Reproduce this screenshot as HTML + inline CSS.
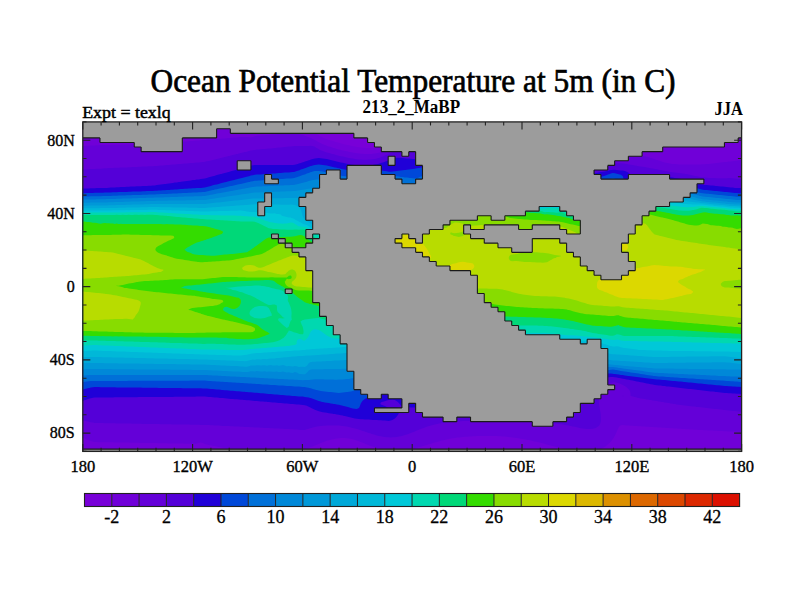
<!DOCTYPE html><html><head><meta charset="utf-8"><style>html,body{margin:0;padding:0;background:#fff;width:800px;height:600px;overflow:hidden}svg{display:block}</style></head><body><svg width="800" height="600" viewBox="0 0 800 600"><rect width="800" height="600" fill="#fff"/><defs><clipPath id="mc"><rect x="82.80" y="121.90" width="658.80" height="329.50"/></clipPath></defs><g clip-path="url(#mc)"><rect x="82.80" y="121.90" width="658.80" height="329.50" fill="#7800d8"/><path fill-rule="evenodd" fill="#7000d8" d="M282.8 123.9L284.8 123.8L286.8 123.8L288.7 123.9L288.8 123.9L290.8 124.0L292.8 124.2L294.8 124.5L296.8 124.9L298.8 125.4L300.6 125.9L300.8 126.0L302.8 126.7L304.8 127.5L305.8 127.9L306.8 128.3L308.8 129.3L309.9 129.9L310.8 130.4L312.8 131.5L313.5 131.9L314.8 132.7L316.6 133.9L316.8 134.0L318.8 135.3L319.7 135.9L320.8 136.6L322.8 137.6L323.4 137.9L324.8 138.5L326.8 139.2L328.8 139.9L328.8 139.9L330.8 140.5L332.8 141.1L334.8 141.7L335.4 141.9L336.8 142.3L338.8 142.8L340.8 143.4L342.8 143.9L342.9 143.9L344.8 144.4L346.8 144.9L348.8 145.3L350.8 145.7L351.5 145.9L352.8 146.2L354.8 146.5L356.8 146.9L358.8 147.2L360.8 147.5L362.8 147.7L364.8 147.9L364.9 147.9L366.8 148.0L368.8 148.1L370.8 148.1L372.8 148.1L374.8 147.9L374.8 147.9L376.8 147.6L378.8 147.1L380.8 146.3L381.7 145.9L382.8 145.3L384.8 144.3L385.5 143.9L386.8 143.2L388.8 142.2L389.4 141.9L390.8 141.2L392.8 140.4L394.0 139.9L394.8 139.6L396.8 138.9L398.8 138.3L400.1 137.9L400.8 137.7L402.8 137.2L404.8 136.8L406.8 136.4L408.8 136.0L409.6 135.9L410.8 135.7L412.8 135.4L414.8 135.1L416.8 134.8L418.8 134.5L420.8 134.2L422.8 134.0L423.2 133.9L424.8 133.7L426.8 133.4L428.8 133.0L430.8 132.7L432.8 132.4L434.8 132.0L435.6 131.9L436.8 131.7L438.8 131.3L440.8 131.0L442.8 130.6L444.8 130.3L446.8 129.9L446.8 129.9L448.8 129.5L450.8 129.2L452.8 128.9L454.8 128.5L456.8 128.2L458.8 127.9L458.8 127.9L460.8 127.6L462.8 127.3L464.8 127.1L466.8 126.8L468.8 126.6L470.8 126.4L472.8 126.2L474.8 126.0L475.7 125.9L476.8 125.8L478.8 125.7L480.8 125.5L482.8 125.4L484.8 125.3L486.8 125.2L488.8 125.2L490.8 125.1L492.8 125.1L494.8 125.1L496.8 125.1L498.8 125.2L500.8 125.2L502.8 125.3L504.8 125.3L506.8 125.4L508.8 125.5L510.8 125.6L512.8 125.7L514.8 125.9L515.1 125.9L516.8 126.0L518.8 126.2L520.8 126.3L522.8 126.5L524.8 126.6L526.8 126.8L528.8 127.0L530.8 127.1L532.8 127.3L534.8 127.4L536.8 127.6L538.8 127.7L540.8 127.8L542.1 127.9L542.8 127.9L544.8 128.0L546.8 128.1L548.8 128.2L550.8 128.2L552.8 128.2L554.8 128.1L556.8 128.1L558.8 128.0L560.3 127.9L560.8 127.9L562.8 127.7L564.8 127.5L566.8 127.3L568.8 127.0L570.8 126.7L572.8 126.4L574.8 126.1L575.7 125.9L576.8 125.7L578.8 125.4L580.8 125.0L582.8 124.7L584.8 124.4L586.8 124.1L588.7 123.9L588.8 123.9L590.8 123.7L592.8 123.6L594.8 123.5L596.8 123.5L598.8 123.5L600.8 123.6L602.8 123.8L603.4 123.9L604.8 124.1L606.8 124.4L608.8 124.8L610.8 125.3L612.8 125.9L612.9 125.9L614.8 126.5L616.8 127.2L618.7 127.9L618.8 128.0L620.8 128.8L622.8 129.7L623.3 129.9L624.8 130.6L626.8 131.5L627.6 131.9L628.8 132.5L630.8 133.4L631.8 133.9L632.8 134.4L634.8 135.3L636.3 135.9L636.8 136.1L638.8 136.9L640.8 137.7L641.4 137.9L642.8 138.4L644.8 139.1L646.8 139.7L647.3 139.9L648.8 140.4L650.8 141.0L652.8 141.6L653.7 141.9L654.8 142.3L656.8 142.9L658.8 143.5L660.1 143.9L660.8 144.1L662.8 144.6L664.8 145.0L666.8 145.3L668.8 145.5L670.8 145.6L672.8 145.4L674.8 145.1L676.8 144.5L678.3 143.9L678.8 143.7L680.8 142.7L682.1 141.9L682.8 141.5L684.8 140.2L685.2 139.9L686.8 138.8L688.0 137.9L688.8 137.4L690.8 136.0L691.0 135.9L692.8 134.8L694.5 133.9L694.8 133.8L696.8 132.8L698.8 132.0L699.1 131.9L700.8 131.3L702.8 130.7L704.8 130.2L706.1 129.9L706.8 129.7L708.8 129.4L710.8 129.0L712.8 128.7L714.8 128.5L716.8 128.2L718.8 127.9L719.2 127.9L720.8 127.7L722.8 127.5L724.8 127.3L726.8 127.1L728.8 126.8L730.8 126.6L732.8 126.5L734.8 126.3L736.8 126.1L738.8 126.0L740.8 125.9L741.5 125.9L742.8 125.9L744.8 125.8L744.8 125.9L744.8 127.9L744.8 129.9L744.8 131.9L744.8 133.9L744.8 135.9L744.8 137.9L744.8 139.9L744.8 141.9L744.8 143.9L744.8 145.9L744.8 147.9L744.8 149.9L744.8 151.9L744.8 153.9L744.8 155.9L744.8 157.9L744.8 159.9L744.8 161.9L744.8 163.9L744.8 165.9L744.8 167.9L744.8 169.9L744.8 171.9L744.8 173.9L744.8 175.9L744.8 177.9L744.8 179.9L744.8 181.9L744.8 183.9L744.8 185.9L744.8 187.9L744.8 189.9L744.8 191.9L744.8 193.9L744.8 195.9L744.8 197.9L744.8 199.9L744.8 201.9L744.8 203.9L744.8 205.9L744.8 207.9L744.8 209.9L744.8 211.9L744.8 213.9L744.8 215.9L744.8 217.9L744.8 219.9L744.8 221.9L744.8 223.9L744.8 225.9L744.8 227.9L744.8 229.9L744.8 231.9L744.8 233.9L744.8 235.9L744.8 237.9L744.8 239.9L744.8 241.9L744.8 243.9L744.8 245.9L744.8 247.9L744.8 249.9L744.8 251.9L744.8 253.9L744.8 255.9L744.8 257.9L744.8 259.9L744.8 261.9L744.8 263.9L744.8 265.9L744.8 267.9L744.8 269.9L744.8 271.9L744.8 273.9L744.8 275.9L744.8 277.9L744.8 279.9L744.8 281.9L744.8 283.9L744.8 285.9L744.8 287.9L744.8 289.9L744.8 291.9L744.8 293.9L744.8 295.9L744.8 297.9L744.8 299.9L744.8 301.9L744.8 303.9L744.8 305.9L744.8 307.9L744.8 309.9L744.8 311.9L744.8 313.9L744.8 315.9L744.8 317.9L744.8 319.9L744.8 321.9L744.8 323.9L744.8 325.9L744.8 327.9L744.8 329.9L744.8 331.9L744.8 333.9L744.8 335.9L744.8 337.9L744.8 339.9L744.8 341.9L744.8 343.9L744.8 345.9L744.8 347.9L744.8 349.9L744.8 351.9L744.8 353.9L744.8 355.9L744.8 357.9L744.8 359.9L744.8 361.9L744.8 363.9L744.8 365.9L744.8 367.9L744.8 369.9L744.8 371.9L744.8 373.9L744.8 375.9L744.8 377.9L744.8 379.9L744.8 381.9L744.8 383.9L744.8 385.9L744.8 387.9L744.8 389.9L744.8 391.9L744.8 393.9L744.8 395.9L744.8 397.9L744.8 399.9L744.8 401.9L744.8 403.9L744.8 405.9L744.8 407.9L744.8 409.9L744.8 411.9L744.8 413.9L744.8 415.9L744.8 417.9L744.8 419.9L744.8 421.9L744.8 423.9L744.8 425.9L744.8 427.9L744.8 429.9L744.8 431.9L744.8 433.9L744.8 435.9L744.8 437.9L744.8 439.9L744.8 441.9L744.8 443.9L744.8 445.9L744.8 447.9L744.8 449.9L744.8 451.9L744.8 453.9L742.8 453.9L740.8 453.9L738.8 453.9L736.8 453.9L734.8 453.9L732.8 453.9L730.8 453.9L728.8 453.9L726.8 453.9L724.8 453.9L722.8 453.9L720.8 453.9L718.8 453.9L716.8 453.9L714.8 453.9L712.8 453.9L710.8 453.9L708.8 453.9L706.8 453.9L704.8 453.9L702.8 453.9L700.8 453.9L698.8 453.9L696.8 453.9L694.8 453.9L692.8 453.9L690.8 453.9L688.8 453.9L686.8 453.9L684.8 453.9L682.8 453.9L680.8 453.9L678.8 453.9L676.8 453.9L674.8 453.9L672.8 453.9L670.8 453.9L668.8 453.9L666.8 453.9L664.8 453.9L662.8 453.9L660.8 453.9L658.8 453.9L656.8 453.9L654.8 453.9L652.8 453.9L650.8 453.9L648.8 453.9L646.8 453.9L644.8 453.9L642.8 453.9L640.8 453.9L638.8 453.9L636.8 453.9L634.8 453.9L632.8 453.9L630.8 453.9L628.8 453.9L626.8 453.9L624.8 453.9L622.8 453.9L620.8 453.9L618.8 453.9L616.8 453.9L614.8 453.9L612.8 453.9L610.8 453.9L608.8 453.9L606.8 453.9L604.8 453.9L602.8 453.9L600.8 453.9L598.8 453.9L596.8 453.9L594.8 453.9L592.8 453.9L590.8 453.9L588.8 453.9L586.8 453.9L584.8 453.9L582.8 453.9L580.8 453.9L578.8 453.9L576.8 453.9L574.8 453.9L572.8 453.9L570.8 453.9L568.8 453.9L566.8 453.9L564.8 453.9L562.8 453.9L560.8 453.9L558.8 453.9L556.8 453.9L554.8 453.9L552.8 453.9L550.8 453.9L548.8 453.9L546.8 453.9L544.8 453.9L542.8 453.9L540.8 453.9L538.8 453.9L536.8 453.9L534.8 453.9L532.8 453.9L530.8 453.9L528.8 453.9L526.8 453.9L524.8 453.9L522.8 453.9L520.8 453.9L518.8 453.9L516.8 453.9L514.8 453.9L512.8 453.9L510.8 453.9L508.8 453.9L506.8 453.9L504.8 453.9L502.8 453.9L500.8 453.9L498.8 453.9L496.8 453.9L494.8 453.9L492.8 453.9L490.8 453.9L488.8 453.9L486.8 453.9L484.8 453.9L482.8 453.9L480.8 453.9L478.8 453.9L476.8 453.9L474.8 453.9L472.8 453.9L470.8 453.9L468.8 453.9L466.8 453.9L464.8 453.9L462.8 453.9L460.8 453.9L458.8 453.9L456.8 453.9L454.8 453.9L452.8 453.9L450.8 453.9L448.8 453.9L446.8 453.9L444.8 453.9L442.8 453.9L440.8 453.9L438.8 453.9L436.8 453.9L434.8 453.9L432.8 453.9L430.8 453.9L428.8 453.9L426.8 453.9L424.8 453.9L422.8 453.9L420.8 453.9L418.8 453.9L416.8 453.9L414.8 453.9L412.8 453.9L410.8 453.9L408.8 453.9L406.8 453.9L404.8 453.9L402.8 453.9L400.8 453.9L398.8 453.9L396.8 453.9L394.8 453.9L392.8 453.9L390.8 453.9L388.8 453.9L386.8 453.9L384.8 453.9L382.8 453.9L380.8 453.9L378.8 453.9L376.8 453.9L374.8 453.9L372.8 453.9L370.8 453.9L368.8 453.9L366.8 453.9L364.8 453.9L362.8 453.9L360.8 453.9L358.8 453.9L356.8 453.9L354.8 453.9L353.2 453.9L352.8 453.8L350.8 453.4L348.8 453.1L346.8 453.0L344.8 453.0L342.8 453.2L340.8 453.5L338.8 453.9L338.6 453.9L336.8 453.9L334.8 453.9L332.8 453.9L330.8 453.9L328.8 453.9L326.8 453.9L324.8 453.9L322.8 453.9L320.8 453.9L318.8 453.9L316.8 453.9L314.8 453.9L312.8 453.9L310.8 453.9L308.8 453.9L306.8 453.9L304.8 453.9L302.8 453.9L300.8 453.9L298.8 453.9L296.8 453.9L294.8 453.9L292.8 453.9L290.8 453.9L288.8 453.9L286.8 453.9L284.8 453.9L282.8 453.9L280.8 453.9L278.8 453.9L276.8 453.9L274.8 453.9L272.8 453.9L270.8 453.9L268.8 453.9L266.8 453.9L264.8 453.9L262.8 453.9L260.8 453.9L258.8 453.9L256.8 453.9L254.8 453.9L252.8 453.9L250.8 453.9L248.8 453.9L246.8 453.9L244.8 453.9L242.8 453.9L240.8 453.9L238.8 453.9L236.8 453.9L234.8 453.9L232.8 453.9L230.8 453.9L228.8 453.9L226.8 453.9L224.8 453.9L222.8 453.9L220.8 453.9L218.8 453.9L216.8 453.9L214.8 453.9L212.8 453.9L210.8 453.9L208.8 453.9L206.8 453.9L204.8 453.9L203.2 453.9L202.8 453.7L200.8 453.2L198.8 453.0L196.8 453.3L194.8 453.7L193.7 453.9L192.8 453.9L190.8 453.9L188.8 453.9L186.8 453.9L184.8 453.9L182.8 453.9L180.8 453.9L178.8 453.9L176.8 453.9L174.8 453.9L172.8 453.9L170.8 453.9L168.8 453.9L166.8 453.9L164.8 453.9L162.8 453.9L160.8 453.9L158.8 453.9L156.8 453.9L154.8 453.9L152.8 453.9L150.8 453.9L148.8 453.9L146.8 453.9L144.8 453.9L142.8 453.9L140.8 453.9L138.8 453.9L136.8 453.9L134.8 453.9L132.8 453.9L130.8 453.9L128.8 453.9L126.8 453.9L124.8 453.9L122.8 453.9L120.8 453.9L118.8 453.9L116.8 453.9L114.8 453.9L112.8 453.9L110.8 453.9L108.8 453.9L106.8 453.9L104.8 453.9L102.8 453.9L100.8 453.9L98.8 453.9L96.8 453.9L94.8 453.9L92.8 453.9L90.8 453.9L88.8 453.9L86.8 453.9L84.8 453.9L84.6 453.9L82.8 453.4L80.8 452.9L80.8 451.9L80.8 449.9L80.8 447.9L80.8 445.9L80.8 443.9L80.8 441.9L80.8 439.9L80.8 437.9L80.8 435.9L80.8 433.9L80.8 431.9L80.8 429.9L80.8 427.9L80.8 425.9L80.8 423.9L80.8 421.9L80.8 419.9L80.8 417.9L80.8 415.9L80.8 413.9L80.8 411.9L80.8 409.9L80.8 407.9L80.8 405.9L80.8 403.9L80.8 401.9L80.8 399.9L80.8 397.9L80.8 395.9L80.8 393.9L80.8 391.9L80.8 389.9L80.8 387.9L80.8 385.9L80.8 383.9L80.8 381.9L80.8 379.9L80.8 377.9L80.8 375.9L80.8 373.9L80.8 371.9L80.8 369.9L80.8 367.9L80.8 365.9L80.8 363.9L80.8 361.9L80.8 359.9L80.8 357.9L80.8 355.9L80.8 353.9L80.8 351.9L80.8 349.9L80.8 347.9L80.8 345.9L80.8 343.9L80.8 341.9L80.8 339.9L80.8 337.9L80.8 335.9L80.8 333.9L80.8 331.9L80.8 329.9L80.8 327.9L80.8 325.9L80.8 323.9L80.8 321.9L80.8 319.9L80.8 317.9L80.8 315.9L80.8 313.9L80.8 311.9L80.8 309.9L80.8 307.9L80.8 305.9L80.8 303.9L80.8 301.9L80.8 299.9L80.8 297.9L80.8 295.9L80.8 293.9L80.8 291.9L80.8 289.9L80.8 287.9L80.8 285.9L80.8 283.9L80.8 281.9L80.8 279.9L80.8 277.9L80.8 275.9L80.8 273.9L80.8 271.9L80.8 269.9L80.8 267.9L80.8 265.9L80.8 263.9L80.8 261.9L80.8 259.9L80.8 257.9L80.8 255.9L80.8 253.9L80.8 251.9L80.8 249.9L80.8 247.9L80.8 245.9L80.8 243.9L80.8 241.9L80.8 239.9L80.8 237.9L80.8 235.9L80.8 233.9L80.8 231.9L80.8 229.9L80.8 227.9L80.8 225.9L80.8 223.9L80.8 221.9L80.8 219.9L80.8 217.9L80.8 215.9L80.8 213.9L80.8 211.9L80.8 209.9L80.8 207.9L80.8 205.9L80.8 203.9L80.8 201.9L80.8 199.9L80.8 197.9L80.8 195.9L80.8 193.9L80.8 191.9L80.8 189.9L80.8 187.9L80.8 185.9L80.8 183.9L80.8 181.9L80.8 179.9L80.8 177.9L80.8 175.9L80.8 173.9L80.8 171.9L80.8 169.9L80.8 167.9L80.8 165.9L80.8 163.9L80.8 161.9L80.8 159.9L80.8 157.9L80.8 155.9L80.8 153.9L80.8 151.9L80.8 149.9L80.8 147.9L80.8 145.9L80.8 143.9L80.8 141.9L80.8 139.9L80.8 137.9L80.8 135.9L80.8 133.9L80.8 131.9L80.8 129.9L80.8 127.9L80.8 125.9L82.8 126.1L84.8 126.2L86.8 126.4L88.8 126.6L90.8 126.8L92.8 127.0L94.8 127.3L96.8 127.5L98.8 127.7L100.8 127.9L100.8 127.9L102.8 128.1L104.8 128.3L106.8 128.5L108.8 128.7L110.8 128.9L112.8 129.1L114.8 129.2L116.8 129.4L118.8 129.6L120.8 129.8L121.4 129.9L122.8 130.0L124.8 130.3L126.8 130.5L128.8 130.7L130.8 131.0L132.8 131.2L134.8 131.5L136.8 131.8L137.4 131.9L138.8 132.1L140.8 132.4L142.8 132.8L144.8 133.1L146.8 133.3L148.8 133.4L150.8 133.3L152.8 133.1L154.8 132.6L156.8 132.2L157.8 131.9L158.8 131.6L160.8 131.1L162.8 130.6L164.8 130.2L166.0 129.9L166.8 129.7L168.8 129.3L170.8 128.9L172.8 128.5L174.8 128.1L176.3 127.9L176.8 127.8L178.8 127.5L180.8 127.2L182.8 126.9L184.8 126.7L186.8 126.4L188.8 126.2L190.8 126.0L192.4 125.9L192.8 125.9L194.8 125.7L196.8 125.6L198.8 125.5L200.8 125.4L202.8 125.3L204.8 125.2L206.8 125.2L208.8 125.1L210.8 125.1L212.8 125.2L214.8 125.2L216.8 125.2L218.8 125.3L220.8 125.4L222.8 125.5L224.8 125.6L226.8 125.7L228.8 125.9L228.8 125.9L230.8 126.1L232.8 126.3L234.8 126.5L236.8 126.8L238.8 127.1L240.8 127.4L242.8 127.8L243.5 127.9L244.8 128.1L246.8 128.5L248.8 128.7L250.8 128.6L252.8 128.2L253.8 127.9L254.8 127.6L256.8 127.0L258.8 126.5L260.8 126.1L262.0 125.9L262.8 125.7L264.8 125.4L266.8 125.1L268.8 124.9L270.8 124.6L272.8 124.4L274.8 124.3L276.8 124.1L278.8 124.0L280.8 123.9L281.7 123.9Z"/><path fill-rule="evenodd" fill="#6400d8" d="M282.8 133.8L284.8 133.7L286.8 133.5L288.8 133.3L290.8 133.1L292.8 133.1L294.8 133.2L296.8 133.5L298.8 133.9L298.8 133.9L300.8 134.5L302.8 135.1L304.8 135.7L305.3 135.9L306.8 136.4L308.8 137.2L310.5 137.9L310.8 138.0L312.8 138.9L314.7 139.9L314.8 139.9L316.8 141.1L318.2 141.9L318.8 142.3L320.8 143.3L322.1 143.9L322.8 144.2L324.8 145.1L326.8 145.8L327.0 145.9L328.8 146.5L330.8 147.1L332.8 147.7L333.4 147.9L334.8 148.3L336.8 148.9L338.8 149.4L340.8 149.9L340.8 149.9L342.8 150.4L344.8 150.9L346.8 151.3L348.8 151.8L349.5 151.9L350.8 152.2L352.8 152.5L354.8 152.9L356.8 153.2L358.8 153.5L360.8 153.7L362.8 153.8L363.6 153.9L364.8 154.0L366.8 154.0L368.8 154.0L370.8 154.0L371.8 153.9L372.8 153.8L374.8 153.6L376.8 153.3L378.8 152.8L380.8 152.2L381.5 151.9L382.8 151.3L384.8 150.3L385.6 149.9L386.8 149.3L388.8 148.2L389.5 147.9L390.8 147.3L392.8 146.4L394.2 145.9L394.8 145.7L396.8 145.0L398.8 144.5L400.8 144.1L401.7 143.9L402.8 143.7L404.8 143.4L406.8 143.2L408.8 143.0L410.8 142.8L412.8 142.6L414.8 142.5L416.8 142.3L418.8 142.2L420.8 142.0L421.3 141.9L422.8 141.7L424.8 141.5L426.8 141.2L428.8 140.9L430.8 140.6L432.8 140.3L434.8 139.9L435.0 139.9L436.8 139.6L438.8 139.2L440.8 138.8L442.8 138.4L444.8 138.0L445.5 137.9L446.8 137.6L448.8 137.3L450.8 136.9L452.8 136.5L454.8 136.2L456.5 135.9L456.8 135.8L458.8 135.5L460.8 135.2L462.8 134.9L464.8 134.7L466.8 134.4L468.8 134.2L470.8 134.0L471.6 133.9L472.8 133.8L474.8 133.6L476.8 133.5L478.8 133.4L480.8 133.3L482.8 133.2L484.8 133.1L486.8 133.1L488.8 133.1L490.8 133.1L492.8 133.1L494.8 133.2L496.8 133.3L498.8 133.4L500.8 133.5L502.8 133.6L504.8 133.8L506.3 133.9L506.8 133.9L508.8 134.1L510.8 134.4L512.8 134.6L514.8 134.8L516.8 135.1L518.8 135.4L520.8 135.6L522.6 135.9L522.8 135.9L524.8 136.2L526.8 136.5L528.8 136.8L530.8 137.2L532.8 137.5L534.8 137.8L535.4 137.9L536.8 138.1L538.8 138.4L540.8 138.7L542.8 139.0L544.8 139.3L546.8 139.6L548.8 139.9L548.9 139.9L550.8 140.1L552.8 140.4L554.8 140.6L556.8 140.8L558.8 140.9L560.8 141.0L562.8 141.1L564.8 141.2L566.8 141.1L568.8 141.1L570.8 140.9L572.8 140.7L574.8 140.4L576.8 140.0L577.1 139.9L578.8 139.5L580.8 139.0L582.8 138.5L584.8 137.9L585.0 137.9L586.8 137.5L588.8 137.0L590.8 136.7L592.8 136.4L594.8 136.2L596.8 136.2L598.8 136.3L600.8 136.5L602.8 136.8L604.8 137.4L606.4 137.9L606.8 138.0L608.8 138.9L610.8 139.9L610.8 139.9L612.8 141.1L614.0 141.9L614.8 142.5L616.7 143.9L616.8 144.0L618.8 145.6L619.3 145.9L620.8 147.1L621.9 147.9L622.8 148.5L624.8 149.7L625.1 149.9L626.8 150.8L628.8 151.7L629.3 151.9L630.8 152.5L632.8 153.2L634.8 153.8L635.2 153.9L636.8 154.3L638.8 154.8L640.8 155.2L642.8 155.7L643.5 155.9L644.8 156.2L646.8 156.7L648.8 157.3L650.6 157.9L650.8 158.0L652.8 158.6L654.8 159.3L656.6 159.9L656.8 160.0L658.8 160.6L660.8 161.2L662.8 161.9L662.9 161.9L664.8 162.4L666.8 162.9L668.8 163.3L670.8 163.7L672.3 163.9L672.8 164.0L674.8 164.1L676.8 164.3L678.8 164.4L680.8 164.4L682.8 164.5L684.8 164.5L686.8 164.5L688.8 164.5L690.8 164.5L692.8 164.5L694.8 164.5L696.8 164.5L698.8 164.4L700.8 164.4L702.8 164.3L704.8 164.2L706.8 164.0L708.7 163.9L708.8 163.9L710.8 163.7L712.8 163.5L714.8 163.3L716.8 163.0L718.8 162.8L720.8 162.6L722.8 162.3L724.8 162.1L726.4 161.9L726.8 161.9L728.8 161.6L730.8 161.4L732.8 161.2L734.8 161.0L736.8 160.8L738.8 160.5L740.8 160.1L741.9 159.9L742.8 159.7L744.8 159.1L744.8 159.9L744.8 161.9L744.8 163.9L744.8 165.9L744.8 167.9L744.8 169.9L744.8 171.9L744.8 173.9L744.8 175.9L744.8 177.9L744.8 179.9L744.8 181.9L744.8 183.9L744.8 185.9L744.8 187.9L744.8 189.9L744.8 191.9L744.8 193.9L744.8 195.9L744.8 197.9L744.8 199.9L744.8 201.9L744.8 203.9L744.8 205.9L744.8 207.9L744.8 209.9L744.8 211.9L744.8 213.9L744.8 215.9L744.8 217.9L744.8 219.9L744.8 221.9L744.8 223.9L744.8 225.9L744.8 227.9L744.8 229.9L744.8 231.9L744.8 233.9L744.8 235.9L744.8 237.9L744.8 239.9L744.8 241.9L744.8 243.9L744.8 245.9L744.8 247.9L744.8 249.9L744.8 251.9L744.8 253.9L744.8 255.9L744.8 257.9L744.8 259.9L744.8 261.9L744.8 263.9L744.8 265.9L744.8 267.9L744.8 269.9L744.8 271.9L744.8 273.9L744.8 275.9L744.8 277.9L744.8 279.9L744.8 281.9L744.8 283.9L744.8 285.9L744.8 287.9L744.8 289.9L744.8 291.9L744.8 293.9L744.8 295.9L744.8 297.9L744.8 299.9L744.8 301.9L744.8 303.9L744.8 305.9L744.8 307.9L744.8 309.9L744.8 311.9L744.8 313.9L744.8 315.9L744.8 317.9L744.8 319.9L744.8 321.9L744.8 323.9L744.8 325.9L744.8 327.9L744.8 329.9L744.8 331.9L744.8 333.9L744.8 335.9L744.8 337.9L744.8 339.9L744.8 341.9L744.8 343.9L744.8 345.9L744.8 347.9L744.8 349.9L744.8 351.9L744.8 353.9L744.8 355.9L744.8 357.9L744.8 359.9L744.8 361.9L744.8 363.9L744.8 365.9L744.8 367.9L744.8 369.9L744.8 371.9L744.8 373.9L744.8 375.9L744.8 377.9L744.8 379.9L744.8 381.9L744.8 383.9L744.8 385.9L744.8 387.9L744.8 389.9L744.8 391.9L744.8 393.9L744.8 395.9L744.8 397.9L744.8 399.9L744.8 401.9L744.8 403.9L744.8 405.9L744.8 407.9L744.8 409.9L744.8 411.9L744.8 413.9L744.8 415.9L744.8 417.9L744.8 419.9L744.8 421.9L744.8 423.9L744.8 425.9L744.8 427.9L744.8 429.9L744.8 431.9L744.8 432.5L742.8 432.2L740.8 431.9L740.0 431.9L738.8 431.8L736.8 431.8L734.8 431.7L732.8 431.6L730.8 431.5L728.8 431.4L726.8 431.3L724.8 431.2L722.8 431.1L720.8 431.0L718.8 430.9L716.8 430.8L714.8 430.7L712.8 430.6L710.8 430.5L708.8 430.4L706.8 430.3L704.8 430.2L702.8 430.1L700.8 430.0L698.8 429.9L698.3 429.9L696.8 429.8L694.8 429.7L692.8 429.6L690.8 429.4L688.8 429.3L686.8 429.2L684.8 429.1L682.8 428.9L680.8 428.8L678.8 428.7L676.8 428.6L674.8 428.4L672.8 428.3L670.8 428.2L668.8 428.1L666.8 427.9L666.3 427.9L664.8 427.8L662.8 427.7L660.8 427.6L658.8 427.4L656.8 427.3L654.8 427.2L652.8 427.1L650.8 426.9L648.8 426.8L646.8 426.7L644.8 426.6L642.8 426.4L640.8 426.3L638.8 426.2L636.8 426.1L634.8 425.9L634.4 425.9L632.8 425.8L630.8 425.7L628.8 425.5L626.8 425.4L624.8 425.2L622.8 425.0L620.8 425.3L619.9 425.9L618.8 427.1L618.4 427.9L617.5 429.9L616.8 431.4L616.6 431.9L615.7 433.9L614.8 435.7L614.7 435.9L613.6 437.9L612.8 439.0L612.2 439.9L610.8 441.6L610.5 441.9L608.8 443.6L608.5 443.9L606.8 445.3L606.0 445.9L604.8 446.7L602.8 447.9L602.8 447.9L600.8 448.9L598.8 449.8L598.4 449.9L596.8 450.4L594.8 451.0L592.8 451.4L590.8 451.8L589.8 451.9L588.8 452.0L586.8 452.2L584.8 452.2L582.8 452.2L580.8 452.1L578.8 452.0L578.3 451.9L576.8 451.7L574.8 451.5L572.8 451.1L570.8 450.7L568.8 450.3L567.0 449.9L566.8 449.9L564.8 449.4L562.8 448.8L560.8 448.3L559.3 447.9L558.8 447.8L556.8 447.2L554.8 446.6L552.8 446.1L552.2 445.9L550.8 445.5L548.8 444.9L546.8 444.4L545.0 443.9L544.8 443.8L542.8 443.3L540.8 442.8L538.8 442.3L537.1 441.9L536.8 441.8L534.8 441.4L532.8 440.9L530.8 440.5L528.8 440.1L527.8 439.9L526.8 439.7L524.8 439.3L522.8 439.0L520.8 438.7L518.8 438.3L516.8 438.0L515.9 437.9L514.8 437.7L512.8 437.5L510.8 437.2L508.8 437.0L506.8 436.8L504.8 436.6L502.8 436.5L500.8 436.3L498.8 436.2L496.8 436.1L494.8 436.0L492.8 436.0L490.8 436.0L488.8 435.9L486.8 435.9L484.8 436.0L482.8 436.0L480.8 436.0L478.8 436.1L476.8 436.1L474.8 436.2L472.8 436.3L470.8 436.4L468.8 436.5L466.8 436.7L464.8 436.8L462.8 437.0L460.8 437.2L458.8 437.4L456.8 437.6L455.0 437.9L454.8 437.9L452.8 438.2L450.8 438.6L448.8 439.0L446.8 439.4L444.8 439.8L444.6 439.9L442.8 440.3L440.8 440.8L438.8 441.4L437.0 441.9L436.8 442.0L434.8 442.5L432.8 443.1L430.8 443.7L430.2 443.9L428.8 444.3L426.8 444.9L424.8 445.5L423.6 445.9L422.8 446.1L420.8 446.7L418.8 447.3L416.8 447.8L416.3 447.9L414.8 448.3L412.8 448.7L410.8 449.2L408.8 449.5L406.8 449.9L406.5 449.9L404.8 450.1L402.8 450.4L400.8 450.5L398.8 450.6L396.8 450.7L394.8 450.7L392.8 450.6L390.8 450.5L388.8 450.3L386.8 450.1L385.8 449.9L384.8 449.8L382.8 449.4L380.8 448.9L378.8 448.4L376.8 447.9L376.8 447.9L374.8 447.3L372.8 446.6L370.8 445.9L370.8 445.9L368.8 445.2L366.8 444.4L365.5 443.9L364.8 443.6L362.8 442.8L360.8 442.0L360.5 441.9L358.8 441.2L356.8 440.5L355.0 439.9L354.8 439.8L352.8 439.3L350.8 438.8L348.8 438.5L346.8 438.2L344.8 438.1L342.8 438.0L340.8 438.1L338.8 438.2L336.8 438.5L334.8 438.8L332.8 439.2L330.8 439.7L329.9 439.9L328.8 440.2L326.8 440.8L324.8 441.5L323.8 441.9L322.8 442.3L320.8 443.1L318.8 443.9L318.8 443.9L316.8 444.7L314.8 445.6L313.9 445.9L312.8 446.4L310.8 447.1L308.8 447.9L308.7 447.9L306.8 448.5L304.8 449.2L302.8 449.8L302.4 449.9L300.8 450.3L298.8 450.8L296.8 451.3L294.8 451.7L293.7 451.9L292.8 452.1L290.8 452.4L288.8 452.7L286.8 453.0L284.8 453.2L282.8 453.4L280.8 453.6L278.8 453.7L276.8 453.8L274.8 453.9L273.4 453.9L272.8 453.9L270.8 453.9L268.8 453.9L268.5 453.9L266.8 453.9L264.8 453.8L262.8 453.7L260.8 453.6L258.8 453.4L256.8 453.2L254.8 453.1L252.8 452.8L250.8 452.6L248.8 452.3L246.8 452.1L245.6 451.9L244.8 451.8L242.8 451.5L240.8 451.1L238.8 450.8L236.8 450.4L234.8 450.1L233.9 449.9L232.8 449.7L230.8 449.3L228.8 448.9L226.8 448.5L224.8 448.1L223.6 447.9L222.8 447.7L220.8 447.3L218.8 446.9L216.8 446.5L214.8 446.1L213.6 445.9L212.8 445.7L210.8 445.3L208.8 444.9L206.8 444.4L204.8 443.9L204.8 443.9L202.8 443.0L200.8 442.5L198.8 442.8L196.8 443.4L194.8 443.7L192.8 443.8L190.8 443.8L188.8 443.7L186.8 443.7L184.8 443.7L182.8 443.6L180.8 443.6L178.8 443.5L176.8 443.5L174.8 443.5L172.8 443.4L170.8 443.4L168.8 443.4L166.8 443.3L164.8 443.3L162.8 443.3L160.8 443.2L158.8 443.2L156.8 443.1L154.8 443.1L152.8 443.1L150.8 443.0L148.8 443.0L146.8 443.0L144.8 442.9L142.8 442.9L140.8 442.9L138.8 442.8L136.8 442.8L134.8 442.7L132.8 442.7L130.8 442.7L128.8 442.6L126.8 442.6L124.8 442.6L122.8 442.5L120.8 442.5L118.8 442.5L116.8 442.4L114.8 442.4L112.8 442.3L110.8 442.3L108.8 442.3L106.8 442.2L104.8 442.2L102.8 442.2L100.8 442.2L98.8 442.2L96.8 442.1L94.8 442.0L94.2 441.9L92.8 441.6L90.8 440.9L88.8 440.2L88.1 439.9L86.8 439.4L84.8 438.6L82.8 438.0L82.5 437.9L80.8 437.4L80.8 435.9L80.8 433.9L80.8 431.9L80.8 429.9L80.8 427.9L80.8 425.9L80.8 423.9L80.8 421.9L80.8 419.9L80.8 417.9L80.8 415.9L80.8 413.9L80.8 411.9L80.8 409.9L80.8 407.9L80.8 405.9L80.8 403.9L80.8 401.9L80.8 399.9L80.8 397.9L80.8 395.9L80.8 393.9L80.8 391.9L80.8 389.9L80.8 387.9L80.8 385.9L80.8 383.9L80.8 381.9L80.8 379.9L80.8 377.9L80.8 375.9L80.8 373.9L80.8 371.9L80.8 369.9L80.8 367.9L80.8 365.9L80.8 363.9L80.8 361.9L80.8 359.9L80.8 357.9L80.8 355.9L80.8 353.9L80.8 351.9L80.8 349.9L80.8 347.9L80.8 345.9L80.8 343.9L80.8 341.9L80.8 339.9L80.8 337.9L80.8 335.9L80.8 333.9L80.8 331.9L80.8 329.9L80.8 327.9L80.8 325.9L80.8 323.9L80.8 321.9L80.8 319.9L80.8 317.9L80.8 315.9L80.8 313.9L80.8 311.9L80.8 309.9L80.8 307.9L80.8 305.9L80.8 303.9L80.8 301.9L80.8 299.9L80.8 297.9L80.8 295.9L80.8 293.9L80.8 291.9L80.8 289.9L80.8 287.9L80.8 285.9L80.8 283.9L80.8 281.9L80.8 279.9L80.8 277.9L80.8 275.9L80.8 273.9L80.8 271.9L80.8 269.9L80.8 267.9L80.8 265.9L80.8 263.9L80.8 261.9L80.8 259.9L80.8 257.9L80.8 255.9L80.8 253.9L80.8 251.9L80.8 249.9L80.8 247.9L80.8 245.9L80.8 243.9L80.8 241.9L80.8 239.9L80.8 237.9L80.8 235.9L80.8 233.9L80.8 231.9L80.8 229.9L80.8 227.9L80.8 225.9L80.8 223.9L80.8 221.9L80.8 219.9L80.8 217.9L80.8 215.9L80.8 213.9L80.8 211.9L80.8 209.9L80.8 207.9L80.8 205.9L80.8 203.9L80.8 201.9L80.8 199.9L80.8 197.9L80.8 195.9L80.8 193.9L80.8 191.9L80.8 189.9L80.8 187.9L80.8 185.9L80.8 183.9L80.8 181.9L80.8 179.9L80.8 177.9L80.8 175.9L80.8 173.9L80.8 171.9L80.8 169.9L80.8 167.9L80.8 165.9L80.8 163.9L80.8 161.9L80.8 159.9L80.8 157.9L80.8 155.9L80.8 153.9L80.8 151.9L80.8 149.9L80.8 147.9L80.8 145.9L82.8 145.9L83.9 145.9L84.8 145.9L86.8 145.8L88.8 145.7L90.8 145.6L92.8 145.5L94.8 145.4L96.8 145.3L98.8 145.2L100.8 145.1L102.8 145.0L104.8 145.0L106.8 144.9L108.8 144.9L110.8 144.9L112.8 144.8L114.8 144.8L116.8 144.7L118.8 144.7L120.8 144.7L122.8 144.6L124.8 144.6L126.8 144.6L128.8 144.5L130.8 144.5L132.8 144.4L134.8 144.4L136.8 144.4L138.8 144.3L140.8 144.3L142.8 144.3L144.8 144.3L146.8 144.3L148.8 144.3L150.8 144.4L152.8 144.2L154.8 144.0L156.2 143.9L156.8 143.8L158.8 143.7L160.8 143.5L162.8 143.3L164.8 143.2L166.8 143.0L168.8 142.8L170.8 142.7L172.8 142.5L174.8 142.4L176.8 142.2L178.8 142.0L180.3 141.9L180.8 141.9L182.8 141.7L184.8 141.5L186.8 141.4L188.8 141.2L190.8 141.1L192.8 140.9L194.8 140.8L196.8 140.6L198.8 140.4L200.8 140.3L202.8 140.1L204.8 139.9L205.4 139.9L206.8 139.8L208.8 139.6L210.8 139.5L212.8 139.3L214.8 139.2L216.8 139.0L218.8 138.8L220.8 138.7L222.8 138.5L224.8 138.4L226.8 138.2L228.8 138.0L230.4 137.9L230.8 137.9L232.8 137.7L234.8 137.6L236.8 137.4L238.8 137.2L240.8 137.1L242.8 137.0L244.8 136.9L246.8 137.0L248.8 137.3L250.8 137.5L252.8 136.9L254.8 136.2L256.2 135.9L256.8 135.8L258.8 135.6L260.8 135.5L262.8 135.3L264.8 135.2L266.8 135.1L268.8 134.9L270.8 134.8L272.8 134.6L274.8 134.4L276.8 134.3L278.8 134.1L280.8 134.0L281.9 133.9Z"/><path fill-rule="evenodd" fill="#5400d8" d="M464.8 141.9L466.8 141.6L468.8 141.4L470.8 141.2L472.8 141.0L474.8 140.8L476.8 140.7L478.8 140.6L480.8 140.5L482.8 140.5L484.8 140.4L486.8 140.5L488.8 140.5L490.8 140.5L492.8 140.6L494.8 140.7L496.8 140.9L498.8 141.0L500.8 141.2L502.8 141.5L504.8 141.7L506.3 141.9L506.8 142.0L508.8 142.2L510.8 142.6L512.8 142.9L514.8 143.2L516.8 143.6L518.3 143.9L518.8 144.0L520.8 144.4L522.8 144.8L524.8 145.2L526.8 145.7L527.7 145.9L528.8 146.1L530.8 146.6L532.8 147.1L534.8 147.5L536.3 147.9L536.8 148.0L538.8 148.5L540.8 149.0L542.8 149.4L544.8 149.9L544.8 149.9L546.8 150.4L548.8 150.8L550.8 151.3L552.8 151.8L553.3 151.9L554.8 152.2L556.8 152.7L558.8 153.2L560.8 153.6L561.9 153.9L562.8 154.1L564.8 154.6L566.8 155.1L568.8 155.6L570.2 155.9L570.8 156.1L572.8 156.5L574.8 157.0L576.8 157.5L578.2 157.9L578.8 158.0L580.8 158.5L582.8 158.9L584.8 159.3L586.8 159.4L588.5 157.9L588.8 157.5L589.4 155.9L590.6 153.9L590.8 153.7L592.4 151.9L592.8 151.6L594.8 150.4L596.4 149.9L596.8 149.8L598.8 149.7L600.4 149.9L600.8 150.0L602.8 150.8L604.2 151.9L604.8 152.5L605.8 153.9L606.6 155.9L606.8 157.2L606.9 157.9L606.8 158.8L606.7 159.9L606.1 161.9L605.9 163.9L606.8 164.1L608.8 164.1L610.8 164.0L611.9 163.9L612.8 163.8L614.8 163.5L616.8 163.3L618.8 163.2L620.8 163.2L622.8 163.5L624.8 163.8L625.6 163.9L626.8 164.1L628.8 164.4L630.8 164.7L632.8 165.0L634.8 165.4L636.8 165.8L637.4 165.9L638.8 166.2L640.8 166.5L642.8 166.8L644.8 167.1L646.8 167.5L648.8 167.8L649.3 167.9L650.8 168.2L652.8 168.5L654.8 168.9L656.8 169.3L658.8 169.7L659.5 169.9L660.8 170.1L662.8 170.5L664.8 170.9L666.8 171.3L668.8 171.7L669.8 171.9L670.8 172.1L672.8 172.3L674.8 172.5L676.8 172.7L678.8 172.9L680.8 173.2L682.8 173.4L684.8 173.8L685.4 173.9L686.8 174.1L688.8 174.5L690.8 174.9L692.8 175.4L694.8 175.9L695.0 175.9L696.8 176.3L698.8 176.7L700.8 177.0L702.8 177.3L704.8 177.6L706.8 177.7L708.8 177.9L709.5 177.9L710.8 178.0L712.8 178.0L714.8 178.1L716.8 178.2L718.8 178.2L720.8 178.3L722.8 178.2L724.8 178.2L726.8 178.2L728.8 178.1L730.8 178.1L732.8 178.2L734.8 178.5L736.8 178.8L738.8 179.0L740.8 179.1L742.8 178.8L744.8 178.4L744.8 179.9L744.8 181.9L744.8 183.9L744.8 185.9L744.8 187.9L744.8 189.9L744.8 191.9L744.8 193.9L744.8 195.9L744.8 197.9L744.8 199.9L744.8 201.9L744.8 203.9L744.8 205.9L744.8 207.9L744.8 209.9L744.8 211.9L744.8 213.9L744.8 215.9L744.8 217.9L744.8 219.9L744.8 221.9L744.8 223.9L744.8 225.9L744.8 227.9L744.8 229.9L744.8 231.9L744.8 233.9L744.8 235.9L744.8 237.9L744.8 239.9L744.8 241.9L744.8 243.9L744.8 245.9L744.8 247.9L744.8 249.9L744.8 251.9L744.8 253.9L744.8 255.9L744.8 257.9L744.8 259.9L744.8 261.9L744.8 263.9L744.8 265.9L744.8 267.9L744.8 269.9L744.8 271.9L744.8 273.9L744.8 275.9L744.8 277.9L744.8 279.9L744.8 281.9L744.8 283.9L744.8 285.9L744.8 287.9L744.8 289.9L744.8 291.9L744.8 293.9L744.8 295.9L744.8 297.9L744.8 299.9L744.8 301.9L744.8 303.9L744.8 305.9L744.8 307.9L744.8 309.9L744.8 311.9L744.8 313.9L744.8 315.9L744.8 317.9L744.8 319.9L744.8 321.9L744.8 323.9L744.8 325.9L744.8 327.9L744.8 329.9L744.8 331.9L744.8 333.9L744.8 335.9L744.8 337.9L744.8 339.9L744.8 341.9L744.8 343.9L744.8 345.9L744.8 347.9L744.8 349.9L744.8 351.9L744.8 353.9L744.8 355.9L744.8 357.9L744.8 359.9L744.8 361.9L744.8 363.9L744.8 365.9L744.8 367.9L744.8 369.9L744.8 371.9L744.8 373.9L744.8 375.9L744.8 377.9L744.8 379.9L744.8 381.9L744.8 383.9L744.8 385.9L744.8 387.9L744.8 389.9L744.8 391.9L744.8 393.9L744.8 395.9L744.8 397.9L744.8 399.9L744.8 401.9L744.8 403.9L744.8 405.9L744.8 407.9L744.8 409.9L744.8 411.9L744.8 412.3L742.8 412.0L741.6 411.9L740.8 411.8L738.8 411.6L736.8 411.3L734.8 411.1L732.8 410.9L730.8 410.7L728.8 410.5L726.8 410.2L724.8 410.0L723.7 409.9L722.8 409.8L720.8 409.6L718.8 409.3L716.8 409.1L714.8 408.9L712.8 408.7L710.8 408.4L708.8 408.2L706.8 408.0L705.9 407.9L704.8 407.8L702.8 407.5L700.8 407.3L698.8 407.1L696.8 406.9L694.8 406.6L692.8 406.4L690.8 406.2L688.8 406.0L688.2 405.9L686.8 405.7L684.8 405.5L682.8 405.3L680.8 405.0L678.8 404.8L676.8 404.4L674.8 404.1L673.5 403.9L672.8 403.8L670.8 403.4L668.8 403.1L666.8 402.8L664.8 402.4L662.8 402.1L661.5 401.9L660.8 401.8L658.8 401.5L656.8 401.1L654.8 400.8L652.8 400.5L650.8 400.1L649.5 399.9L648.8 399.8L646.8 399.4L644.8 399.1L642.8 398.7L640.8 398.4L638.8 398.0L638.1 397.9L636.8 397.6L634.8 397.1L632.8 396.6L630.8 396.0L630.5 395.9L630.5 393.9L630.3 391.9L629.3 389.9L628.8 389.5L627.4 387.9L626.8 387.6L624.8 386.1L624.6 385.9L622.8 385.0L620.8 383.9L620.8 383.9L618.8 383.3L616.8 382.7L614.8 382.3L612.8 382.4L610.8 383.0L608.8 383.9L608.8 383.9L606.8 385.5L606.2 385.9L604.8 387.4L604.2 387.9L602.8 389.7L602.7 389.9L601.4 391.9L600.8 393.1L600.4 393.9L599.7 395.9L599.2 397.9L598.9 399.9L598.8 401.9L599.0 403.9L599.3 405.9L599.7 407.9L600.0 409.9L600.4 411.9L600.7 413.9L600.8 415.4L600.8 415.9L600.9 417.9L600.9 419.9L600.8 420.8L600.7 421.9L600.1 423.9L598.9 425.9L598.8 426.0L596.8 427.3L595.6 427.9L594.8 428.2L592.8 428.7L590.8 429.0L588.8 429.1L586.8 429.0L584.8 428.8L582.8 428.5L580.8 428.2L579.6 427.9L578.8 427.7L576.8 427.3L574.8 426.8L572.8 426.4L570.8 426.0L570.4 425.9L568.8 425.6L566.8 425.2L564.8 424.9L562.8 424.5L560.8 424.2L558.8 424.0L558.2 423.9L556.8 423.7L554.8 423.5L552.8 423.3L550.8 423.1L548.8 422.9L546.8 422.7L544.8 422.6L542.8 422.4L540.8 422.3L538.8 422.2L536.8 422.1L534.8 421.9L534.1 421.9L532.8 421.8L530.8 421.7L528.8 421.6L526.8 421.5L524.8 421.4L522.8 421.4L520.8 421.3L518.8 421.2L516.8 421.1L514.8 421.1L512.8 421.0L510.8 420.9L508.8 420.9L506.8 420.8L504.8 420.8L502.8 420.7L500.8 420.7L498.8 420.7L496.8 420.7L494.8 420.6L492.8 420.6L490.8 420.6L488.8 420.6L486.8 420.6L484.8 420.6L482.8 420.7L480.8 420.7L478.8 420.7L476.8 420.7L474.8 420.8L472.8 420.8L470.8 420.8L468.8 420.9L466.8 421.0L464.8 421.0L462.8 421.1L460.8 421.2L458.8 421.3L456.8 421.4L454.8 421.5L452.8 421.7L450.8 421.9L450.5 421.9L448.8 422.1L446.8 422.3L444.8 422.6L442.8 422.9L440.8 423.2L438.8 423.6L437.5 423.9L436.8 424.0L434.8 424.5L432.8 425.0L430.8 425.5L429.5 425.9L428.8 426.1L426.8 426.8L424.8 427.4L423.5 427.9L422.8 428.2L420.8 428.9L418.8 429.7L418.4 429.9L416.8 430.5L414.8 431.4L413.6 431.9L412.8 432.2L410.8 433.0L408.8 433.8L408.5 433.9L406.8 434.5L404.8 435.1L402.8 435.7L402.1 435.9L400.8 436.2L398.8 436.6L396.8 437.0L394.8 437.2L392.8 437.3L390.8 437.4L388.8 437.3L386.8 437.2L384.8 437.0L382.8 436.7L380.8 436.3L378.8 435.9L378.8 435.9L376.8 435.4L374.8 434.8L372.8 434.2L371.7 433.9L370.8 433.6L368.8 432.9L366.8 432.2L365.8 431.9L364.8 431.6L362.8 430.9L360.8 430.2L359.8 429.9L358.8 429.6L356.8 429.0L354.8 428.4L352.8 427.9L352.7 427.9L350.8 427.4L348.8 427.0L346.8 426.6L344.8 426.3L342.8 426.0L341.8 425.9L340.8 425.8L338.8 425.6L336.8 425.5L334.8 425.4L332.8 425.4L330.8 425.4L328.8 425.4L326.8 425.5L324.8 425.7L322.8 425.8L322.1 425.9L320.8 426.1L318.8 426.3L316.8 426.6L314.8 427.0L312.8 427.5L311.4 427.9L310.8 428.1L308.8 428.7L306.8 429.3L304.8 429.9L304.0 429.9L302.8 430.0L301.4 429.9L300.8 429.9L298.8 429.7L296.8 429.5L294.8 429.4L292.8 429.3L290.8 429.2L288.8 429.1L286.8 429.0L284.8 428.9L282.8 428.8L280.8 428.7L278.8 428.6L276.8 428.5L274.8 428.4L272.8 428.3L270.8 428.2L268.8 428.1L266.8 428.0L264.8 427.9L264.1 427.9L262.8 427.8L260.8 427.7L258.8 427.6L256.8 427.5L254.8 427.4L252.8 427.3L250.8 427.2L248.8 427.1L246.8 427.0L244.8 426.9L242.8 426.8L240.8 426.7L238.8 426.6L236.8 426.5L234.8 426.4L232.8 426.3L230.8 426.2L228.8 426.1L226.8 426.0L224.8 426.0L223.3 425.9L222.8 425.9L220.8 425.7L218.8 425.6L216.8 425.6L214.8 425.4L212.8 425.3L210.8 425.2L208.8 425.1L206.8 425.0L204.8 425.0L202.8 424.9L200.8 424.9L198.8 424.8L196.8 424.8L194.8 424.8L192.8 424.7L190.8 424.7L188.8 424.6L186.8 424.6L184.8 424.6L182.8 424.5L180.8 424.5L178.8 424.5L176.8 424.4L174.8 424.4L172.8 424.4L170.8 424.3L168.8 424.3L166.8 424.3L164.8 424.2L162.8 424.2L160.8 424.2L158.8 424.1L156.8 424.1L154.8 424.1L152.8 424.0L150.8 424.0L148.8 424.0L146.8 423.9L145.6 423.9L144.8 423.9L142.8 423.9L140.8 423.8L138.8 423.8L136.8 423.7L134.8 423.7L132.8 423.7L130.8 423.6L128.8 423.6L126.8 423.5L124.8 423.5L122.8 423.5L120.8 423.4L118.8 423.4L116.8 423.4L114.8 423.3L112.8 423.3L110.8 423.3L108.8 423.2L106.8 423.2L104.8 423.2L102.8 423.1L100.8 423.1L98.8 423.1L96.8 423.1L94.8 423.0L92.8 422.6L90.8 422.2L89.7 421.9L88.8 421.7L86.8 421.2L84.8 420.8L82.8 420.4L80.8 420.2L80.8 419.9L80.8 417.9L80.8 415.9L80.8 413.9L80.8 411.9L80.8 409.9L80.8 407.9L80.8 405.9L80.8 403.9L80.8 401.9L80.8 399.9L80.8 397.9L80.8 395.9L80.8 393.9L80.8 391.9L80.8 389.9L80.8 387.9L80.8 385.9L80.8 383.9L80.8 381.9L80.8 379.9L80.8 377.9L80.8 375.9L80.8 373.9L80.8 371.9L80.8 369.9L80.8 367.9L80.8 365.9L80.8 363.9L80.8 361.9L80.8 359.9L80.8 357.9L80.8 355.9L80.8 353.9L80.8 351.9L80.8 349.9L80.8 347.9L80.8 345.9L80.8 343.9L80.8 341.9L80.8 339.9L80.8 337.9L80.8 335.9L80.8 333.9L80.8 331.9L80.8 329.9L80.8 327.9L80.8 325.9L80.8 323.9L80.8 321.9L80.8 319.9L80.8 317.9L80.8 315.9L80.8 313.9L80.8 311.9L80.8 309.9L80.8 307.9L80.8 305.9L80.8 303.9L80.8 301.9L80.8 299.9L80.8 297.9L80.8 295.9L80.8 293.9L80.8 291.9L80.8 289.9L80.8 287.9L80.8 285.9L80.8 283.9L80.8 281.9L80.8 279.9L80.8 277.9L80.8 275.9L80.8 273.9L80.8 271.9L80.8 269.9L80.8 267.9L80.8 265.9L80.8 263.9L80.8 261.9L80.8 259.9L80.8 257.9L80.8 255.9L80.8 253.9L80.8 251.9L80.8 249.9L80.8 247.9L80.8 245.9L80.8 243.9L80.8 241.9L80.8 239.9L80.8 237.9L80.8 235.9L80.8 233.9L80.8 231.9L80.8 229.9L80.8 227.9L80.8 225.9L80.8 223.9L80.8 221.9L80.8 219.9L80.8 217.9L80.8 215.9L80.8 213.9L80.8 211.9L80.8 209.9L80.8 207.9L80.8 205.9L80.8 203.9L80.8 201.9L80.8 199.9L80.8 197.9L80.8 195.9L80.8 193.9L80.8 191.9L80.8 189.9L80.8 187.9L80.8 185.9L80.8 183.9L80.8 181.9L80.8 179.9L80.8 177.9L80.8 175.9L80.8 173.9L80.8 171.9L80.8 169.9L80.8 169.3L82.8 169.4L84.8 169.5L86.8 169.5L88.8 169.2L90.8 169.1L92.8 169.1L94.8 169.0L96.8 168.8L98.8 168.8L100.8 168.7L102.8 168.5L104.8 168.3L106.8 168.2L108.8 168.1L110.8 167.9L112.8 167.9L113.0 167.9L114.8 167.8L116.8 167.7L118.8 167.7L120.8 167.6L122.8 167.5L124.8 167.4L126.8 167.4L128.8 167.2L130.8 167.2L132.8 167.1L134.8 167.0L136.8 166.9L138.8 166.8L140.8 166.7L142.8 166.6L144.8 166.5L146.8 166.4L148.8 166.3L150.8 166.3L152.8 166.2L154.8 166.0L156.3 165.9L156.8 165.9L158.8 165.7L160.8 165.5L162.8 165.4L164.8 165.2L166.8 165.0L168.8 164.9L170.8 164.7L172.8 164.5L174.8 164.4L176.8 164.2L178.8 164.0L180.4 163.9L180.8 163.9L182.8 163.7L184.8 163.5L186.8 163.4L188.8 163.2L190.8 163.1L192.8 162.9L194.8 162.7L196.8 162.6L198.8 162.4L200.8 162.3L202.8 162.1L204.2 161.9L204.8 161.8L206.8 161.3L208.8 160.9L210.8 160.4L212.7 159.9L212.8 159.9L214.8 159.4L216.8 158.9L218.8 158.4L220.8 158.0L221.0 157.9L222.8 157.5L224.8 157.0L226.8 156.5L228.8 156.0L229.4 155.9L230.8 155.6L232.8 155.1L234.8 154.6L236.8 154.1L237.7 153.9L238.8 153.6L240.8 153.1L242.8 152.6L244.8 152.1L245.8 151.9L246.8 151.7L248.8 151.1L250.8 150.6L252.8 150.2L254.6 149.9L254.8 149.9L256.8 149.6L258.8 149.4L260.8 149.3L262.8 149.1L264.8 148.9L266.8 148.7L268.8 148.6L270.8 148.4L272.8 148.2L274.8 148.0L275.4 147.9L276.8 147.8L278.8 147.6L280.8 147.4L282.8 147.2L284.8 147.0L286.8 146.8L288.8 146.6L290.8 146.4L292.8 146.2L294.8 146.1L296.8 146.0L298.8 146.0L300.8 146.0L302.8 146.1L304.8 146.0L306.8 146.0L308.1 145.9L308.8 145.9L310.8 145.8L311.6 145.9L312.8 146.0L314.8 146.8L316.6 147.9L316.8 148.0L318.8 149.2L320.1 149.9L320.8 150.2L322.8 151.0L324.8 151.7L325.3 151.9L326.8 152.4L328.8 153.0L330.8 153.5L332.1 153.9L332.8 154.1L334.8 154.6L336.8 155.2L338.8 155.7L339.7 155.9L340.8 156.2L342.8 156.6L344.8 157.1L346.8 157.5L348.7 157.9L348.8 157.9L350.8 158.3L352.8 158.6L354.8 158.9L356.8 159.2L358.8 159.4L360.8 159.5L362.8 159.7L364.8 159.7L366.8 159.7L368.8 159.6L370.8 159.4L372.8 159.2L374.8 158.9L376.8 158.4L378.7 157.9L378.8 157.9L380.8 157.2L382.8 156.5L384.1 155.9L384.8 155.6L386.8 154.7L388.6 153.9L388.8 153.8L390.8 152.9L392.8 152.1L393.4 151.9L394.8 151.4L396.8 150.9L398.8 150.5L400.8 150.3L402.8 150.2L404.8 150.1L406.8 150.1L408.8 150.1L410.8 150.1L412.8 150.2L414.8 150.2L416.8 150.2L418.8 150.1L420.8 150.0L421.9 149.9L422.8 149.8L424.8 149.6L426.8 149.3L428.8 149.0L430.8 148.6L432.8 148.2L434.3 147.9L434.8 147.8L436.8 147.4L438.8 146.9L440.8 146.5L442.8 146.0L443.3 145.9L444.8 145.6L446.8 145.1L448.8 144.7L450.8 144.3L452.7 143.9L452.8 143.9L454.8 143.5L456.8 143.1L458.8 142.8L460.8 142.5L462.8 142.2L464.6 141.9ZM622.8 395.8L623.8 395.9L622.8 396.3L622.4 395.9Z"/><path fill-rule="evenodd" fill="#2000d8" d="M472.8 147.8L474.8 147.6L476.8 147.5L478.8 147.4L480.8 147.4L482.8 147.3L484.8 147.4L486.8 147.4L488.8 147.5L490.8 147.6L492.8 147.7L494.8 147.9L495.1 147.9L496.8 148.1L498.8 148.3L500.8 148.5L502.8 148.8L504.8 149.1L506.8 149.5L508.8 149.9L509.0 149.9L510.8 150.3L512.8 150.7L514.8 151.1L516.8 151.6L518.0 151.9L518.8 152.1L520.8 152.6L522.8 153.1L524.8 153.7L525.6 153.9L526.8 154.2L528.8 154.8L530.8 155.4L532.6 155.9L532.8 156.0L534.8 156.5L536.8 157.1L538.8 157.7L539.6 157.9L540.8 158.2L542.8 158.8L544.8 159.4L546.6 159.9L546.8 159.9L548.8 160.5L550.8 161.1L552.8 161.6L553.7 161.9L554.8 162.2L556.8 162.8L558.8 163.4L560.4 163.9L560.8 164.0L562.8 164.6L564.8 165.3L566.5 165.9L566.8 166.0L568.8 166.7L570.8 167.4L572.1 167.9L572.8 168.2L574.8 168.9L576.8 169.7L577.4 169.9L578.8 170.4L580.8 171.1L582.8 171.8L583.3 171.9L584.8 172.3L586.8 172.8L588.8 173.1L590.8 173.3L592.8 173.3L594.8 173.2L596.8 172.9L598.8 172.5L600.8 172.0L601.7 171.9L602.8 171.7L604.8 171.4L606.8 171.0L608.8 170.6L610.8 170.1L612.1 169.9L612.8 169.7L614.8 169.8L616.1 169.9L616.8 169.9L618.8 170.2L620.8 170.4L622.8 170.6L624.8 171.1L626.8 171.7L627.4 171.9L628.8 173.0L629.6 173.9L629.4 175.9L630.8 177.3L632.8 176.7L634.8 176.3L636.8 176.0L637.5 175.9L638.8 175.7L640.8 175.4L642.8 175.2L644.8 175.1L646.8 175.0L648.8 174.9L650.8 175.0L652.8 175.1L654.8 175.2L656.8 175.4L658.8 175.6L660.8 175.9L660.8 175.9L662.8 176.2L664.8 176.4L666.8 176.7L668.8 177.0L670.8 177.3L672.8 177.6L674.7 177.9L674.8 177.9L676.8 178.2L678.8 178.5L680.8 178.9L682.8 179.3L684.8 179.7L685.4 179.9L686.8 180.2L688.8 180.7L690.8 181.3L692.7 181.9L692.8 181.9L694.8 182.5L696.8 183.2L698.8 183.8L699.4 183.9L700.8 184.3L702.8 184.6L704.8 184.9L706.8 185.1L708.8 185.2L710.8 185.4L712.8 185.6L714.8 185.8L715.5 185.9L716.8 186.0L718.8 186.2L720.8 186.4L722.8 186.6L724.8 186.8L726.8 187.0L728.8 187.2L730.8 187.4L732.8 187.6L734.8 187.9L735.2 187.9L736.8 188.0L738.8 188.1L740.8 188.1L742.5 187.9L742.8 187.9L744.8 187.4L744.8 187.9L744.8 189.9L744.8 191.9L744.8 193.9L744.8 195.9L744.8 197.9L744.8 199.9L744.8 201.9L744.8 203.9L744.8 205.9L744.8 207.9L744.8 209.9L744.8 211.9L744.8 213.9L744.8 215.9L744.8 217.9L744.8 219.9L744.8 221.9L744.8 223.9L744.8 225.9L744.8 227.9L744.8 229.9L744.8 231.9L744.8 233.9L744.8 235.9L744.8 237.9L744.8 239.9L744.8 241.9L744.8 243.9L744.8 245.9L744.8 247.9L744.8 249.9L744.8 251.9L744.8 253.9L744.8 255.9L744.8 257.9L744.8 259.9L744.8 261.9L744.8 263.9L744.8 265.9L744.8 267.9L744.8 269.9L744.8 271.9L744.8 273.9L744.8 275.9L744.8 277.9L744.8 279.9L744.8 281.9L744.8 283.9L744.8 285.9L744.8 287.9L744.8 289.9L744.8 291.9L744.8 293.9L744.8 295.9L744.8 297.9L744.8 299.9L744.8 301.9L744.8 303.9L744.8 305.9L744.8 307.9L744.8 309.9L744.8 311.9L744.8 313.9L744.8 315.9L744.8 317.9L744.8 319.9L744.8 321.9L744.8 323.9L744.8 325.9L744.8 327.9L744.8 329.9L744.8 331.9L744.8 333.9L744.8 335.9L744.8 337.9L744.8 339.9L744.8 341.9L744.8 343.9L744.8 345.9L744.8 347.9L744.8 349.9L744.8 351.9L744.8 353.9L744.8 355.9L744.8 357.9L744.8 359.9L744.8 361.9L744.8 363.9L744.8 365.9L744.8 367.9L744.8 369.9L744.8 371.9L744.8 373.9L744.8 375.9L744.8 377.9L744.8 379.9L744.8 381.9L744.8 383.9L744.8 385.9L744.8 387.9L744.8 389.9L744.8 391.9L744.8 393.9L744.8 395.0L742.8 394.3L740.8 393.9L740.6 393.9L738.8 393.8L736.8 393.7L734.8 393.6L732.8 393.5L730.8 393.3L728.8 393.2L726.8 393.1L724.8 393.0L722.8 392.8L720.8 392.5L718.8 392.3L716.8 392.1L715.5 391.9L714.8 391.8L712.8 391.6L710.8 391.4L708.8 391.2L706.8 390.9L704.8 390.7L702.8 390.5L700.8 390.2L698.8 390.0L698.0 389.9L696.8 389.8L694.8 389.6L692.8 389.3L690.8 389.1L688.8 388.9L686.8 388.7L684.8 388.4L682.8 388.2L680.8 387.9L680.5 387.9L678.8 387.7L676.8 387.5L674.8 387.3L672.8 387.1L670.8 386.8L668.8 386.6L666.8 386.4L664.8 386.1L663.1 385.9L662.8 385.9L660.8 385.6L658.8 385.4L656.8 385.2L654.8 385.0L652.8 384.6L650.8 384.2L649.5 383.9L648.8 383.8L646.8 383.4L644.8 383.0L642.8 382.6L640.8 382.2L639.5 381.9L638.8 381.8L636.8 381.4L634.8 381.0L632.8 380.6L630.8 380.2L629.5 379.9L628.8 379.8L626.8 379.4L624.8 379.1L622.8 378.7L620.8 378.2L619.1 377.9L618.8 377.9L616.8 377.5L614.8 377.2L612.8 376.9L610.8 377.0L608.8 377.3L606.8 377.8L606.4 377.9L604.8 378.4L602.8 379.2L600.8 379.9L600.8 379.9L598.8 380.8L596.8 381.7L596.2 381.9L594.8 382.6L592.8 383.6L592.2 383.9L590.8 384.7L588.8 385.8L588.5 385.9L586.8 386.9L585.1 387.9L584.8 388.1L582.8 389.3L581.7 389.9L580.8 390.5L578.8 391.7L578.4 391.9L576.8 392.9L575.0 393.9L574.8 394.0L572.8 395.1L571.2 395.9L570.8 396.1L568.8 397.1L567.0 397.9L566.8 398.0L564.8 398.8L562.8 399.6L561.8 399.9L560.8 400.2L558.8 400.9L556.8 401.4L555.0 401.9L554.8 401.9L552.8 402.4L550.8 402.9L548.8 403.3L546.8 403.6L545.0 403.9L544.8 403.9L542.8 404.3L540.8 404.5L538.8 404.8L536.8 405.0L534.8 405.3L532.8 405.5L530.8 405.6L528.8 405.8L527.6 405.9L526.8 406.0L524.8 406.1L522.8 406.2L520.8 406.4L518.8 406.5L516.8 406.6L514.8 406.7L512.8 406.7L510.8 406.8L508.8 406.9L506.8 406.9L504.8 407.0L502.8 407.1L500.8 407.1L498.8 407.1L496.8 407.2L494.8 407.2L492.8 407.2L490.8 407.3L488.8 407.3L486.8 407.3L484.8 407.3L482.8 407.3L480.8 407.3L478.8 407.4L476.8 407.4L474.8 407.4L472.8 407.4L470.8 407.4L468.8 407.4L466.8 407.4L464.8 407.4L462.8 407.4L460.8 407.4L458.8 407.4L456.8 407.4L454.8 407.4L452.8 407.4L450.8 407.4L448.8 407.4L446.8 407.4L444.8 407.4L442.8 407.4L440.8 407.4L438.8 407.4L436.8 407.5L434.8 407.5L432.8 407.5L430.8 407.5L428.8 407.5L426.8 407.5L424.8 407.5L422.8 407.5L420.8 407.5L418.8 407.5L416.8 407.5L414.8 407.5L412.8 407.4L410.8 407.4L408.8 407.3L406.8 407.2L404.8 407.0L402.8 406.6L401.4 405.9L400.8 405.5L399.7 403.9L398.8 403.1L397.9 401.9L396.8 401.2L394.8 400.1L394.0 399.9L392.8 399.7L390.8 399.9L390.6 399.9L388.8 400.0L386.8 400.5L384.8 401.3L382.8 401.8L381.8 401.9L380.8 402.6L380.3 403.9L380.8 404.6L382.8 405.2L384.8 405.9L384.8 405.9L386.8 407.0L388.8 407.7L390.8 407.6L392.8 407.6L394.8 407.5L396.8 407.4L398.4 407.9L398.8 408.3L399.5 409.9L399.2 411.9L398.8 412.9L398.5 413.9L397.2 415.9L396.8 416.4L395.4 417.9L394.8 418.4L392.8 419.8L392.5 419.9L390.8 420.6L388.8 420.9L386.8 420.8L384.8 420.6L382.8 420.5L380.8 420.3L378.8 420.2L376.8 420.1L374.8 420.0L373.2 419.9L372.8 419.9L370.8 419.8L368.8 419.6L366.8 419.5L364.8 419.4L362.8 419.3L360.8 419.3L358.8 419.1L356.8 418.8L354.8 418.4L352.8 417.9L352.8 417.9L350.8 417.5L348.8 417.0L346.8 416.5L344.8 416.1L344.0 415.9L342.8 415.6L340.8 415.2L338.8 414.8L336.8 414.5L334.8 414.1L333.4 413.9L332.8 413.8L330.8 413.5L328.8 413.2L326.8 412.8L324.8 412.5L322.8 412.2L321.6 411.9L320.8 411.7L318.8 411.2L316.8 410.5L315.4 409.9L314.8 409.7L312.8 408.7L311.2 407.9L310.8 407.7L308.8 406.7L307.1 405.9L306.8 405.8L304.8 405.2L302.8 404.9L300.8 404.7L298.8 404.5L296.8 404.4L294.8 404.2L292.8 404.0L291.2 403.9L290.8 403.9L288.8 403.7L286.8 403.5L284.8 403.4L282.8 403.2L280.8 403.1L278.8 402.9L276.8 402.7L274.8 402.6L272.8 402.4L270.8 402.2L268.8 402.0L267.5 401.9L266.8 401.8L264.8 401.7L262.8 401.5L260.8 401.4L258.8 401.2L256.8 401.0L254.8 400.9L252.8 400.7L250.8 400.5L248.8 400.3L246.8 400.2L244.8 400.0L243.7 399.9L242.8 399.8L240.8 399.7L238.8 399.5L236.8 399.3L234.8 399.2L232.8 399.0L230.8 398.9L228.8 398.7L226.8 398.5L224.8 398.3L222.8 398.1L220.8 398.0L219.9 397.9L218.8 397.8L216.8 397.6L214.8 397.5L212.8 397.3L210.8 397.1L208.8 397.0L206.8 396.8L204.8 396.6L202.8 396.6L200.8 396.6L198.8 396.6L196.8 396.6L194.8 396.7L192.8 396.7L190.8 396.7L188.8 396.7L186.8 396.7L184.8 396.7L182.8 396.8L180.8 396.8L178.8 396.8L176.8 396.8L174.8 396.8L172.8 396.9L170.8 396.9L168.8 396.9L166.8 396.9L164.8 396.9L162.8 396.9L160.8 397.0L158.8 397.0L156.8 397.0L154.8 397.0L152.8 397.0L150.8 397.0L148.8 397.1L146.8 397.1L144.8 397.1L142.8 397.1L140.8 397.1L138.8 397.1L136.8 397.2L134.8 397.2L132.8 397.2L130.8 397.2L128.8 397.2L126.8 397.2L124.8 397.3L122.8 397.3L120.8 397.3L118.8 397.3L116.8 397.3L114.8 397.3L112.8 397.4L110.8 397.4L108.8 397.4L106.8 397.4L104.8 397.4L102.8 397.4L100.8 397.4L98.8 397.4L96.8 397.4L94.8 397.5L92.8 397.7L92.1 397.9L90.8 398.2L88.8 398.8L86.8 399.4L85.4 399.9L84.8 400.1L82.8 400.9L80.8 401.6L80.8 399.9L80.8 397.9L80.8 395.9L80.8 393.9L80.8 391.9L80.8 389.9L80.8 387.9L80.8 385.9L80.8 383.9L80.8 381.9L80.8 379.9L80.8 377.9L80.8 375.9L80.8 373.9L80.8 371.9L80.8 369.9L80.8 367.9L80.8 365.9L80.8 363.9L80.8 361.9L80.8 359.9L80.8 357.9L80.8 355.9L80.8 353.9L80.8 351.9L80.8 349.9L80.8 347.9L80.8 345.9L80.8 343.9L80.8 341.9L80.8 339.9L80.8 337.9L80.8 335.9L80.8 333.9L80.8 331.9L80.8 329.9L80.8 327.9L80.8 325.9L80.8 323.9L80.8 321.9L80.8 319.9L80.8 317.9L80.8 315.9L80.8 313.9L80.8 311.9L80.8 309.9L80.8 307.9L80.8 305.9L80.8 303.9L80.8 301.9L80.8 299.9L80.8 297.9L80.8 295.9L80.8 293.9L80.8 291.9L80.8 289.9L80.8 287.9L80.8 285.9L80.8 283.9L80.8 281.9L80.8 279.9L80.8 277.9L80.8 275.9L80.8 273.9L80.8 271.9L80.8 269.9L80.8 267.9L80.8 265.9L80.8 263.9L80.8 261.9L80.8 259.9L80.8 257.9L80.8 255.9L80.8 253.9L80.8 251.9L80.8 249.9L80.8 247.9L80.8 245.9L80.8 243.9L80.8 241.9L80.8 239.9L80.8 237.9L80.8 235.9L80.8 233.9L80.8 231.9L80.8 229.9L80.8 227.9L80.8 225.9L80.8 223.9L80.8 221.9L80.8 219.9L80.8 217.9L80.8 215.9L80.8 213.9L80.8 211.9L80.8 209.9L80.8 207.9L80.8 205.9L80.8 203.9L80.8 201.9L80.8 199.9L80.8 197.9L80.8 195.9L80.8 193.9L80.8 191.9L80.8 189.9L80.8 188.1L82.8 188.5L84.8 188.5L86.8 188.5L88.8 188.4L90.8 188.3L92.8 188.2L94.8 188.2L96.8 188.1L98.8 188.1L100.8 188.1L102.8 188.0L104.8 188.0L106.0 187.9L106.8 187.9L108.8 187.7L110.8 187.6L112.8 187.5L114.8 187.4L116.8 187.3L118.8 187.2L120.8 187.1L122.8 187.0L124.8 186.9L126.8 186.8L128.8 186.7L130.8 186.6L132.8 186.5L134.8 186.4L136.8 186.3L138.8 186.2L140.8 186.2L142.8 186.1L144.8 186.0L146.5 185.9L146.8 185.9L148.8 185.8L150.8 185.7L152.8 185.6L154.8 185.4L156.8 185.1L158.8 184.8L160.8 184.5L162.8 184.3L164.8 184.0L165.8 183.9L166.8 183.7L168.8 183.5L170.8 183.2L172.8 182.9L174.8 182.6L176.8 182.4L178.8 182.1L180.2 181.9L180.8 181.8L182.8 181.5L184.8 181.2L186.8 181.0L188.8 180.7L190.8 180.4L192.8 180.1L194.8 179.9L194.8 179.9L196.8 179.6L198.8 179.4L200.8 179.1L202.8 178.8L204.8 178.4L206.8 177.9L206.9 177.9L208.8 177.3L210.8 176.7L212.8 176.2L214.0 175.9L214.8 175.7L216.8 175.1L218.8 174.6L220.8 174.0L221.3 173.9L222.8 173.5L224.8 172.9L226.8 172.4L228.6 171.9L228.8 171.9L230.8 171.3L232.8 170.8L234.8 170.2L236.0 169.9L236.8 169.7L238.8 169.2L240.8 168.6L242.8 168.1L243.4 167.9L244.8 167.5L246.8 166.9L248.8 166.4L250.5 165.9L250.8 165.8L252.8 165.3L254.8 165.0L256.8 164.9L258.8 164.9L260.8 165.0L262.8 165.0L264.8 165.0L266.8 165.0L268.8 165.0L270.8 165.0L272.8 165.0L274.8 165.0L276.8 164.9L278.8 164.9L280.8 164.9L282.8 164.9L284.8 164.9L286.8 165.0L288.8 165.0L290.8 165.1L292.8 165.0L294.8 164.7L296.8 164.2L297.7 163.9L298.8 163.5L300.8 162.9L302.8 162.2L304.0 161.9L304.8 161.6L306.8 161.0L308.8 160.3L310.0 159.9L310.8 159.6L312.8 159.0L314.8 158.6L316.8 158.3L318.8 158.1L320.8 158.2L322.8 158.4L324.8 158.7L326.8 159.1L328.8 159.5L330.6 159.9L330.8 159.9L332.8 160.4L334.8 160.9L336.8 161.4L338.8 161.9L338.8 161.9L340.8 162.4L342.8 162.8L344.8 163.3L346.8 163.7L348.1 163.9L348.8 164.0L350.8 164.4L352.8 164.7L354.8 164.9L356.8 165.1L358.8 165.3L360.8 165.4L362.8 165.4L364.8 165.5L366.8 165.4L368.8 165.3L370.8 165.1L372.8 164.9L374.8 164.6L376.8 164.2L378.0 163.9L378.8 163.7L380.8 163.1L382.8 162.5L384.4 161.9L384.8 161.8L386.8 161.1L388.8 160.4L390.0 159.9L390.8 159.6L392.8 158.9L394.8 158.2L395.8 157.9L396.8 157.7L398.8 157.7L400.8 157.8L401.6 157.9L402.8 158.0L404.8 158.2L406.8 158.4L408.8 158.6L410.8 158.7L412.8 158.9L414.8 159.0L416.8 159.0L418.8 158.9L420.8 158.7L422.8 158.4L424.8 158.0L425.4 157.9L426.8 157.6L428.8 157.2L430.8 156.7L432.8 156.1L433.7 155.9L434.8 155.6L436.8 155.0L438.8 154.5L440.8 153.9L440.9 153.9L442.8 153.4L444.8 152.9L446.8 152.3L448.6 151.9L448.8 151.8L450.8 151.4L452.8 150.9L454.8 150.5L456.8 150.1L457.7 149.9L458.8 149.7L460.8 149.3L462.8 149.0L464.8 148.7L466.8 148.4L468.8 148.2L470.8 148.0L471.6 147.9Z"/><path fill-rule="evenodd" fill="#0048d8" d="M478.8 153.9L480.8 153.8L482.8 153.8L484.8 153.9L485.4 153.9L486.8 153.9L488.8 154.1L490.8 154.2L492.8 154.4L494.8 154.6L496.8 154.8L498.8 155.1L500.8 155.4L502.8 155.8L503.4 155.9L504.8 156.2L506.8 156.6L508.8 157.0L510.8 157.5L512.3 157.9L512.8 158.0L514.8 158.6L516.8 159.1L518.8 159.7L519.4 159.9L520.8 160.3L522.8 160.9L524.8 161.6L525.8 161.9L526.8 162.2L528.8 162.9L530.8 163.5L532.0 163.9L532.8 164.1L534.8 164.8L536.8 165.4L538.4 165.9L538.8 166.0L540.8 166.6L542.8 167.2L544.8 167.7L545.4 167.9L546.8 168.3L548.8 168.8L550.8 169.3L552.8 169.9L552.9 169.9L554.8 170.4L556.8 170.9L558.8 171.5L560.1 171.9L560.8 172.1L562.8 172.7L564.8 173.3L566.8 173.9L566.8 173.9L568.8 174.5L570.8 175.1L572.8 175.8L573.3 175.9L574.8 176.3L576.8 176.9L578.8 177.4L580.8 177.8L581.3 177.9L582.8 178.2L584.8 178.4L586.8 178.6L588.8 178.7L590.8 178.6L592.8 178.5L594.8 178.2L596.5 177.9L596.8 177.8L598.8 177.4L600.8 176.9L602.8 176.3L604.1 175.9L604.8 175.7L606.8 175.1L608.8 174.3L609.8 173.9L610.8 173.5L612.8 173.1L614.8 173.3L616.8 173.7L617.8 173.9L618.8 174.2L620.8 174.8L622.6 175.9L622.8 176.2L623.3 177.9L624.1 179.9L624.8 180.9L625.8 181.9L626.8 182.5L628.8 183.2L630.8 183.4L632.8 183.3L634.8 182.9L636.8 182.5L638.8 182.0L639.1 181.9L640.8 181.5L642.8 181.0L644.8 180.7L646.8 180.4L648.8 180.2L650.8 180.1L652.8 180.0L654.8 180.0L656.8 180.1L658.8 180.2L660.8 180.4L662.8 180.6L664.8 180.8L666.8 181.1L668.8 181.4L670.8 181.7L672.4 181.9L672.8 182.0L674.8 182.3L676.8 182.6L678.8 183.0L680.8 183.4L682.8 183.9L682.8 183.9L684.8 184.4L686.8 184.9L688.8 185.5L690.0 185.9L690.8 186.1L692.8 186.8L694.8 187.4L696.1 187.9L696.8 188.1L698.8 188.7L700.8 189.3L702.8 189.7L704.3 189.9L704.8 190.0L706.8 190.1L708.8 190.3L710.8 190.4L712.8 190.7L714.8 190.9L716.8 191.1L718.8 191.3L720.8 191.5L722.8 191.7L724.6 191.9L724.8 191.9L726.8 192.1L728.8 192.3L730.8 192.5L732.8 192.7L734.8 192.9L736.8 193.1L738.8 193.2L740.8 193.2L742.8 193.0L744.8 192.6L744.8 193.9L744.8 195.9L744.8 197.9L744.8 199.9L744.8 201.9L744.8 203.9L744.8 205.9L744.8 207.9L744.8 209.9L744.8 211.9L744.8 213.9L744.8 215.9L744.8 217.9L744.8 219.9L744.8 221.9L744.8 223.9L744.8 225.9L744.8 227.9L744.8 229.9L744.8 231.9L744.8 233.9L744.8 235.9L744.8 237.9L744.8 239.9L744.8 241.9L744.8 243.9L744.8 245.9L744.8 247.9L744.8 249.9L744.8 251.9L744.8 253.9L744.8 255.9L744.8 257.9L744.8 259.9L744.8 261.9L744.8 263.9L744.8 265.9L744.8 267.9L744.8 269.9L744.8 271.9L744.8 273.9L744.8 275.9L744.8 277.9L744.8 279.9L744.8 281.9L744.8 283.9L744.8 285.9L744.8 287.9L744.8 289.9L744.8 291.9L744.8 293.9L744.8 295.9L744.8 297.9L744.8 299.9L744.8 301.9L744.8 303.9L744.8 305.9L744.8 307.9L744.8 309.9L744.8 311.9L744.8 313.9L744.8 315.9L744.8 317.9L744.8 319.9L744.8 321.9L744.8 323.9L744.8 325.9L744.8 327.9L744.8 329.9L744.8 331.9L744.8 333.9L744.8 335.9L744.8 337.9L744.8 339.9L744.8 341.9L744.8 343.9L744.8 345.9L744.8 347.9L744.8 349.9L744.8 351.9L744.8 353.9L744.8 355.9L744.8 357.9L744.8 359.9L744.8 361.9L744.8 363.9L744.8 365.9L744.8 367.9L744.8 369.9L744.8 371.9L744.8 373.9L744.8 375.9L744.8 377.9L744.8 379.9L744.8 381.9L744.8 383.9L744.8 385.9L744.8 387.5L742.8 387.2L740.8 387.0L738.8 386.8L736.8 386.7L734.8 386.6L732.8 386.4L730.8 386.3L728.8 386.2L726.8 386.0L724.8 385.9L724.8 385.9L722.8 385.7L720.8 385.5L718.8 385.3L716.8 385.2L714.8 385.0L712.8 384.8L710.8 384.6L708.8 384.4L706.8 384.2L704.8 384.0L704.3 383.9L702.8 383.8L700.8 383.6L698.8 383.4L696.8 383.2L694.8 383.0L692.8 382.8L690.8 382.6L688.8 382.4L686.8 382.2L684.8 382.0L683.8 381.9L682.8 381.8L680.8 381.6L678.8 381.5L676.8 381.3L674.8 381.1L672.8 380.9L670.8 380.7L668.8 380.5L666.8 380.3L664.8 380.1L663.1 379.9L662.8 379.9L660.8 379.7L658.8 379.5L656.8 379.4L654.8 379.2L652.8 379.0L650.8 378.7L648.8 378.5L646.8 378.2L644.8 377.9L644.4 377.9L642.8 377.7L640.8 377.5L638.8 377.2L636.8 377.0L634.8 376.7L632.8 376.5L630.8 376.2L628.8 376.0L628.1 375.9L626.8 375.7L624.8 375.5L622.8 375.1L620.8 374.9L618.8 374.6L616.8 374.3L614.8 374.0L613.6 373.9L612.8 373.8L610.8 373.6L608.8 373.5L606.8 373.7L605.1 373.9L604.8 373.9L602.8 374.3L600.8 374.6L598.8 375.0L596.8 375.3L594.8 375.7L593.8 375.9L592.8 376.1L590.8 376.6L588.8 377.0L586.8 377.5L585.1 377.9L584.8 378.0L582.8 378.5L580.8 379.0L578.8 379.6L577.7 379.9L576.8 380.2L574.8 380.8L572.8 381.4L571.1 381.9L570.8 382.0L568.8 382.6L566.8 383.3L564.8 383.9L564.8 383.9L562.8 384.5L560.8 385.2L558.8 385.8L558.4 385.9L556.8 386.4L554.8 387.0L552.8 387.5L551.4 387.9L550.8 388.1L548.8 388.6L546.8 389.1L544.8 389.6L543.4 389.9L542.8 390.0L540.8 390.5L538.8 390.9L536.8 391.3L534.8 391.6L533.3 391.9L532.8 392.0L530.8 392.3L528.8 392.6L526.8 392.9L524.8 393.2L522.8 393.4L520.8 393.6L518.8 393.8L518.2 393.9L516.8 394.0L514.8 394.2L512.8 394.4L510.8 394.5L508.8 394.7L506.8 394.8L504.8 394.9L502.8 395.0L500.8 395.1L498.8 395.2L496.8 395.3L494.8 395.3L492.8 395.4L490.8 395.4L488.8 395.5L486.8 395.5L484.8 395.5L482.8 395.5L480.8 395.5L478.8 395.5L476.8 395.5L474.8 395.5L472.8 395.5L470.8 395.5L468.8 395.4L466.8 395.4L464.8 395.4L462.8 395.3L460.8 395.2L458.8 395.2L456.8 395.1L454.8 395.0L452.8 394.9L450.8 394.8L448.8 394.7L446.8 394.6L444.8 394.4L442.8 394.3L440.8 394.1L438.8 393.9L438.4 393.9L436.8 393.7L434.8 393.5L432.8 393.3L430.8 393.1L428.8 392.8L426.8 392.5L424.8 392.2L423.2 391.9L422.8 391.8L420.8 391.5L418.8 391.1L416.8 390.7L414.8 390.3L413.0 389.9L412.8 389.9L410.8 389.5L408.8 389.1L406.8 388.7L404.8 388.3L402.8 388.0L402.0 387.9L400.8 387.8L398.8 387.6L396.8 387.4L394.8 387.4L392.8 387.4L390.8 387.5L388.8 387.7L386.8 387.9L386.7 387.9L384.8 388.2L382.8 388.6L380.8 389.1L378.8 389.8L378.5 389.9L376.8 390.6L374.8 391.6L374.4 391.9L372.8 392.9L371.4 393.9L370.8 394.4L369.0 395.9L368.8 396.1L366.8 397.7L366.5 397.9L364.8 399.1L363.6 399.9L362.8 400.6L361.7 401.9L360.8 403.6L360.6 403.9L359.9 405.9L359.0 407.9L358.8 408.1L356.8 409.0L354.8 408.8L352.8 408.4L350.9 407.9L350.8 407.9L348.8 407.3L346.8 406.7L344.8 406.2L343.5 405.9L342.8 405.7L340.8 405.2L338.8 404.8L336.8 404.4L334.8 404.1L333.5 403.9L332.8 403.8L330.8 403.5L328.8 403.1L326.8 402.8L324.8 402.5L322.8 402.1L322.0 401.9L320.8 401.6L318.8 400.9L316.8 400.2L316.1 399.9L314.8 399.4L312.8 398.7L310.8 398.1L310.1 397.9L308.8 397.6L306.8 397.2L304.8 396.9L302.8 396.6L300.8 396.5L298.8 396.4L296.8 396.2L294.8 396.0L292.8 395.9L292.7 395.9L290.8 395.7L288.8 395.5L286.8 395.4L284.8 395.2L282.8 395.0L280.8 394.9L278.8 394.7L276.8 394.5L274.8 394.4L272.8 394.2L270.8 394.0L269.3 393.9L268.8 393.9L266.8 393.7L264.8 393.5L262.8 393.3L260.8 393.2L258.8 393.0L256.8 392.8L254.8 392.7L252.8 392.5L250.8 392.3L248.8 392.2L246.8 392.0L245.5 391.9L244.8 391.8L242.8 391.7L240.8 391.5L238.8 391.3L236.8 391.2L234.8 391.0L232.8 390.8L230.8 390.7L228.8 390.5L226.8 390.3L224.8 390.2L222.8 390.0L221.6 389.9L220.8 389.8L218.8 389.6L216.8 389.5L214.8 389.3L212.8 389.1L210.8 389.0L208.8 388.8L206.8 388.6L204.8 388.5L202.8 388.4L200.8 388.3L198.8 388.3L196.8 388.3L194.8 388.3L192.8 388.3L190.8 388.3L188.8 388.2L186.8 388.2L184.8 388.2L182.8 388.2L180.8 388.1L178.8 388.1L176.8 388.1L174.8 388.1L172.8 388.0L170.8 388.0L168.8 388.0L166.8 388.0L164.8 387.9L162.8 387.9L161.9 387.9L160.8 387.9L158.8 387.9L156.8 387.8L154.8 387.8L152.8 387.8L150.8 387.8L148.8 387.7L146.8 387.7L144.8 387.7L142.8 387.7L140.8 387.6L138.8 387.6L136.8 387.6L134.8 387.6L132.8 387.5L130.8 387.5L128.8 387.5L126.8 387.5L124.8 387.5L122.8 387.4L120.8 387.4L118.8 387.4L116.8 387.4L114.8 387.3L112.8 387.3L110.8 387.3L108.8 387.3L106.8 387.2L104.8 387.2L102.8 387.2L100.8 387.2L98.8 387.1L96.8 387.1L94.8 387.1L92.8 387.3L90.8 387.6L89.3 387.9L88.8 388.0L86.8 388.5L84.8 389.1L82.8 389.6L81.9 389.9L80.8 390.3L80.8 389.9L80.8 387.9L80.8 385.9L80.8 383.9L80.8 381.9L80.8 379.9L80.8 377.9L80.8 375.9L80.8 373.9L80.8 371.9L80.8 369.9L80.8 367.9L80.8 365.9L80.8 363.9L80.8 361.9L80.8 359.9L80.8 357.9L80.8 355.9L80.8 353.9L80.8 351.9L80.8 349.9L80.8 347.9L80.8 345.9L80.8 343.9L80.8 341.9L80.8 339.9L80.8 337.9L80.8 335.9L80.8 333.9L80.8 331.9L80.8 329.9L80.8 327.9L80.8 325.9L80.8 323.9L80.8 321.9L80.8 319.9L80.8 317.9L80.8 315.9L80.8 313.9L80.8 311.9L80.8 309.9L80.8 307.9L80.8 305.9L80.8 303.9L80.8 301.9L80.8 299.9L80.8 297.9L80.8 295.9L80.8 293.9L80.8 291.9L80.8 289.9L80.8 287.9L80.8 285.9L80.8 283.9L80.8 281.9L80.8 279.9L80.8 277.9L80.8 275.9L80.8 273.9L80.8 271.9L80.8 269.9L80.8 267.9L80.8 265.9L80.8 263.9L80.8 261.9L80.8 259.9L80.8 257.9L80.8 255.9L80.8 253.9L80.8 251.9L80.8 249.9L80.8 247.9L80.8 245.9L80.8 243.9L80.8 241.9L80.8 239.9L80.8 237.9L80.8 235.9L80.8 233.9L80.8 231.9L80.8 229.9L80.8 227.9L80.8 225.9L80.8 223.9L80.8 221.9L80.8 219.9L80.8 217.9L80.8 215.9L80.8 213.9L80.8 211.9L80.8 209.9L80.8 207.9L80.8 205.9L80.8 203.9L80.8 201.9L80.8 199.9L80.8 197.9L80.8 195.9L80.8 193.9L80.8 193.0L82.8 193.2L84.8 193.2L86.8 193.1L88.8 193.0L90.8 192.9L92.8 192.9L94.8 192.8L96.8 192.8L98.8 192.8L100.8 192.7L102.8 192.7L104.8 192.6L106.8 192.6L108.8 192.5L110.8 192.4L112.8 192.3L114.8 192.3L116.8 192.2L118.8 192.1L120.8 192.1L122.8 192.0L124.8 192.0L126.4 191.9L126.8 191.9L128.8 191.8L130.8 191.7L132.8 191.6L134.8 191.6L136.8 191.5L138.8 191.4L140.8 191.4L142.8 191.3L144.8 191.2L146.8 191.1L148.8 191.1L150.8 191.0L152.8 190.9L154.8 190.8L156.8 190.7L158.8 190.6L160.8 190.4L162.8 190.3L164.8 190.2L166.8 190.1L168.8 189.9L169.4 189.9L170.8 189.8L172.8 189.7L174.8 189.5L176.8 189.4L178.8 189.3L180.8 189.1L182.8 189.0L184.8 188.8L186.8 188.7L188.8 188.6L190.8 188.5L192.8 188.3L194.8 188.2L196.8 188.1L198.8 188.0L200.8 187.9L201.0 187.9L202.8 187.8L204.8 187.4L206.8 186.9L208.8 186.4L210.8 185.9L210.9 185.9L212.8 185.3L214.8 184.8L216.8 184.4L218.6 183.9L218.8 183.9L220.8 183.3L222.8 182.8L224.8 182.3L226.5 181.9L226.8 181.8L228.8 181.3L230.8 180.8L232.8 180.3L234.5 179.9L234.8 179.8L236.8 179.3L238.8 178.7L240.8 178.3L242.3 177.9L242.8 177.8L244.8 177.2L246.8 176.7L248.8 176.2L249.9 175.9L250.8 175.6L252.8 175.2L254.8 174.8L256.8 174.6L258.8 174.5L260.8 174.4L262.8 174.3L264.8 174.1L266.8 174.0L268.0 173.9L268.8 173.8L270.8 173.7L272.8 173.5L274.8 173.4L276.8 173.2L278.8 173.1L280.8 172.9L282.8 172.8L284.8 172.6L286.8 172.5L288.8 172.4L290.8 172.3L292.8 172.1L294.0 171.9L294.8 171.7L296.8 171.1L298.8 170.4L300.1 169.9L300.8 169.6L302.8 168.9L304.8 168.2L305.7 167.9L306.8 167.5L308.8 166.8L310.8 166.0L311.2 165.9L312.8 165.4L314.8 164.9L316.8 164.7L318.8 164.6L320.8 164.7L322.8 164.9L324.8 165.2L326.8 165.5L328.6 165.9L328.8 165.9L330.8 166.4L332.8 166.9L334.8 167.4L336.8 167.8L337.0 167.9L338.8 168.3L340.8 168.8L342.8 169.2L344.8 169.6L346.5 169.9L346.8 170.0L348.8 170.3L350.8 170.6L352.8 170.8L354.8 171.0L356.8 171.2L358.8 171.3L360.8 171.3L362.8 171.4L364.8 171.4L366.8 171.3L368.8 171.3L370.8 171.2L372.8 171.1L374.8 170.9L376.8 170.8L378.8 170.7L380.8 170.7L382.8 170.8L384.8 171.0L386.8 171.3L388.8 171.7L390.8 171.8L392.8 171.5L394.8 171.2L396.8 170.9L398.8 170.7L400.8 170.5L402.8 170.2L404.8 170.0L405.6 169.9L406.8 169.7L408.8 169.5L410.8 169.2L412.8 169.0L414.8 168.7L416.8 168.3L418.8 168.0L419.2 167.9L420.8 167.6L422.8 167.2L424.8 166.6L426.8 166.0L427.0 165.9L428.8 165.3L430.8 164.6L432.8 163.9L432.8 163.9L434.8 163.2L436.8 162.5L438.5 161.9L438.8 161.8L440.8 161.1L442.8 160.5L444.6 159.9L444.8 159.8L446.8 159.2L448.8 158.6L450.8 158.1L451.6 157.9L452.8 157.6L454.8 157.1L456.8 156.6L458.8 156.2L460.5 155.9L460.8 155.8L462.8 155.5L464.8 155.2L466.8 154.9L468.8 154.6L470.8 154.4L472.8 154.2L474.8 154.1L476.8 154.0L478.5 153.9Z"/><path fill-rule="evenodd" fill="#0070d8" d="M462.8 161.6L464.8 161.3L466.8 161.0L468.8 160.7L470.8 160.5L472.8 160.3L474.8 160.2L476.8 160.1L478.8 160.0L480.8 160.0L482.8 160.0L484.8 160.1L486.8 160.2L488.8 160.3L490.8 160.5L492.8 160.7L494.8 160.9L496.8 161.2L498.8 161.6L500.6 161.9L500.8 161.9L502.8 162.3L504.8 162.8L506.8 163.3L508.8 163.8L509.1 163.9L510.8 164.4L512.8 164.9L514.8 165.6L515.9 165.9L516.8 166.2L518.8 166.9L520.8 167.6L521.8 167.9L522.8 168.3L524.8 169.0L526.8 169.7L527.4 169.9L528.8 170.4L530.8 171.1L532.8 171.8L533.2 171.9L534.8 172.4L536.8 173.0L538.8 173.6L539.9 173.9L540.8 174.1L542.8 174.6L544.8 175.1L546.8 175.6L548.4 175.9L548.8 176.0L550.8 176.4L552.8 176.8L554.8 177.3L556.8 177.7L557.5 177.9L558.8 178.2L560.8 178.7L562.8 179.2L564.8 179.7L565.4 179.9L566.8 180.3L568.8 180.8L570.8 181.3L572.8 181.8L573.1 181.9L574.8 182.3L576.8 182.7L578.8 183.1L580.8 183.3L582.8 183.6L584.8 183.7L586.8 183.7L588.8 183.7L590.8 183.5L592.8 183.3L594.8 183.0L596.8 182.6L598.8 182.2L599.9 181.9L600.8 181.7L602.8 181.1L604.8 180.5L606.6 179.9L606.8 179.8L608.8 179.2L610.8 178.7L612.8 178.4L614.8 178.7L616.8 179.5L617.4 179.9L618.8 181.0L619.6 181.9L620.8 182.9L621.8 183.9L622.8 184.6L624.8 185.7L625.3 185.9L626.8 186.4L628.8 186.8L630.8 187.0L632.8 186.9L634.8 186.7L636.8 186.4L638.8 186.0L639.5 185.9L640.8 185.6L642.8 185.2L644.8 184.9L646.8 184.6L648.8 184.4L650.8 184.2L652.8 184.1L654.8 184.1L656.8 184.1L658.8 184.2L660.8 184.3L662.8 184.5L664.8 184.7L666.8 184.9L668.8 185.2L670.8 185.5L672.8 185.8L673.5 185.9L674.8 186.1L676.8 186.5L678.8 186.9L680.8 187.3L682.8 187.8L683.2 187.9L684.8 188.3L686.8 188.8L688.8 189.4L690.3 189.9L690.8 190.0L692.8 190.6L694.8 191.3L696.8 191.9L696.8 191.9L698.8 192.5L700.8 192.9L702.8 193.3L704.8 193.5L706.8 193.7L708.8 193.8L709.3 193.9L710.8 194.1L712.8 194.2L714.8 194.5L716.8 194.7L718.8 194.9L720.8 195.1L722.8 195.3L724.8 195.5L726.8 195.7L728.7 195.9L728.8 195.9L730.8 196.1L732.8 196.3L734.8 196.6L736.8 196.8L738.8 196.8L740.8 196.8L742.8 196.6L744.8 196.4L744.8 197.9L744.8 199.9L744.8 201.9L744.8 203.9L744.8 205.9L744.8 207.9L744.8 209.9L744.8 211.9L744.8 213.9L744.8 215.9L744.8 217.9L744.8 219.9L744.8 221.9L744.8 223.9L744.8 225.9L744.8 227.9L744.8 229.9L744.8 231.9L744.8 233.9L744.8 235.9L744.8 237.9L744.8 239.9L744.8 241.9L744.8 243.9L744.8 245.9L744.8 247.9L744.8 249.9L744.8 251.9L744.8 253.9L744.8 255.9L744.8 257.9L744.8 259.9L744.8 261.9L744.8 263.9L744.8 265.9L744.8 267.9L744.8 269.9L744.8 271.9L744.8 273.9L744.8 275.9L744.8 277.9L744.8 279.9L744.8 281.9L744.8 283.9L744.8 285.9L744.8 287.9L744.8 289.9L744.8 291.9L744.8 293.9L744.8 295.9L744.8 297.9L744.8 299.9L744.8 301.9L744.8 303.9L744.8 305.9L744.8 307.9L744.8 309.9L744.8 311.9L744.8 313.9L744.8 315.9L744.8 317.9L744.8 319.9L744.8 321.9L744.8 323.9L744.8 325.9L744.8 327.9L744.8 329.9L744.8 331.9L744.8 333.9L744.8 335.9L744.8 337.9L744.8 339.9L744.8 341.9L744.8 343.9L744.8 345.9L744.8 347.9L744.8 349.9L744.8 351.9L744.8 353.9L744.8 355.9L744.8 357.9L744.8 359.9L744.8 361.9L744.8 363.9L744.8 365.9L744.8 367.9L744.8 369.9L744.8 371.9L744.8 373.9L744.8 375.9L744.8 377.9L744.8 379.9L744.8 381.9L744.8 382.2L742.8 382.0L740.8 381.9L740.6 381.9L738.8 381.8L736.8 381.6L734.8 381.5L732.8 381.3L730.8 381.2L728.8 381.0L726.8 380.9L724.8 380.7L722.8 380.6L720.8 380.4L718.8 380.3L716.8 380.2L714.8 380.1L712.8 379.9L712.5 379.9L710.8 379.8L708.8 379.7L706.8 379.5L704.8 379.4L702.8 379.3L700.8 379.2L698.8 379.0L696.8 378.9L694.8 378.8L692.8 378.6L690.8 378.5L688.8 378.4L686.8 378.3L684.8 378.1L682.8 378.0L681.5 377.9L680.8 377.9L678.8 377.7L676.8 377.6L674.8 377.5L672.8 377.3L670.8 377.2L668.8 377.0L666.8 376.9L664.8 376.8L662.8 376.6L660.8 376.5L658.8 376.4L656.8 376.3L654.8 376.1L653.2 375.9L652.8 375.8L650.8 375.5L648.8 375.2L646.8 374.9L644.8 374.6L642.8 374.3L640.8 373.9L640.5 373.9L638.8 373.6L636.8 373.3L634.8 373.0L632.8 372.7L630.8 372.4L628.8 372.0L627.9 371.9L626.8 371.8L624.8 371.4L622.8 371.2L620.8 370.9L618.8 370.6L616.8 370.1L615.7 369.9L614.8 369.8L612.8 369.6L610.8 369.7L609.3 369.9L608.8 370.0L606.8 370.2L604.8 370.3L602.8 370.3L600.8 370.3L598.8 370.4L596.8 370.4L594.8 370.4L592.8 370.5L590.8 370.5L588.8 370.6L586.8 370.7L584.8 370.8L582.8 371.0L580.8 371.2L578.8 371.4L576.8 371.6L574.8 371.9L574.6 371.9L572.8 372.2L570.8 372.5L568.8 372.9L566.8 373.2L564.8 373.6L563.6 373.9L562.8 374.1L560.8 374.5L558.8 375.0L556.8 375.5L554.9 375.9L554.8 375.9L552.8 376.4L550.8 376.9L548.8 377.4L546.8 377.8L546.6 377.9L544.8 378.3L542.8 378.8L540.8 379.2L538.8 379.6L537.5 379.9L536.8 380.0L534.8 380.4L532.8 380.8L530.8 381.2L528.8 381.5L526.8 381.8L526.1 381.9L524.8 382.1L522.8 382.4L520.8 382.7L518.8 382.9L516.8 383.1L514.8 383.3L512.8 383.5L510.8 383.7L508.8 383.9L508.5 383.9L506.8 384.0L504.8 384.2L502.8 384.3L500.8 384.4L498.8 384.5L496.8 384.6L494.8 384.7L492.8 384.7L490.8 384.8L488.8 384.8L486.8 384.9L484.8 384.9L482.8 384.9L480.8 384.9L478.8 384.9L476.8 384.9L474.8 384.9L472.8 384.8L470.8 384.8L468.8 384.7L466.8 384.7L464.8 384.6L462.8 384.5L460.8 384.4L458.8 384.3L456.8 384.2L454.8 384.1L452.8 384.0L451.7 383.9L450.8 383.8L448.8 383.7L446.8 383.5L444.8 383.3L442.8 383.2L440.8 383.0L438.8 382.7L436.8 382.5L434.8 382.3L432.8 382.0L431.8 381.9L430.8 381.8L428.8 381.5L426.8 381.2L424.8 381.0L422.8 380.7L420.8 380.4L418.8 380.1L417.4 379.9L416.8 379.8L414.8 379.6L412.8 379.3L410.8 379.1L408.8 378.8L406.8 378.6L404.8 378.5L402.8 378.3L400.8 378.3L398.8 378.2L396.8 378.2L394.8 378.2L392.8 378.3L390.8 378.4L388.8 378.6L386.8 378.9L384.8 379.2L382.8 379.5L381.0 379.9L380.8 379.9L378.8 380.4L376.8 381.0L374.8 381.6L374.0 381.9L372.8 382.3L370.8 383.1L368.9 383.9L368.8 384.0L366.8 384.9L364.8 385.8L364.6 385.9L362.8 386.7L360.8 387.7L360.3 387.9L358.8 388.6L356.8 389.5L355.8 389.9L354.8 390.3L352.8 391.0L350.8 391.4L348.8 391.7L347.6 391.9L346.8 392.0L344.8 392.3L342.8 392.6L340.8 392.8L338.8 392.9L336.8 392.7L334.8 392.5L332.8 392.3L330.8 392.1L328.9 391.9L328.8 391.9L326.8 391.7L324.8 391.5L322.8 391.3L320.8 391.0L318.8 390.6L316.8 390.1L316.3 389.9L314.8 389.5L312.8 388.9L310.8 388.3L309.0 387.9L308.8 387.8L306.8 387.4L304.8 387.1L302.8 386.9L300.8 386.8L298.8 386.6L296.8 386.5L294.8 386.4L292.8 386.2L290.8 386.1L288.8 386.0L287.5 385.9L286.8 385.9L284.8 385.7L282.8 385.6L280.8 385.5L278.8 385.4L276.8 385.3L274.8 385.1L272.8 385.0L270.8 384.9L268.8 384.7L266.8 384.6L264.8 384.5L262.8 384.4L260.8 384.2L258.8 384.1L256.8 384.0L256.1 383.9L254.8 383.8L252.8 383.7L250.8 383.6L248.8 383.4L246.8 383.3L244.8 383.2L242.8 383.1L240.8 382.9L238.8 382.8L236.8 382.7L234.8 382.6L232.8 382.4L230.8 382.3L228.8 382.2L226.8 382.0L224.9 381.9L224.8 381.9L222.8 381.8L220.8 381.7L218.8 381.5L216.8 381.4L214.8 381.3L212.8 381.2L210.8 381.0L208.8 380.9L206.8 380.8L204.8 380.6L202.8 380.6L200.8 380.6L198.8 380.6L196.8 380.6L194.8 380.6L192.8 380.6L190.8 380.6L188.8 380.7L186.8 380.7L184.8 380.7L182.8 380.7L180.8 380.7L178.8 380.7L176.8 380.7L174.8 380.7L172.8 380.7L170.8 380.7L168.8 380.7L166.8 380.7L164.8 380.7L162.8 380.7L160.8 380.7L158.8 380.8L156.8 380.8L154.8 380.8L152.8 380.8L150.8 380.8L148.8 380.8L146.8 380.8L144.8 380.8L142.8 380.8L140.8 380.8L138.8 380.8L136.8 380.8L134.8 380.8L132.8 380.8L130.8 380.8L128.8 380.8L126.8 380.9L124.8 380.9L122.8 380.9L120.8 380.9L118.8 380.9L116.8 380.9L114.8 380.9L112.8 380.9L110.8 380.9L108.8 380.9L106.8 380.9L104.8 380.9L102.8 380.9L100.8 380.9L98.8 380.9L96.8 380.9L94.8 380.9L92.8 381.0L90.8 381.1L88.8 381.2L86.8 381.5L84.8 381.7L83.8 381.9L82.8 382.1L80.8 382.4L80.8 381.9L80.8 379.9L80.8 377.9L80.8 375.9L80.8 373.9L80.8 371.9L80.8 369.9L80.8 367.9L80.8 365.9L80.8 363.9L80.8 361.9L80.8 359.9L80.8 357.9L80.8 355.9L80.8 353.9L80.8 351.9L80.8 349.9L80.8 347.9L80.8 345.9L80.8 343.9L80.8 341.9L80.8 339.9L80.8 337.9L80.8 335.9L80.8 333.9L80.8 331.9L80.8 329.9L80.8 327.9L80.8 325.9L80.8 323.9L80.8 321.9L80.8 319.9L80.8 317.9L80.8 315.9L80.8 313.9L80.8 311.9L80.8 309.9L80.8 307.9L80.8 305.9L80.8 303.9L80.8 301.9L80.8 299.9L80.8 297.9L80.8 295.9L80.8 293.9L80.8 291.9L80.8 289.9L80.8 287.9L80.8 285.9L80.8 283.9L80.8 281.9L80.8 279.9L80.8 277.9L80.8 275.9L80.8 273.9L80.8 271.9L80.8 269.9L80.8 267.9L80.8 265.9L80.8 263.9L80.8 261.9L80.8 259.9L80.8 257.9L80.8 255.9L80.8 253.9L80.8 251.9L80.8 249.9L80.8 247.9L80.8 245.9L80.8 243.9L80.8 241.9L80.8 239.9L80.8 237.9L80.8 235.9L80.8 233.9L80.8 231.9L80.8 229.9L80.8 227.9L80.8 225.9L80.8 223.9L80.8 221.9L80.8 219.9L80.8 217.9L80.8 215.9L80.8 213.9L80.8 211.9L80.8 209.9L80.8 207.9L80.8 205.9L80.8 203.9L80.8 201.9L80.8 199.9L80.8 197.9L80.8 196.4L82.8 196.5L84.8 196.5L86.8 196.5L88.8 196.4L90.8 196.3L92.8 196.3L94.8 196.2L96.8 196.2L98.8 196.2L100.8 196.2L102.8 196.1L104.8 196.1L106.8 196.0L108.8 195.9L109.8 195.9L110.8 195.9L112.8 195.8L114.8 195.7L116.8 195.7L118.8 195.6L120.8 195.5L122.8 195.5L124.8 195.4L126.8 195.3L128.8 195.3L130.8 195.2L132.8 195.1L134.8 195.1L136.8 195.0L138.8 194.9L140.8 194.9L142.8 194.8L144.8 194.8L146.8 194.7L148.8 194.6L150.8 194.6L152.8 194.5L154.8 194.4L156.8 194.3L158.8 194.2L160.8 194.1L162.8 194.0L164.8 193.9L165.8 193.9L166.8 193.9L168.8 193.8L170.8 193.7L172.8 193.6L174.8 193.5L176.8 193.4L178.8 193.3L180.8 193.2L182.8 193.1L184.8 193.0L186.8 192.9L188.8 192.8L190.8 192.7L192.8 192.6L194.8 192.5L196.8 192.4L198.8 192.3L200.8 192.3L202.8 192.1L204.7 191.9L204.8 191.9L206.8 191.5L208.8 191.0L210.8 190.5L212.8 190.1L213.7 189.9L214.8 189.6L216.8 189.2L218.8 188.8L220.8 188.3L222.6 187.9L222.8 187.9L224.8 187.4L226.8 187.0L228.8 186.5L230.8 186.1L231.7 185.9L232.8 185.7L234.8 185.2L236.8 184.8L238.8 184.3L240.6 183.9L240.8 183.9L242.8 183.4L244.8 183.0L246.8 182.5L248.8 182.1L249.5 181.9L250.8 181.6L252.8 181.2L254.8 180.8L256.8 180.7L258.8 180.5L260.8 180.4L262.8 180.3L264.8 180.2L266.8 180.0L268.4 179.9L268.8 179.9L270.8 179.7L272.8 179.6L274.8 179.4L276.8 179.3L278.8 179.2L280.8 179.0L282.8 178.9L284.8 178.8L286.8 178.6L288.8 178.5L290.8 178.4L292.8 178.2L294.5 177.9L294.8 177.8L296.8 177.3L298.8 176.6L300.4 175.9L300.8 175.7L302.8 175.1L304.8 174.4L306.0 173.9L306.8 173.6L308.8 172.9L310.8 172.1L311.5 171.9L312.8 171.5L314.8 171.1L316.8 171.0L318.8 171.0L320.8 171.3L322.8 171.6L324.7 171.9L324.8 171.9L326.8 172.4L328.8 172.8L330.8 173.3L332.8 173.8L333.2 173.9L334.8 174.3L336.8 174.8L338.8 175.2L340.8 175.6L342.3 175.9L342.8 176.0L344.8 176.3L346.8 176.6L348.8 176.9L350.8 177.0L352.8 177.2L354.8 177.3L356.8 177.4L358.8 177.4L360.8 177.4L362.8 177.4L364.8 177.4L366.8 177.4L368.8 177.3L370.8 177.2L372.8 177.2L374.8 177.1L376.8 177.1L378.8 177.1L380.8 177.1L382.8 177.1L384.8 177.2L386.8 177.2L388.8 177.1L390.8 176.9L392.8 176.6L394.8 176.3L396.8 176.3L398.8 176.6L400.8 176.9L402.8 177.1L404.8 177.4L406.8 177.6L408.8 177.8L409.5 177.9L410.8 178.0L412.8 178.3L414.8 178.4L416.8 178.2L417.8 177.9L418.8 177.5L420.8 176.6L422.4 175.9L422.8 175.7L424.8 174.8L426.7 173.9L426.8 173.9L428.8 172.9L430.8 172.0L431.1 171.9L432.8 171.1L434.8 170.3L435.7 169.9L436.8 169.4L438.8 168.6L440.7 167.9L440.8 167.9L442.8 167.1L444.8 166.4L446.2 165.9L446.8 165.7L448.8 165.1L450.8 164.5L452.8 163.9L452.8 163.9L454.8 163.4L456.8 162.9L458.8 162.4L460.8 162.0L461.3 161.9Z"/><path fill-rule="evenodd" fill="#0088d8" d="M476.8 165.9L478.8 165.8L480.8 165.8L482.8 165.9L483.4 165.9L484.8 166.0L486.8 166.1L488.8 166.2L490.8 166.4L492.8 166.7L494.8 167.0L496.8 167.3L498.8 167.7L499.7 167.9L500.8 168.1L502.8 168.6L504.8 169.1L506.8 169.6L507.7 169.9L508.8 170.2L510.8 170.8L512.8 171.5L514.0 171.9L514.8 172.2L516.8 172.9L518.8 173.6L519.5 173.9L520.8 174.4L522.8 175.2L524.7 175.9L524.8 175.9L526.8 176.7L528.8 177.5L530.0 177.9L530.8 178.2L532.8 178.9L534.8 179.5L536.1 179.9L536.8 180.1L538.8 180.6L540.8 181.0L542.8 181.4L544.8 181.7L545.8 181.9L546.8 182.0L548.8 182.3L550.8 182.6L552.8 182.9L554.8 183.3L556.8 183.6L558.2 183.9L558.8 184.0L560.8 184.4L562.8 184.9L564.8 185.4L566.8 185.9L566.9 185.9L568.8 186.4L570.8 186.8L572.8 187.3L574.8 187.7L576.0 187.9L576.8 188.0L578.8 188.3L580.8 188.5L582.8 188.6L584.8 188.7L586.8 188.6L588.8 188.5L590.8 188.3L592.8 188.1L594.1 187.9L594.8 187.8L596.8 187.4L598.8 187.0L600.8 186.6L602.8 186.2L604.0 185.9L604.8 185.7L606.8 185.3L608.8 185.0L610.8 184.9L612.8 185.1L614.8 185.6L615.5 185.9L616.8 186.4L618.8 187.3L620.2 187.9L620.8 188.1L622.8 188.9L624.8 189.5L626.8 189.9L626.8 189.9L628.8 190.1L630.8 190.2L632.8 190.1L634.8 190.0L635.5 189.9L636.8 189.7L638.8 189.4L640.8 189.1L642.8 188.7L644.8 188.4L646.8 188.2L648.8 188.0L649.6 187.9L650.8 187.8L652.8 187.7L654.8 187.6L656.8 187.7L658.8 187.7L660.8 187.8L661.5 187.9L662.8 188.0L664.8 188.2L666.8 188.4L668.8 188.7L670.8 189.0L672.8 189.3L674.8 189.6L676.2 189.9L676.8 190.0L678.8 190.4L680.8 190.8L682.8 191.3L684.8 191.8L685.2 191.9L686.8 192.3L688.8 192.8L690.8 193.4L692.6 193.9L692.8 194.0L694.8 194.5L696.8 195.1L698.8 195.6L699.8 195.9L700.8 196.1L702.8 196.5L704.8 196.7L706.8 196.9L708.8 197.1L710.8 197.3L712.8 197.5L714.8 197.7L716.5 197.9L716.8 197.9L718.8 198.1L720.8 198.3L722.8 198.5L724.8 198.7L726.8 198.9L728.8 199.1L730.8 199.3L732.8 199.5L734.8 199.7L736.8 199.9L737.2 199.9L738.8 200.0L740.8 200.0L742.8 199.9L742.8 199.9L744.8 199.6L744.8 199.9L744.8 201.9L744.8 203.9L744.8 205.9L744.8 207.9L744.8 209.9L744.8 211.9L744.8 213.9L744.8 215.9L744.8 217.9L744.8 219.9L744.8 221.9L744.8 223.9L744.8 225.9L744.8 227.9L744.8 229.9L744.8 231.9L744.8 233.9L744.8 235.9L744.8 237.9L744.8 239.9L744.8 241.9L744.8 243.9L744.8 245.9L744.8 247.9L744.8 249.9L744.8 251.9L744.8 253.9L744.8 255.9L744.8 257.9L744.8 259.9L744.8 261.9L744.8 263.9L744.8 265.9L744.8 267.9L744.8 269.9L744.8 271.9L744.8 273.9L744.8 275.9L744.8 277.9L744.8 279.9L744.8 281.9L744.8 283.9L744.8 285.9L744.8 287.9L744.8 289.9L744.8 291.9L744.8 293.9L744.8 295.9L744.8 297.9L744.8 299.9L744.8 301.9L744.8 303.9L744.8 305.9L744.8 307.9L744.8 309.9L744.8 311.9L744.8 313.9L744.8 315.9L744.8 317.9L744.8 319.9L744.8 321.9L744.8 323.9L744.8 325.9L744.8 327.9L744.8 329.9L744.8 331.9L744.8 333.9L744.8 335.9L744.8 337.9L744.8 339.9L744.8 341.9L744.8 343.9L744.8 345.9L744.8 347.9L744.8 349.9L744.8 351.9L744.8 353.9L744.8 355.9L744.8 357.9L744.8 359.9L744.8 361.9L744.8 363.9L744.8 365.9L744.8 367.9L744.8 369.9L744.8 371.9L744.8 373.9L744.8 375.9L744.8 376.7L742.8 376.8L740.8 376.8L738.8 376.7L736.8 376.6L734.8 376.6L732.8 376.5L730.8 376.4L728.8 376.3L726.8 376.2L724.8 376.1L722.8 376.0L720.8 376.0L719.4 375.9L718.8 375.9L716.8 375.8L714.8 375.6L712.8 375.5L710.8 375.4L708.8 375.3L706.8 375.2L704.8 375.1L702.8 375.0L700.8 374.9L698.8 374.8L696.8 374.7L694.8 374.6L692.8 374.6L690.8 374.5L688.8 374.4L686.8 374.3L684.8 374.2L682.8 374.1L680.8 374.0L678.8 373.9L678.4 373.9L676.8 373.8L674.8 373.7L672.8 373.6L670.8 373.5L668.8 373.4L666.8 373.3L664.8 373.2L662.8 373.1L660.8 373.0L658.8 372.9L656.8 372.8L654.8 372.7L652.8 372.5L650.8 372.2L648.8 371.9L648.5 371.9L646.8 371.7L644.8 371.4L642.8 371.1L640.8 370.8L638.8 370.5L636.8 370.3L634.8 370.0L634.0 369.9L632.8 369.7L630.8 369.4L628.8 369.2L626.8 368.9L624.8 368.7L622.8 368.4L620.8 368.1L619.1 367.9L618.8 367.9L616.8 367.6L614.8 367.3L612.8 367.1L610.8 367.1L608.8 367.1L606.8 367.1L604.8 366.9L602.8 366.6L600.8 366.3L598.8 366.1L597.7 365.9L596.8 365.8L594.8 365.5L592.8 365.2L590.8 365.0L588.8 364.8L586.8 364.6L584.8 364.5L582.8 364.4L580.8 364.4L578.8 364.3L576.8 364.4L574.8 364.4L572.8 364.5L570.8 364.6L568.8 364.8L566.8 365.0L564.8 365.2L562.8 365.5L560.8 365.8L560.2 365.9L558.8 366.1L556.8 366.5L554.8 366.9L552.8 367.3L550.8 367.7L549.7 367.9L548.8 368.1L546.8 368.5L544.8 368.9L542.8 369.3L540.8 369.7L539.8 369.9L538.8 370.1L536.8 370.5L534.8 370.8L532.8 371.2L530.8 371.5L528.8 371.8L528.3 371.9L526.8 372.1L524.8 372.4L522.8 372.7L520.8 372.9L518.8 373.2L516.8 373.4L514.8 373.6L512.8 373.8L511.7 373.9L510.8 374.0L508.8 374.1L506.8 374.3L504.8 374.4L502.8 374.5L500.8 374.7L498.8 374.8L496.8 374.8L494.8 374.9L492.8 375.0L490.8 375.0L488.8 375.1L486.8 375.1L484.8 375.1L482.8 375.1L480.8 375.1L478.8 375.1L476.8 375.1L474.8 375.1L472.8 375.0L470.8 375.0L468.8 374.9L466.8 374.9L464.8 374.8L462.8 374.7L460.8 374.6L458.8 374.5L456.8 374.4L454.8 374.3L452.8 374.2L450.8 374.0L449.3 373.9L448.8 373.9L446.8 373.7L444.8 373.5L442.8 373.4L440.8 373.2L438.8 373.0L436.8 372.8L434.8 372.6L432.8 372.4L430.8 372.2L428.8 372.0L428.3 371.9L426.8 371.7L424.8 371.5L422.8 371.3L420.8 371.1L418.8 370.9L416.8 370.7L414.8 370.6L412.8 370.4L410.8 370.3L408.8 370.2L406.8 370.1L404.8 370.0L402.8 369.9L400.8 369.9L398.8 369.9L396.8 370.0L394.8 370.1L392.8 370.2L390.8 370.3L388.8 370.5L386.8 370.7L384.8 371.0L382.8 371.3L380.8 371.6L379.3 371.9L378.8 372.0L376.8 372.4L374.8 372.8L372.8 373.3L370.8 373.8L370.4 373.9L368.8 374.3L366.8 374.8L364.8 375.4L362.8 375.9L362.8 375.9L360.8 376.4L358.8 376.9L356.8 377.4L354.8 377.9L354.6 377.9L352.8 378.3L350.8 378.6L348.8 378.9L346.8 379.1L344.8 379.3L342.8 379.5L340.8 379.6L338.8 379.6L336.8 379.7L334.8 379.7L332.8 379.6L330.8 379.6L328.8 379.5L326.8 379.5L324.8 379.4L322.8 379.3L320.8 379.2L318.8 379.2L316.8 379.2L314.8 379.3L312.8 379.5L310.8 379.7L309.3 379.9L308.8 380.0L306.8 380.1L304.8 380.1L302.8 380.2L300.8 380.1L299.3 379.9L298.8 379.9L296.8 379.8L294.8 379.7L292.8 379.6L290.8 379.5L288.8 379.4L286.8 379.3L284.8 379.2L282.8 379.1L280.8 379.0L278.8 378.9L276.8 378.8L274.8 378.7L272.8 378.6L270.8 378.5L268.8 378.4L266.8 378.2L264.8 378.2L262.8 378.1L260.8 377.9L260.3 377.9L258.8 377.8L256.8 377.7L254.8 377.6L252.8 377.5L250.8 377.4L248.8 377.3L246.8 377.2L244.8 377.1L242.8 377.0L240.8 376.9L238.8 376.8L236.8 376.7L234.8 376.6L232.8 376.5L230.8 376.4L228.8 376.3L226.8 376.2L224.8 376.1L222.8 375.9L221.9 375.9L220.8 375.8L218.8 375.7L216.8 375.6L214.8 375.6L212.8 375.5L210.8 375.3L208.8 375.2L206.8 375.1L204.8 375.0L202.8 375.0L200.8 375.0L198.8 375.0L196.8 375.0L194.8 375.0L192.8 375.0L190.8 375.0L188.8 375.0L186.8 375.0L184.8 375.0L182.8 375.0L180.8 375.0L178.8 375.0L176.8 375.0L174.8 375.0L172.8 375.0L170.8 375.0L168.8 375.0L166.8 375.0L164.8 375.0L162.8 375.0L160.8 375.0L158.8 375.0L156.8 375.0L154.8 375.0L152.8 375.0L150.8 375.0L148.8 375.0L146.8 375.0L144.8 375.0L142.8 375.0L140.8 375.0L138.8 375.0L136.8 375.0L134.8 375.0L132.8 375.0L130.8 375.0L128.8 375.0L126.8 375.0L124.8 375.0L122.8 375.0L120.8 375.0L118.8 375.0L116.8 375.0L114.8 375.0L112.8 375.0L110.8 375.0L108.8 375.0L106.8 375.0L104.8 375.0L102.8 375.0L100.8 375.0L98.8 375.0L96.8 375.0L94.8 375.0L92.8 375.0L90.8 375.0L88.8 375.1L86.8 375.2L84.8 375.4L82.8 375.6L80.8 375.8L80.8 373.9L80.8 371.9L80.8 369.9L80.8 367.9L80.8 365.9L80.8 363.9L80.8 361.9L80.8 359.9L80.8 357.9L80.8 355.9L80.8 353.9L80.8 351.9L80.8 349.9L80.8 347.9L80.8 345.9L80.8 343.9L80.8 341.9L80.8 339.9L80.8 337.9L80.8 335.9L80.8 333.9L80.8 331.9L80.8 329.9L80.8 327.9L80.8 325.9L80.8 323.9L80.8 321.9L80.8 319.9L80.8 317.9L80.8 315.9L80.8 313.9L80.8 311.9L80.8 309.9L80.8 307.9L80.8 305.9L80.8 303.9L80.8 301.9L80.8 299.9L80.8 297.9L80.8 295.9L80.8 293.9L80.8 291.9L80.8 289.9L80.8 287.9L80.8 285.9L80.8 283.9L80.8 281.9L80.8 279.9L80.8 277.9L80.8 275.9L80.8 273.9L80.8 271.9L80.8 269.9L80.8 267.9L80.8 265.9L80.8 263.9L80.8 261.9L80.8 259.9L80.8 257.9L80.8 255.9L80.8 253.9L80.8 251.9L80.8 249.9L80.8 247.9L80.8 245.9L80.8 243.9L80.8 241.9L80.8 239.9L80.8 237.9L80.8 235.9L80.8 233.9L80.8 231.9L80.8 229.9L80.8 227.9L80.8 225.9L80.8 223.9L80.8 221.9L80.8 219.9L80.8 217.9L80.8 215.9L80.8 213.9L80.8 211.9L80.8 209.9L80.8 207.9L80.8 205.9L80.8 203.9L80.8 201.9L80.8 199.9L80.8 199.5L82.8 199.6L84.8 199.6L86.8 199.6L88.8 199.5L90.8 199.4L92.8 199.4L94.8 199.4L96.8 199.3L98.8 199.3L100.8 199.3L102.8 199.2L104.8 199.2L106.8 199.1L108.8 199.1L110.8 199.0L112.8 198.9L114.8 198.9L116.8 198.8L118.8 198.8L120.8 198.7L122.8 198.6L124.8 198.6L126.8 198.5L128.8 198.4L130.8 198.4L132.8 198.3L134.8 198.2L136.8 198.2L138.8 198.1L140.8 198.0L142.8 198.0L144.8 197.9L145.4 197.9L146.8 197.8L148.8 197.8L150.8 197.7L152.8 197.7L154.8 197.6L156.8 197.6L158.8 197.5L160.8 197.4L162.8 197.4L164.8 197.3L166.8 197.2L168.8 197.2L170.8 197.1L172.8 197.0L174.8 197.0L176.8 196.9L178.8 196.8L180.8 196.8L182.8 196.7L184.8 196.6L186.8 196.6L188.8 196.5L190.8 196.4L192.8 196.4L194.8 196.3L196.8 196.2L198.8 196.2L200.8 196.2L202.8 196.1L204.7 195.9L204.8 195.9L206.8 195.6L208.8 195.2L210.8 194.8L212.8 194.4L214.8 194.0L215.4 193.9L216.8 193.6L218.8 193.3L220.8 192.9L222.8 192.5L224.8 192.2L226.2 191.9L226.8 191.8L228.8 191.4L230.8 191.0L232.8 190.7L234.8 190.3L236.8 189.9L237.0 189.9L238.8 189.6L240.8 189.2L242.8 188.8L244.8 188.5L246.8 188.1L247.7 187.9L248.8 187.7L250.8 187.3L252.8 186.9L254.8 186.7L256.8 186.5L258.8 186.5L260.8 186.4L262.8 186.3L264.8 186.2L266.8 186.2L268.8 186.1L270.8 186.0L272.5 185.9L272.8 185.9L274.8 185.8L276.8 185.7L278.8 185.6L280.8 185.5L282.8 185.4L284.8 185.3L286.8 185.3L288.8 185.2L290.8 185.1L292.8 185.0L294.8 184.7L296.8 184.3L298.4 183.9L298.8 183.8L300.8 183.2L302.8 182.7L304.8 182.2L306.0 181.9L306.8 181.7L308.8 181.1L310.8 180.6L312.8 180.1L314.1 179.9L314.8 179.8L316.8 179.5L318.8 179.4L320.8 179.5L322.8 179.7L324.1 179.9L324.8 180.0L326.8 180.5L328.8 180.9L330.8 181.4L332.8 181.8L333.1 181.9L334.8 182.3L336.8 182.7L338.8 183.0L340.8 183.3L342.8 183.5L344.8 183.7L346.8 183.8L348.8 183.9L348.9 183.9L350.8 183.9L352.8 183.9L354.8 183.9L355.3 183.9L356.8 183.9L358.8 183.8L360.8 183.7L362.8 183.6L364.8 183.5L366.8 183.3L368.8 183.2L370.8 183.1L372.8 183.0L374.8 182.9L376.8 182.8L378.8 182.7L380.8 182.6L382.8 182.5L384.8 182.4L386.8 182.3L388.8 182.1L390.8 182.0L391.6 181.9L392.8 181.8L394.8 181.7L396.8 181.8L397.5 181.9L398.8 182.0L400.8 182.3L402.8 182.6L404.8 182.9L406.8 183.1L408.8 183.4L410.8 183.6L412.8 183.7L414.8 183.7L416.8 183.5L418.8 183.1L420.8 182.6L422.8 181.9L422.8 181.9L424.8 181.1L426.8 180.2L427.6 179.9L428.8 179.3L430.8 178.4L432.0 177.9L432.8 177.5L434.8 176.6L436.4 175.9L436.8 175.7L438.8 174.9L440.8 174.0L441.2 173.9L442.8 173.2L444.8 172.5L446.4 171.9L446.8 171.8L448.8 171.1L450.8 170.4L452.6 169.9L452.8 169.8L454.8 169.3L456.8 168.7L458.8 168.3L460.5 167.9L460.8 167.8L462.8 167.4L464.8 167.1L466.8 166.8L468.8 166.5L470.8 166.3L472.8 166.1L474.8 166.0L476.8 165.9Z"/><path fill-rule="evenodd" fill="#0098d8" d="M470.8 171.9L472.8 171.7L474.8 171.6L476.8 171.5L478.8 171.4L480.8 171.5L482.8 171.5L484.8 171.6L486.8 171.8L488.3 171.9L488.8 171.9L490.8 172.2L492.8 172.5L494.8 172.8L496.8 173.2L498.8 173.6L500.2 173.9L500.8 174.0L502.8 174.5L504.8 175.1L506.8 175.7L507.5 175.9L508.8 176.3L510.8 177.0L512.8 177.7L513.3 177.9L514.8 178.5L516.8 179.2L518.4 179.9L518.8 180.0L520.8 180.9L522.8 181.7L523.2 181.9L524.8 182.6L526.8 183.4L528.1 183.9L528.8 184.2L530.8 184.9L532.8 185.6L533.6 185.9L534.8 186.3L536.8 186.8L538.8 187.2L540.8 187.5L542.8 187.7L544.8 187.8L546.3 187.9L546.8 187.9L548.8 188.0L550.8 188.2L552.8 188.4L554.8 188.6L556.8 188.9L558.8 189.2L560.8 189.6L562.1 189.9L562.8 190.0L564.8 190.5L566.8 191.0L568.8 191.5L570.3 191.9L570.8 192.0L572.8 192.5L574.8 192.8L576.8 193.1L578.8 193.4L580.8 193.5L582.8 193.6L584.8 193.6L586.8 193.5L588.8 193.3L590.8 193.1L592.8 192.8L594.8 192.5L596.8 192.2L598.6 191.9L598.8 191.9L600.8 191.5L602.8 191.2L604.8 190.9L606.8 190.7L608.8 190.5L610.8 190.5L612.8 190.7L614.8 191.0L616.8 191.4L618.8 191.8L619.0 191.9L620.8 192.3L622.8 192.7L624.8 193.0L626.8 193.2L628.8 193.3L630.8 193.3L632.8 193.2L634.8 193.0L636.8 192.8L638.8 192.5L640.8 192.2L642.8 191.9L642.9 191.9L644.8 191.6L646.8 191.4L648.8 191.2L650.8 191.1L652.8 191.0L654.8 190.9L656.8 191.0L658.8 191.0L660.8 191.2L662.8 191.3L664.8 191.5L666.8 191.7L668.0 191.9L668.8 192.0L670.8 192.3L672.8 192.6L674.8 193.0L676.8 193.3L678.8 193.7L679.7 193.9L680.8 194.1L682.8 194.5L684.8 195.0L686.8 195.4L688.8 195.9L688.8 195.9L690.8 196.4L692.8 196.8L694.8 197.3L696.8 197.9L696.9 197.9L698.8 198.4L700.8 198.8L702.8 199.2L704.8 199.4L706.8 199.6L708.8 199.8L709.5 199.9L710.8 200.0L712.8 200.2L714.8 200.4L716.8 200.6L718.8 200.8L720.8 201.0L722.8 201.2L724.8 201.4L726.8 201.6L728.8 201.9L729.1 201.9L730.8 202.0L732.8 202.2L734.8 202.3L736.8 202.4L738.8 202.5L740.8 202.6L742.8 202.5L744.8 202.3L744.8 203.9L744.8 205.9L744.8 207.9L744.8 209.9L744.8 211.9L744.8 213.9L744.8 215.9L744.8 217.9L744.8 219.9L744.8 221.9L744.8 223.9L744.8 225.9L744.8 227.9L744.8 229.9L744.8 231.9L744.8 233.9L744.8 235.9L744.8 237.9L744.8 239.9L744.8 241.9L744.8 243.9L744.8 245.9L744.8 247.9L744.8 249.9L744.8 251.9L744.8 253.9L744.8 255.9L744.8 257.9L744.8 259.9L744.8 261.9L744.8 263.9L744.8 265.9L744.8 267.9L744.8 269.9L744.8 271.9L744.8 273.9L744.8 275.9L744.8 277.9L744.8 279.9L744.8 281.9L744.8 283.9L744.8 285.9L744.8 287.9L744.8 289.9L744.8 291.9L744.8 293.9L744.8 295.9L744.8 297.9L744.8 299.9L744.8 301.9L744.8 303.9L744.8 305.9L744.8 307.9L744.8 309.9L744.8 311.9L744.8 313.9L744.8 315.9L744.8 317.9L744.8 319.9L744.8 321.9L744.8 323.9L744.8 325.9L744.8 327.9L744.8 329.9L744.8 331.9L744.8 333.9L744.8 335.9L744.8 337.9L744.8 339.9L744.8 341.9L744.8 343.9L744.8 345.9L744.8 347.9L744.8 349.9L744.8 351.9L744.8 353.9L744.8 355.9L744.8 357.9L744.8 359.9L744.8 361.9L744.8 363.9L744.8 365.9L744.8 367.9L744.8 369.9L744.8 370.0L744.2 369.9L742.8 369.7L740.8 369.6L738.8 369.6L736.8 369.5L734.8 369.5L732.8 369.5L730.8 369.4L728.8 369.4L726.8 369.4L724.8 369.3L722.8 369.3L720.8 369.3L718.8 369.3L716.8 369.2L714.8 369.2L712.8 369.2L710.8 369.1L708.8 369.1L706.8 369.1L704.8 369.1L702.8 369.0L700.8 369.0L698.8 369.0L696.8 369.0L694.8 368.9L692.8 368.9L690.8 368.9L688.8 368.9L686.8 368.8L684.8 368.8L682.8 368.8L680.8 368.7L678.8 368.7L676.8 368.7L674.8 368.7L672.8 368.6L670.8 368.6L668.8 368.6L666.8 368.6L664.8 368.5L662.8 368.5L660.8 368.5L658.8 368.5L656.8 368.4L654.8 368.4L652.8 368.3L650.8 368.1L648.8 367.9L648.3 367.9L646.8 367.8L644.8 367.6L642.8 367.4L640.8 367.2L638.8 367.1L636.8 366.9L634.8 366.7L632.8 366.5L630.8 366.4L628.8 366.2L626.8 366.1L624.8 365.9L624.7 365.9L622.8 365.7L620.8 365.5L618.8 365.3L616.8 365.1L614.8 364.9L612.8 364.7L610.8 364.6L608.8 364.2L607.3 363.9L606.8 363.7L604.8 363.2L602.8 362.6L600.8 362.0L600.4 361.9L598.8 361.4L596.8 360.8L594.8 360.3L593.2 359.9L592.8 359.8L590.8 359.4L588.8 359.0L586.8 358.7L584.8 358.4L582.8 358.2L580.8 358.0L580.0 357.9L578.8 357.8L576.8 357.7L574.8 357.6L572.8 357.5L570.8 357.5L568.8 357.6L566.8 357.6L564.8 357.8L563.2 357.9L562.8 357.9L560.8 358.2L558.8 358.4L556.8 358.7L554.8 359.0L552.8 359.3L550.8 359.7L549.3 359.9L548.8 360.0L546.8 360.3L544.8 360.7L542.8 361.0L540.8 361.4L538.8 361.7L537.5 361.9L536.8 362.0L534.8 362.3L532.8 362.6L530.8 362.9L528.8 363.2L526.8 363.5L524.8 363.7L523.1 363.9L522.8 363.9L520.8 364.2L518.8 364.4L516.8 364.6L514.8 364.7L512.8 364.9L510.8 365.1L508.8 365.2L506.8 365.3L504.8 365.4L502.8 365.5L500.8 365.6L498.8 365.7L496.8 365.8L494.8 365.8L492.8 365.9L490.9 365.9L490.8 365.9L488.8 365.9L486.8 366.0L484.8 366.0L482.8 366.0L480.8 366.0L478.8 366.0L476.8 365.9L474.8 365.9L473.8 365.9L472.8 365.9L470.8 365.8L468.8 365.8L466.8 365.7L464.8 365.7L462.8 365.6L460.8 365.5L458.8 365.4L456.8 365.3L454.8 365.2L452.8 365.1L450.8 364.9L448.8 364.8L446.8 364.7L444.8 364.5L442.8 364.4L440.8 364.2L438.8 364.1L436.8 363.9L436.7 363.9L434.8 363.7L432.8 363.6L430.8 363.4L428.8 363.3L426.8 363.1L424.8 363.0L422.8 362.8L420.8 362.7L418.8 362.5L416.8 362.4L414.8 362.3L412.8 362.2L410.8 362.2L408.8 362.1L406.8 362.1L404.8 362.1L402.8 362.1L400.8 362.1L398.8 362.2L396.8 362.2L394.8 362.3L392.8 362.5L390.8 362.6L388.8 362.8L386.8 363.0L384.8 363.3L382.8 363.5L380.8 363.8L380.2 363.9L378.8 364.1L376.8 364.4L374.8 364.8L372.8 365.1L370.8 365.5L368.8 365.8L368.4 365.9L366.8 366.2L364.8 366.5L362.8 366.9L360.8 367.2L358.8 367.5L356.8 367.7L355.5 367.9L354.8 368.0L352.8 368.2L350.8 368.4L348.8 368.6L346.8 368.7L344.8 368.8L342.8 368.8L340.8 368.9L338.8 368.9L336.8 368.9L334.8 369.0L332.8 369.0L330.8 369.0L328.8 369.1L326.8 369.1L324.8 369.1L322.8 369.2L320.8 369.2L318.8 369.2L316.8 369.2L314.8 369.2L312.8 369.3L310.8 369.6L309.9 369.9L308.8 370.5L307.5 371.9L306.8 372.7L305.4 373.9L304.8 374.2L302.8 374.2L300.8 374.0L299.6 373.9L298.8 373.8L296.8 372.6L294.8 372.1L292.8 373.0L290.8 372.8L288.8 372.2L286.8 372.5L285.1 371.9L284.8 371.9L282.8 371.6L280.8 371.9L280.4 371.9L278.8 372.1L278.1 371.9L276.8 371.6L274.8 371.8L272.8 371.7L270.8 371.4L268.8 371.4L266.8 371.8L264.8 371.3L262.8 371.4L260.8 371.5L258.8 371.2L256.8 371.0L254.8 371.4L252.8 371.2L250.8 371.2L248.8 371.8L248.3 371.9L246.8 372.1L244.8 372.0L242.8 371.9L242.4 371.9L240.8 371.8L238.8 371.6L236.8 371.6L234.8 371.5L232.8 371.4L230.8 371.3L228.8 371.2L226.8 371.1L224.8 371.0L222.8 370.9L220.8 370.8L218.8 370.7L216.8 370.6L214.8 370.5L212.8 370.4L210.8 370.3L208.8 370.2L206.8 370.1L204.8 370.0L202.8 369.9L201.0 369.9L200.8 369.9L199.2 369.9L198.8 369.9L198.6 369.9L196.8 369.9L194.8 369.9L192.8 369.9L190.8 369.8L188.8 369.8L186.8 369.8L184.8 369.8L182.8 369.8L180.8 369.8L178.8 369.7L176.8 369.7L174.8 369.7L172.8 369.7L170.8 369.7L168.8 369.6L166.8 369.6L164.8 369.6L162.8 369.6L160.8 369.6L158.8 369.6L156.8 369.5L154.8 369.5L152.8 369.5L150.8 369.5L148.8 369.5L146.8 369.5L144.8 369.4L142.8 369.4L140.8 369.4L138.8 369.4L136.8 369.4L134.8 369.4L132.8 369.3L130.8 369.3L128.8 369.3L126.8 369.3L124.8 369.3L122.8 369.2L120.8 369.2L118.8 369.2L116.8 369.2L114.8 369.2L112.8 369.2L110.8 369.1L108.8 369.1L106.8 369.1L104.8 369.1L102.8 369.1L100.8 369.1L98.8 369.0L96.8 369.0L94.8 369.0L92.8 369.0L90.8 369.0L88.8 369.1L86.8 369.1L84.8 369.2L82.8 369.3L80.8 369.5L80.8 367.9L80.8 365.9L80.8 363.9L80.8 361.9L80.8 359.9L80.8 357.9L80.8 355.9L80.8 353.9L80.8 351.9L80.8 349.9L80.8 347.9L80.8 345.9L80.8 343.9L80.8 341.9L80.8 339.9L80.8 337.9L80.8 335.9L80.8 333.9L80.8 331.9L80.8 329.9L80.8 327.9L80.8 325.9L80.8 323.9L80.8 321.9L80.8 319.9L80.8 317.9L80.8 315.9L80.8 313.9L80.8 311.9L80.8 309.9L80.8 307.9L80.8 305.9L80.8 303.9L80.8 301.9L80.8 299.9L80.8 297.9L80.8 295.9L80.8 293.9L80.8 291.9L80.8 289.9L80.8 287.9L80.8 285.9L80.8 283.9L80.8 281.9L80.8 279.9L80.8 277.9L80.8 275.9L80.8 273.9L80.8 271.9L80.8 269.9L80.8 267.9L80.8 265.9L80.8 263.9L80.8 261.9L80.8 259.9L80.8 257.9L80.8 255.9L80.8 253.9L80.8 251.9L80.8 249.9L80.8 247.9L80.8 245.9L80.8 243.9L80.8 241.9L80.8 239.9L80.8 237.9L80.8 235.9L80.8 233.9L80.8 231.9L80.8 229.9L80.8 227.9L80.8 225.9L80.8 223.9L80.8 221.9L80.8 219.9L80.8 217.9L80.8 215.9L80.8 213.9L80.8 211.9L80.8 209.9L80.8 207.9L80.8 205.9L80.8 203.9L80.8 202.7L82.8 202.7L84.8 202.8L86.8 202.7L88.8 202.7L90.8 202.6L92.8 202.6L94.8 202.6L96.8 202.5L98.8 202.5L100.8 202.5L102.8 202.5L104.8 202.4L106.8 202.4L108.8 202.3L110.8 202.2L112.8 202.2L114.8 202.1L116.8 202.1L118.8 202.0L120.8 201.9L122.5 201.9L122.8 201.9L124.8 201.8L126.8 201.8L128.8 201.7L130.8 201.6L132.8 201.6L134.8 201.5L136.8 201.4L138.8 201.4L140.8 201.3L142.8 201.3L144.8 201.2L146.8 201.1L148.8 201.1L150.8 201.0L152.8 200.9L154.8 200.9L156.8 200.8L158.8 200.8L160.8 200.8L162.8 200.7L164.8 200.7L166.8 200.7L168.8 200.6L170.8 200.6L172.8 200.6L174.8 200.5L176.8 200.5L178.8 200.5L180.8 200.4L182.8 200.4L184.8 200.4L186.8 200.3L188.8 200.3L190.8 200.2L192.8 200.2L194.8 200.2L196.8 200.1L198.8 200.1L200.8 200.1L202.8 200.1L204.8 199.9L204.9 199.9L206.8 199.7L208.8 199.3L210.8 199.0L212.8 198.7L214.8 198.4L216.8 198.1L218.2 197.9L218.8 197.8L220.8 197.5L222.8 197.2L224.8 196.9L226.8 196.6L228.8 196.3L230.8 196.0L231.8 195.9L232.8 195.7L234.8 195.5L236.8 195.2L238.8 194.9L240.8 194.6L242.8 194.3L244.8 194.0L245.4 193.9L246.8 193.7L248.8 193.4L250.8 193.0L252.8 192.8L254.8 192.6L256.8 192.5L258.8 192.4L260.8 192.3L262.8 192.3L264.8 192.2L266.8 192.1L268.8 192.0L270.8 192.0L272.5 191.9L272.8 191.9L274.8 191.8L276.8 191.7L278.8 191.7L280.8 191.6L282.8 191.5L284.8 191.4L286.8 191.3L288.8 191.3L290.8 191.2L292.8 191.1L294.8 191.0L296.8 190.7L298.8 190.4L300.8 190.0L301.7 189.9L302.8 189.7L304.8 189.5L306.8 189.1L308.8 188.8L310.8 188.5L312.8 188.3L314.8 188.2L316.8 188.5L318.8 188.9L320.8 189.4L322.7 189.9L322.8 189.9L324.8 190.5L326.8 191.1L328.8 191.5L330.8 191.9L331.0 191.9L332.8 192.1L334.8 192.3L336.8 192.3L338.8 192.3L340.8 192.3L342.8 192.1L344.8 192.0L345.6 191.9L346.8 191.8L348.8 191.6L350.8 191.3L352.8 191.1L354.8 190.8L356.8 190.6L358.8 190.3L360.8 190.1L362.0 189.9L362.8 189.8L364.8 189.5L366.8 189.3L368.8 189.0L370.8 188.8L372.8 188.6L374.8 188.4L376.8 188.2L378.8 188.0L379.8 187.9L380.8 187.8L382.8 187.6L384.8 187.5L386.8 187.3L388.8 187.2L390.8 187.1L392.8 187.0L394.8 187.0L396.8 187.0L398.8 187.2L400.8 187.3L402.8 187.5L404.8 187.7L406.8 187.9L407.2 187.9L408.8 188.0L410.8 188.1L412.8 188.1L414.8 188.0L416.4 187.9L416.8 187.9L418.8 187.6L420.8 187.2L422.8 186.7L424.8 186.1L425.3 185.9L426.8 185.4L428.8 184.6L430.6 183.9L430.8 183.8L432.8 183.0L434.8 182.2L435.4 181.9L436.8 181.3L438.8 180.5L440.2 179.9L440.8 179.7L442.8 178.9L444.8 178.1L445.4 177.9L446.8 177.4L448.8 176.7L450.8 176.0L451.3 175.9L452.8 175.4L454.8 174.9L456.8 174.3L458.6 173.9L458.8 173.8L460.8 173.4L462.8 173.0L464.8 172.7L466.8 172.3L468.8 172.1L470.5 171.9Z"/><path fill-rule="evenodd" fill="#00a8d8" d="M466.8 177.7L468.8 177.5L470.8 177.2L472.8 177.1L474.8 177.0L476.8 176.9L478.8 176.9L480.8 176.9L482.8 177.0L484.8 177.1L486.8 177.3L488.8 177.5L490.8 177.7L491.9 177.9L492.8 178.0L494.8 178.4L496.8 178.8L498.8 179.2L500.8 179.7L501.5 179.9L502.8 180.3L504.8 180.8L506.8 181.5L508.1 181.9L508.8 182.1L510.8 182.9L512.8 183.6L513.5 183.9L514.8 184.4L516.8 185.2L518.3 185.9L518.8 186.1L520.8 187.0L522.8 187.9L522.8 187.9L524.8 188.8L526.8 189.7L527.3 189.9L528.8 190.5L530.8 191.4L532.3 191.9L532.8 192.1L534.8 192.7L536.8 193.2L538.8 193.4L540.8 193.5L542.8 193.5L544.8 193.4L546.8 193.3L548.8 193.2L550.8 193.2L552.8 193.3L554.8 193.4L556.8 193.7L558.1 193.9L558.8 194.0L560.8 194.4L562.8 194.9L564.8 195.4L566.6 195.9L566.8 196.0L568.8 196.5L570.8 197.1L572.8 197.5L574.7 197.9L574.8 197.9L576.8 198.2L578.8 198.4L580.8 198.5L582.8 198.5L584.8 198.4L586.8 198.2L588.8 198.0L589.9 197.9L590.8 197.8L592.8 197.5L594.8 197.2L596.8 196.9L598.8 196.6L600.8 196.3L602.8 196.0L603.8 195.9L604.8 195.8L606.8 195.6L608.8 195.5L610.8 195.4L612.8 195.4L614.8 195.5L616.8 195.7L618.8 195.9L618.8 195.9L620.8 196.1L622.8 196.2L624.8 196.3L626.8 196.4L628.8 196.4L630.8 196.3L632.8 196.1L634.8 195.9L635.0 195.9L636.8 195.7L638.8 195.4L640.8 195.2L642.8 194.9L644.8 194.7L646.8 194.4L648.8 194.3L650.8 194.2L652.8 194.1L654.8 194.1L656.8 194.1L658.8 194.2L660.8 194.3L662.8 194.5L664.8 194.7L666.8 195.0L668.8 195.2L670.8 195.5L672.8 195.8L673.2 195.9L674.8 196.2L676.8 196.5L678.8 196.9L680.8 197.2L682.8 197.6L684.3 197.9L684.8 198.0L686.8 198.4L688.8 198.7L690.8 199.1L692.8 199.5L694.8 199.9L695.0 199.9L696.8 200.3L698.8 200.7L700.8 201.1L702.8 201.4L704.8 201.6L706.8 201.9L707.2 201.9L708.8 202.1L710.8 202.2L712.8 202.4L714.8 202.6L716.8 202.8L718.8 203.0L720.8 203.2L722.8 203.4L724.8 203.6L726.8 203.9L727.2 203.9L728.8 204.0L730.8 204.2L732.8 204.3L734.8 204.4L736.8 204.4L738.8 204.5L740.8 204.7L742.8 204.7L744.8 204.6L744.8 205.9L744.8 207.9L744.8 209.9L744.8 211.9L744.8 213.9L744.8 215.9L744.8 217.9L744.8 219.9L744.8 221.9L744.8 223.9L744.8 225.9L744.8 227.9L744.8 229.9L744.8 231.9L744.8 233.9L744.8 235.9L744.8 237.9L744.8 239.9L744.8 241.9L744.8 243.9L744.8 245.9L744.8 247.9L744.8 249.9L744.8 251.9L744.8 253.9L744.8 255.9L744.8 257.9L744.8 259.9L744.8 261.9L744.8 263.9L744.8 265.9L744.8 267.9L744.8 269.9L744.8 271.9L744.8 273.9L744.8 275.9L744.8 277.9L744.8 279.9L744.8 281.9L744.8 283.9L744.8 285.9L744.8 287.9L744.8 289.9L744.8 291.9L744.8 293.9L744.8 295.9L744.8 297.9L744.8 299.9L744.8 301.9L744.8 303.9L744.8 305.9L744.8 307.9L744.8 309.9L744.8 311.9L744.8 313.9L744.8 315.9L744.8 317.9L744.8 319.9L744.8 321.9L744.8 323.9L744.8 325.9L744.8 327.9L744.8 329.9L744.8 331.9L744.8 333.9L744.8 335.9L744.8 337.9L744.8 339.9L744.8 341.9L744.8 343.9L744.8 345.9L744.8 347.9L744.8 349.9L744.8 351.9L744.8 353.9L744.8 355.9L744.8 357.9L744.8 359.9L744.8 361.9L744.8 363.9L744.8 364.1L742.8 364.0L741.3 363.9L740.8 363.9L738.8 363.7L736.8 363.5L734.8 363.3L732.8 363.1L730.8 362.8L728.8 362.6L726.8 362.4L724.8 362.3L722.8 362.2L720.8 362.2L718.8 362.3L716.8 362.3L714.8 362.3L712.8 362.3L710.8 362.4L708.8 362.4L706.8 362.4L704.8 362.4L702.8 362.4L700.8 362.5L698.8 362.5L696.8 362.5L694.8 362.5L692.8 362.6L690.8 362.6L688.8 362.6L686.8 362.6L684.8 362.7L682.8 362.7L680.8 362.7L678.8 362.7L676.8 362.7L674.8 362.8L672.8 362.8L670.8 362.8L668.8 362.8L666.8 362.9L664.8 362.9L662.8 362.9L660.8 362.9L658.8 363.0L656.8 363.0L654.8 363.0L652.8 362.9L650.8 362.8L648.8 362.6L646.8 362.5L644.8 362.4L642.8 362.2L640.8 362.1L638.8 362.0L637.7 361.9L636.8 361.8L634.8 361.7L632.8 361.6L630.8 361.5L628.8 361.3L626.8 361.2L624.8 361.1L622.8 361.0L620.8 360.9L618.8 360.7L616.8 360.6L614.8 360.5L612.8 360.4L610.8 360.1L609.9 359.9L608.8 359.7L606.8 359.0L604.8 358.3L603.9 357.9L602.8 357.5L600.8 356.6L599.0 355.9L598.8 355.8L596.8 355.1L594.8 354.4L593.0 353.9L592.8 353.9L590.8 353.4L588.8 353.0L586.8 352.6L584.8 352.3L582.8 352.1L581.0 351.9L580.8 351.9L578.8 351.7L576.8 351.5L574.8 351.3L572.8 351.2L570.8 351.1L568.8 351.0L566.8 351.0L564.8 351.0L562.8 351.1L560.8 351.3L558.8 351.5L556.8 351.7L555.0 351.9L554.8 351.9L552.8 352.2L550.8 352.5L548.8 352.7L546.8 353.0L544.8 353.3L542.8 353.5L540.8 353.8L540.1 353.9L538.8 354.1L536.8 354.3L534.8 354.6L532.8 354.8L530.8 355.0L528.8 355.3L526.8 355.5L524.8 355.7L522.8 355.8L522.1 355.9L520.8 356.0L518.8 356.2L516.8 356.3L514.8 356.5L512.8 356.6L510.8 356.7L508.8 356.8L506.8 356.9L504.8 356.9L502.8 357.0L500.8 357.1L498.8 357.1L496.8 357.2L494.8 357.2L492.8 357.2L490.8 357.2L488.8 357.3L486.8 357.3L484.8 357.3L482.8 357.3L480.8 357.3L478.8 357.2L476.8 357.2L474.8 357.2L472.8 357.2L470.8 357.1L468.8 357.1L466.8 357.0L464.8 357.0L462.8 356.9L460.8 356.8L458.8 356.7L456.8 356.6L454.8 356.6L452.8 356.5L450.8 356.3L448.8 356.2L446.8 356.1L444.8 356.0L443.2 355.9L442.8 355.9L440.8 355.7L438.8 355.6L436.8 355.5L434.8 355.4L432.8 355.2L430.8 355.1L428.8 355.0L426.8 354.9L424.8 354.8L422.8 354.7L420.8 354.6L418.8 354.5L416.8 354.5L414.8 354.4L412.8 354.4L410.8 354.3L408.8 354.3L406.8 354.3L404.8 354.4L402.8 354.4L400.8 354.5L398.8 354.6L396.8 354.7L394.8 354.8L392.8 354.9L390.8 355.1L388.8 355.3L386.8 355.5L384.8 355.8L383.6 355.9L382.8 356.0L380.8 356.3L378.8 356.6L376.8 356.8L374.8 357.1L372.8 357.4L370.8 357.8L369.9 357.9L368.8 358.1L366.8 358.4L364.8 358.6L362.8 358.9L360.8 359.2L358.8 359.4L356.8 359.5L354.8 359.7L352.8 359.8L350.8 359.9L350.0 359.9L348.8 359.9L346.8 360.0L344.8 360.1L342.8 360.2L340.8 360.3L338.8 360.4L336.8 360.5L334.8 360.6L332.8 360.7L330.8 360.9L328.8 361.0L326.8 361.1L324.8 361.2L322.8 361.3L320.8 361.4L318.8 361.5L316.8 361.6L314.8 361.7L312.8 361.8L311.5 361.9L310.8 362.0L308.8 363.0L308.3 363.9L306.8 365.7L306.6 365.9L304.8 367.0L302.8 366.8L300.8 366.7L298.8 366.9L296.8 366.2L294.8 366.0L292.8 366.5L290.8 366.3L288.8 366.0L286.8 366.2L285.8 365.9L284.8 365.6L282.8 365.0L280.8 365.6L278.8 365.8L276.8 365.2L274.8 365.5L272.8 365.4L270.8 365.1L268.8 365.2L266.8 365.7L264.8 365.2L262.8 365.3L260.8 365.5L258.8 365.3L256.8 365.2L254.8 365.6L252.8 365.4L250.8 365.5L249.8 365.9L248.8 366.2L246.8 366.7L244.8 366.7L242.8 366.6L240.8 366.4L238.8 366.3L236.8 366.1L234.8 366.0L232.8 366.0L231.7 365.9L230.8 365.9L228.8 365.8L226.8 365.7L224.8 365.6L222.8 365.5L220.8 365.4L218.8 365.3L216.8 365.2L214.8 365.1L212.8 365.0L210.8 364.9L208.8 364.8L206.8 364.7L204.8 364.6L202.8 364.5L200.8 364.5L198.8 364.5L196.8 364.4L194.8 364.4L192.8 364.4L190.8 364.4L188.8 364.3L186.8 364.3L184.8 364.3L182.8 364.3L180.8 364.2L178.8 364.2L176.8 364.2L174.8 364.1L172.8 364.1L170.8 364.1L168.8 364.1L166.8 364.0L164.8 364.0L162.8 364.0L160.8 363.9L158.8 363.9L157.7 363.9L156.8 363.9L154.8 363.9L152.8 363.8L150.8 363.8L148.8 363.8L146.8 363.7L144.8 363.7L142.8 363.7L140.8 363.7L138.8 363.6L136.8 363.6L134.8 363.6L132.8 363.6L130.8 363.5L128.8 363.5L126.8 363.5L124.8 363.4L122.8 363.4L120.8 363.4L118.8 363.4L116.8 363.3L114.8 363.3L112.8 363.3L110.8 363.2L108.8 363.2L106.8 363.2L104.8 363.2L102.8 363.1L100.8 363.1L98.8 363.1L96.8 363.0L94.8 363.0L92.8 363.0L90.8 363.0L88.8 363.0L86.8 363.1L84.8 363.1L82.8 363.2L80.8 363.4L80.8 361.9L80.8 359.9L80.8 357.9L80.8 355.9L80.8 353.9L80.8 351.9L80.8 349.9L80.8 347.9L80.8 345.9L80.8 343.9L80.8 341.9L80.8 339.9L80.8 337.9L80.8 335.9L80.8 333.9L80.8 331.9L80.8 329.9L80.8 327.9L80.8 325.9L80.8 323.9L80.8 321.9L80.8 319.9L80.8 317.9L80.8 315.9L80.8 313.9L80.8 311.9L80.8 309.9L80.8 307.9L80.8 305.9L80.8 303.9L80.8 301.9L80.8 299.9L80.8 297.9L80.8 295.9L80.8 293.9L80.8 291.9L80.8 289.9L80.8 287.9L80.8 285.9L80.8 283.9L80.8 281.9L80.8 279.9L80.8 277.9L80.8 275.9L80.8 273.9L80.8 271.9L80.8 269.9L80.8 267.9L80.8 265.9L80.8 263.9L80.8 261.9L80.8 259.9L80.8 257.9L80.8 255.9L80.8 253.9L80.8 251.9L80.8 249.9L80.8 247.9L80.8 245.9L80.8 243.9L80.8 241.9L80.8 239.9L80.8 237.9L80.8 235.9L80.8 233.9L80.8 231.9L80.8 229.9L80.8 227.9L80.8 225.9L80.8 223.9L80.8 221.9L80.8 219.9L80.8 217.9L80.8 215.9L80.8 213.9L80.8 211.9L80.8 209.9L80.8 207.9L80.8 205.9L80.8 205.6L82.8 205.7L84.8 205.7L86.8 205.7L88.8 205.6L90.8 205.6L92.8 205.6L94.8 205.6L96.8 205.5L98.8 205.5L100.8 205.5L102.8 205.5L104.8 205.5L106.8 205.4L108.8 205.3L110.8 205.3L112.8 205.2L114.8 205.2L116.8 205.1L118.8 205.0L120.8 205.0L122.8 204.9L124.8 204.9L126.8 204.8L128.8 204.8L130.8 204.7L132.8 204.6L134.8 204.6L136.8 204.5L138.8 204.5L140.8 204.4L142.8 204.4L144.8 204.3L146.8 204.2L148.8 204.2L150.8 204.1L152.8 204.1L154.8 204.0L156.8 204.0L158.8 204.0L160.8 204.0L162.8 204.0L164.8 204.0L166.8 204.0L168.8 204.0L170.8 204.0L172.8 204.0L174.8 204.0L176.8 204.0L178.8 204.0L180.8 204.0L182.8 204.0L184.8 204.0L186.8 204.0L188.8 204.0L190.8 204.0L192.8 204.0L194.8 204.0L196.8 204.0L198.8 204.0L200.8 204.1L202.8 204.1L204.8 204.0L205.4 203.9L206.8 203.8L208.8 203.5L210.8 203.3L212.8 203.0L214.8 202.8L216.8 202.6L218.8 202.4L220.8 202.2L222.8 201.9L223.2 201.9L224.8 201.7L226.8 201.5L228.8 201.3L230.8 201.1L232.8 200.8L234.8 200.6L236.8 200.4L238.8 200.2L240.8 200.0L241.3 199.9L242.8 199.7L244.8 199.5L246.8 199.3L248.8 199.0L250.8 198.8L252.8 198.6L254.8 198.5L256.8 198.4L258.8 198.4L260.8 198.4L262.8 198.4L264.8 198.4L266.8 198.3L268.8 198.3L270.8 198.3L272.8 198.3L274.8 198.2L276.8 198.2L278.8 198.2L280.8 198.2L282.8 198.2L284.8 198.1L286.8 198.1L288.8 198.0L290.8 198.0L292.8 198.0L294.8 198.0L296.8 198.0L298.8 198.2L300.8 198.5L302.8 199.0L304.8 199.7L305.2 199.9L306.8 200.9L308.0 201.9L308.8 202.8L309.7 203.9L310.7 205.9L310.8 206.2L311.5 207.9L312.2 209.9L312.8 211.8L312.9 211.9L314.2 213.9L314.8 214.4L316.8 215.2L318.8 215.1L320.8 214.5L321.9 213.9L322.8 213.4L324.8 212.2L325.2 211.9L326.8 210.8L328.0 209.9L328.8 209.4L330.8 208.0L331.0 207.9L332.8 206.8L334.4 205.9L334.8 205.7L336.8 204.6L338.3 203.9L338.8 203.7L340.8 202.8L342.8 202.0L343.1 201.9L344.8 201.3L346.8 200.5L348.7 199.9L348.8 199.9L350.8 199.3L352.8 198.7L354.8 198.1L355.5 197.9L356.8 197.6L358.8 197.0L360.8 196.6L362.8 196.1L363.7 195.9L364.8 195.7L366.8 195.2L368.8 194.8L370.8 194.5L372.8 194.1L374.2 193.9L374.8 193.8L376.8 193.5L378.8 193.2L380.8 193.0L382.8 192.7L384.8 192.5L386.8 192.3L388.8 192.1L390.8 192.0L392.8 191.9L393.8 191.9L394.8 191.9L396.8 191.9L398.1 191.9L398.8 191.9L400.8 192.0L402.8 192.1L404.8 192.1L406.8 192.2L408.8 192.3L410.8 192.3L412.8 192.2L414.8 192.1L416.8 192.0L417.3 191.9L418.8 191.7L420.8 191.4L422.8 191.0L424.8 190.5L426.8 189.9L426.8 189.9L428.8 189.3L430.8 188.6L432.8 187.9L432.8 187.9L434.8 187.1L436.8 186.4L438.0 185.9L438.8 185.6L440.8 184.8L442.8 184.1L443.3 183.9L444.8 183.4L446.8 182.7L448.8 182.0L449.1 181.9L450.8 181.3L452.8 180.7L454.8 180.2L455.9 179.9L456.8 179.7L458.8 179.2L460.8 178.7L462.8 178.4L464.8 178.0L465.5 177.9Z"/><path fill-rule="evenodd" fill="#00b8d8" d="M462.8 183.6L464.8 183.2L466.8 182.9L468.8 182.7L470.8 182.5L472.8 182.4L474.8 182.3L476.8 182.2L478.8 182.2L480.8 182.2L482.8 182.3L484.8 182.5L486.8 182.6L488.8 182.9L490.8 183.2L492.8 183.5L494.8 183.8L495.1 183.9L496.8 184.3L498.8 184.7L500.8 185.2L502.8 185.8L503.2 185.9L504.8 186.4L506.8 187.0L508.8 187.7L509.3 187.9L510.8 188.5L512.8 189.2L514.4 189.9L514.8 190.0L516.8 190.9L518.8 191.8L519.1 191.9L520.8 192.7L522.8 193.6L523.4 193.9L524.8 194.5L526.8 195.5L527.7 195.9L528.8 196.4L530.8 197.3L532.3 197.9L532.8 198.1L534.8 198.7L536.8 199.2L538.8 199.4L540.8 199.4L542.8 199.1L544.8 198.7L546.8 198.3L548.8 198.0L550.5 197.9L550.8 197.9L552.8 197.9L553.5 197.9L554.8 198.0L556.8 198.2L558.8 198.6L560.8 199.0L562.8 199.6L563.9 199.9L564.8 200.2L566.8 200.8L568.8 201.5L570.2 201.9L570.8 202.1L572.8 202.6L574.8 203.0L576.8 203.3L578.8 203.4L580.8 203.4L582.8 203.3L584.8 203.1L586.8 202.9L588.8 202.7L590.8 202.4L592.8 202.1L594.5 201.9L594.8 201.9L596.8 201.5L598.8 201.2L600.8 201.0L602.8 200.7L604.8 200.4L606.8 200.2L608.8 200.0L610.8 199.9L610.8 199.9L612.8 199.8L614.8 199.8L616.8 199.8L618.8 199.8L620.8 199.8L622.8 199.7L624.8 199.7L626.8 199.6L628.8 199.5L630.8 199.3L632.8 199.1L634.8 198.9L636.8 198.6L638.8 198.3L640.8 198.0L641.9 197.9L642.8 197.8L644.8 197.6L646.8 197.4L648.8 197.2L650.8 197.2L652.8 197.1L654.8 197.1L656.8 197.2L658.8 197.3L660.8 197.5L662.8 197.7L664.8 197.9L664.9 197.9L666.8 198.1L668.8 198.4L670.8 198.7L672.8 199.0L674.8 199.4L676.8 199.7L678.2 199.9L678.8 200.0L680.8 200.3L682.8 200.6L684.8 200.9L686.8 201.2L688.8 201.5L690.8 201.7L692.5 201.9L692.8 201.9L694.8 202.2L696.8 202.4L698.8 202.6L700.8 202.9L702.8 203.2L704.8 203.3L706.8 203.6L708.8 203.8L710.0 203.9L710.8 204.0L712.8 204.2L714.8 204.4L716.8 204.5L718.8 204.7L720.8 204.9L722.8 205.1L724.8 205.3L726.8 205.6L728.8 205.7L730.0 205.9L730.8 206.0L732.8 206.1L734.8 206.1L736.8 206.2L738.8 206.3L740.8 206.5L742.8 206.6L744.8 206.5L744.8 207.9L744.8 209.9L744.8 211.9L744.8 213.9L744.8 215.9L744.8 217.9L744.8 219.9L744.8 221.9L744.8 223.9L744.8 225.9L744.8 227.9L744.8 229.9L744.8 231.9L744.8 233.9L744.8 235.9L744.8 237.9L744.8 239.9L744.8 241.9L744.8 243.9L744.8 245.9L744.8 247.9L744.8 249.9L744.8 251.9L744.8 253.9L744.8 255.9L744.8 257.9L744.8 259.9L744.8 261.9L744.8 263.9L744.8 265.9L744.8 267.9L744.8 269.9L744.8 271.9L744.8 273.9L744.8 275.9L744.8 277.9L744.8 279.9L744.8 281.9L744.8 283.9L744.8 285.9L744.8 287.9L744.8 289.9L744.8 291.9L744.8 293.9L744.8 295.9L744.8 297.9L744.8 299.9L744.8 301.9L744.8 303.9L744.8 305.9L744.8 307.9L744.8 309.9L744.8 311.9L744.8 313.9L744.8 315.9L744.8 317.9L744.8 319.9L744.8 321.9L744.8 323.9L744.8 325.9L744.8 327.9L744.8 329.9L744.8 331.9L744.8 333.9L744.8 335.9L744.8 337.9L744.8 339.9L744.8 341.9L744.8 343.9L744.8 345.9L744.8 347.9L744.8 349.9L744.8 351.9L744.8 353.9L744.8 355.9L744.8 357.9L744.8 358.5L742.8 358.4L740.8 358.3L738.8 358.0L738.0 357.9L736.8 357.7L734.8 357.5L732.8 357.2L730.8 357.0L728.8 356.7L726.8 356.5L724.8 356.2L722.8 356.2L720.8 356.2L718.8 356.2L716.8 356.2L714.8 356.3L712.8 356.3L710.8 356.3L708.8 356.4L706.8 356.4L704.8 356.4L702.8 356.4L700.8 356.5L698.8 356.5L696.8 356.5L694.8 356.5L692.8 356.6L690.8 356.6L688.8 356.6L686.8 356.6L684.8 356.7L682.8 356.7L680.8 356.7L678.8 356.7L676.8 356.8L674.8 356.8L672.8 356.8L670.8 356.8L668.8 356.9L666.8 356.9L664.8 356.9L662.8 356.9L660.8 357.0L658.8 357.0L656.8 357.0L654.8 357.0L652.8 356.9L650.8 356.8L648.8 356.7L646.8 356.5L644.8 356.4L642.8 356.2L640.8 356.1L638.8 356.0L637.8 355.9L636.8 355.8L634.8 355.7L632.8 355.5L630.8 355.4L628.8 355.2L626.8 355.1L624.8 355.0L622.8 354.8L620.8 354.7L618.8 354.5L616.8 354.4L614.8 354.3L612.8 354.2L610.8 353.9L610.7 353.9L608.8 353.4L606.8 352.6L605.3 351.9L604.8 351.7L602.8 350.8L600.8 349.9L600.8 349.9L598.8 349.2L596.8 348.5L594.8 348.0L594.3 347.9L592.8 347.6L590.8 347.3L588.8 347.0L586.8 346.8L584.8 346.6L582.8 346.4L580.8 346.2L578.8 346.0L577.5 345.9L576.8 345.8L574.8 345.6L572.8 345.4L570.8 345.2L568.8 345.0L566.8 344.9L564.8 344.9L562.8 344.9L560.8 345.1L558.8 345.2L556.8 345.4L554.8 345.5L552.8 345.7L550.8 345.9L550.7 345.9L548.8 346.1L546.8 346.2L544.8 346.4L542.8 346.6L540.8 346.8L538.8 346.9L536.8 347.1L534.8 347.3L532.8 347.4L530.8 347.6L528.8 347.8L526.8 347.9L526.7 347.9L524.8 348.0L522.8 348.2L520.8 348.3L518.8 348.4L516.8 348.5L514.8 348.6L512.8 348.6L510.8 348.7L508.8 348.7L506.8 348.8L504.8 348.8L502.8 348.8L500.8 348.8L498.8 348.9L496.8 348.9L494.8 348.9L492.8 348.9L490.8 348.9L488.8 348.9L486.8 348.8L484.8 348.8L482.8 348.8L480.8 348.8L478.8 348.8L476.8 348.8L474.8 348.8L472.8 348.7L470.8 348.7L468.8 348.6L466.8 348.6L464.8 348.5L462.8 348.5L460.8 348.4L458.8 348.3L456.8 348.3L454.8 348.2L452.8 348.1L450.8 348.0L448.8 347.9L448.8 347.9L446.8 347.8L444.8 347.7L442.8 347.6L440.8 347.5L438.8 347.4L436.8 347.3L434.8 347.2L432.8 347.1L430.8 347.0L428.8 346.9L426.8 346.9L424.8 346.8L422.8 346.7L420.8 346.7L418.8 346.6L416.8 346.6L414.8 346.6L412.8 346.6L410.8 346.6L408.8 346.6L406.8 346.6L404.8 346.7L402.8 346.8L400.8 346.9L398.8 347.0L396.8 347.1L394.8 347.2L392.8 347.4L390.8 347.6L388.8 347.8L387.8 347.9L386.8 348.0L384.8 348.2L382.8 348.5L380.8 348.8L378.8 349.0L376.8 349.3L374.8 349.6L373.1 349.9L372.8 349.9L370.8 350.3L368.8 350.6L366.8 350.9L364.8 351.2L362.8 351.5L360.8 351.8L359.8 351.9L358.8 352.0L356.8 352.3L354.8 352.5L352.8 352.7L350.8 352.8L348.8 352.9L346.8 353.0L344.8 353.1L342.8 353.2L340.8 353.4L338.8 353.5L336.8 353.6L334.8 353.8L333.1 353.9L332.8 353.9L330.8 354.1L328.8 354.2L326.8 354.4L324.8 354.5L322.8 354.6L320.8 354.8L318.8 354.9L316.8 355.1L314.8 355.2L312.8 355.3L310.8 355.4L308.8 355.5L306.8 355.6L304.8 355.7L302.8 355.9L302.3 355.9L300.8 356.0L298.8 356.1L296.8 356.2L294.8 356.4L292.8 356.6L290.8 356.8L288.8 357.0L286.8 357.2L284.8 357.3L282.8 357.5L280.8 357.7L279.1 357.9L278.8 358.0L276.8 358.0L274.8 358.4L272.8 358.5L270.8 358.5L268.8 358.7L266.8 359.2L264.8 359.0L262.8 359.1L260.8 359.5L258.8 359.3L256.8 359.3L254.8 359.7L252.8 359.6L250.8 359.9L250.8 359.9L248.8 360.6L246.8 361.1L244.8 361.2L242.8 361.1L240.8 361.0L238.8 360.9L236.8 360.8L234.8 360.7L232.8 360.6L230.8 360.6L228.8 360.5L226.8 360.4L224.8 360.3L222.8 360.2L220.8 360.2L218.8 360.1L216.8 360.0L214.8 359.9L214.3 359.9L212.8 359.8L210.8 359.8L208.8 359.7L206.8 359.6L204.8 359.5L202.8 359.5L200.8 359.4L198.8 359.4L196.8 359.3L194.8 359.3L192.8 359.2L190.8 359.2L188.8 359.1L186.8 359.1L184.8 359.0L182.8 359.0L180.8 358.9L178.8 358.9L176.8 358.9L174.8 358.8L172.8 358.8L170.8 358.7L168.8 358.7L166.8 358.6L164.8 358.6L162.8 358.5L160.8 358.5L158.8 358.4L156.8 358.4L154.8 358.4L152.8 358.3L150.8 358.3L148.8 358.2L146.8 358.2L144.8 358.1L142.8 358.1L140.8 358.0L138.8 358.0L136.8 357.9L135.1 357.9L134.8 357.9L132.8 357.8L130.8 357.8L128.8 357.8L126.8 357.7L124.8 357.7L122.8 357.6L120.8 357.6L118.8 357.5L116.8 357.5L114.8 357.4L112.8 357.4L110.8 357.3L108.8 357.3L106.8 357.3L104.8 357.2L102.8 357.2L100.8 357.1L98.8 357.1L96.8 357.0L94.8 357.0L92.8 356.9L90.8 356.9L88.8 356.9L86.8 357.0L84.8 357.1L82.8 357.2L80.8 357.3L80.8 355.9L80.8 353.9L80.8 351.9L80.8 349.9L80.8 347.9L80.8 345.9L80.8 343.9L80.8 341.9L80.8 339.9L80.8 337.9L80.8 335.9L80.8 333.9L80.8 331.9L80.8 329.9L80.8 327.9L80.8 325.9L80.8 323.9L80.8 321.9L80.8 319.9L80.8 317.9L80.8 315.9L80.8 313.9L80.8 311.9L80.8 309.9L80.8 307.9L80.8 305.9L80.8 303.9L80.8 301.9L80.8 299.9L80.8 297.9L80.8 295.9L80.8 293.9L80.8 291.9L80.8 289.9L80.8 287.9L80.8 285.9L80.8 283.9L80.8 281.9L80.8 279.9L80.8 277.9L80.8 275.9L80.8 273.9L80.8 271.9L80.8 269.9L80.8 267.9L80.8 265.9L80.8 263.9L80.8 261.9L80.8 259.9L80.8 257.9L80.8 255.9L80.8 253.9L80.8 251.9L80.8 249.9L80.8 247.9L80.8 245.9L80.8 243.9L80.8 241.9L80.8 239.9L80.8 237.9L80.8 235.9L80.8 233.9L80.8 231.9L80.8 229.9L80.8 227.9L80.8 225.9L80.8 223.9L80.8 221.9L80.8 219.9L80.8 217.9L80.8 215.9L80.8 213.9L80.8 211.9L80.8 209.9L80.8 208.2L82.8 208.2L84.8 208.2L86.8 208.2L88.8 208.2L90.8 208.2L92.8 208.2L94.8 208.2L96.8 208.2L98.8 208.2L100.8 208.1L102.8 208.1L104.8 208.1L106.8 208.1L108.8 208.0L110.8 208.0L112.8 208.0L114.8 207.9L115.4 207.9L116.8 207.9L118.8 207.8L120.8 207.8L122.8 207.7L124.8 207.7L126.8 207.6L128.8 207.6L130.8 207.6L132.8 207.5L134.8 207.5L136.8 207.4L138.8 207.4L140.8 207.3L142.8 207.3L144.8 207.2L146.8 207.2L148.8 207.1L150.8 207.1L152.8 207.0L154.8 207.0L156.8 207.1L158.8 207.1L160.8 207.2L162.8 207.2L164.8 207.2L166.8 207.3L168.8 207.3L170.8 207.3L172.8 207.4L174.8 207.4L176.8 207.4L178.8 207.5L180.8 207.5L182.8 207.5L184.8 207.6L186.8 207.6L188.8 207.7L190.8 207.7L192.8 207.7L194.8 207.8L196.8 207.8L198.8 207.9L200.1 207.9L200.8 207.9L202.8 207.9L204.8 207.9L205.0 207.9L206.8 207.8L208.8 207.6L210.8 207.5L212.8 207.3L214.8 207.2L216.8 207.0L218.8 206.9L220.8 206.8L222.8 206.6L224.8 206.5L226.8 206.3L228.8 206.2L230.8 206.0L232.8 205.9L232.9 205.9L234.8 205.8L236.8 205.6L238.8 205.4L240.8 205.3L242.8 205.2L244.8 205.0L246.8 204.9L248.8 204.7L250.8 204.5L252.8 204.4L254.8 204.3L256.8 204.3L258.8 204.3L260.8 204.4L262.8 204.4L264.8 204.4L266.8 204.5L268.8 204.5L270.8 204.5L272.8 204.5L274.8 204.6L276.8 204.6L278.8 204.6L280.8 204.7L282.8 204.7L284.8 204.7L286.8 204.7L288.8 204.7L290.8 204.6L292.8 204.7L294.8 205.1L296.8 205.7L297.1 205.9L298.8 207.0L299.7 207.9L300.8 209.7L300.9 209.9L301.6 211.9L302.1 213.9L302.6 215.9L302.8 216.2L303.7 217.9L304.8 219.2L305.4 219.9L306.8 221.0L308.1 221.9L308.8 222.3L310.8 223.5L311.5 223.9L312.8 224.6L314.8 225.1L316.8 225.3L318.8 225.2L320.8 224.9L322.8 224.4L324.1 223.9L324.8 223.6L326.8 222.7L328.4 221.9L328.8 221.7L330.8 220.4L331.7 219.9L332.8 219.1L334.6 217.9L334.8 217.7L336.8 216.3L337.3 215.9L338.8 214.8L340.1 213.9L340.8 213.4L342.8 212.1L343.1 211.9L344.8 210.8L346.3 209.9L346.8 209.6L348.8 208.5L349.9 207.9L350.8 207.5L352.8 206.5L354.1 205.9L354.8 205.6L356.8 204.7L358.8 204.0L358.9 203.9L360.8 203.2L362.8 202.5L364.7 201.9L364.8 201.9L366.8 201.3L368.8 200.7L370.8 200.2L371.9 199.9L372.8 199.7L374.8 199.2L376.8 198.8L378.8 198.4L380.8 198.1L381.8 197.9L382.8 197.7L384.8 197.4L386.8 197.2L388.8 197.0L390.8 196.8L392.8 196.6L394.8 196.5L396.8 196.5L398.8 196.4L400.8 196.4L402.8 196.4L404.8 196.4L406.8 196.4L408.8 196.4L410.8 196.4L412.8 196.3L414.8 196.2L416.8 196.0L417.5 195.9L418.8 195.7L420.8 195.5L422.8 195.1L424.8 194.7L426.8 194.2L427.9 193.9L428.8 193.7L430.8 193.1L432.8 192.5L434.5 191.9L434.8 191.8L436.8 191.1L438.8 190.4L440.3 189.9L440.8 189.7L442.8 189.0L444.8 188.3L446.1 187.9L446.8 187.7L448.8 187.0L450.8 186.4L452.6 185.9L452.8 185.8L454.8 185.3L456.8 184.8L458.8 184.3L460.8 183.9L460.9 183.9Z"/><path fill-rule="evenodd" fill="#00c8d8" d="M468.8 187.9L470.8 187.7L472.8 187.6L474.8 187.5L476.8 187.5L478.8 187.5L480.8 187.6L482.8 187.7L484.8 187.8L485.7 187.9L486.8 188.0L488.8 188.2L490.8 188.5L492.8 188.9L494.8 189.2L496.8 189.7L497.8 189.9L498.8 190.1L500.8 190.6L502.8 191.2L504.8 191.8L505.1 191.9L506.8 192.4L508.8 193.1L510.8 193.9L510.9 193.9L512.8 194.6L514.8 195.4L516.1 195.9L516.8 196.2L518.8 197.0L520.8 197.9L520.8 197.9L522.8 198.8L524.8 199.7L525.2 199.9L526.8 200.6L528.8 201.5L529.6 201.9L530.8 202.4L532.8 203.1L534.8 203.8L535.1 203.9L536.8 204.3L538.8 204.7L540.8 204.7L542.8 204.3L544.1 203.9L544.8 203.7L546.8 203.1L548.8 202.6L550.8 202.3L552.8 202.3L554.8 202.5L556.8 202.8L558.8 203.2L560.8 203.7L561.6 203.9L562.8 204.2L564.8 204.9L566.8 205.6L567.6 205.9L568.8 206.4L570.8 207.0L572.8 207.6L574.2 207.9L574.8 208.0L576.8 208.2L578.8 208.2L580.8 208.1L582.8 207.9L583.1 207.9L584.8 207.7L586.8 207.5L588.8 207.2L590.8 207.0L592.8 206.7L594.8 206.4L596.8 206.1L598.3 205.9L598.8 205.8L600.8 205.5L602.8 205.2L604.8 205.0L606.8 204.7L608.8 204.5L610.8 204.3L612.8 204.1L614.8 203.9L614.9 203.9L616.8 203.8L618.8 203.6L620.8 203.5L622.8 203.3L624.8 203.1L626.8 202.9L628.8 202.7L630.8 202.4L632.8 202.1L634.3 201.9L634.8 201.8L636.8 201.5L638.8 201.2L640.8 200.9L642.8 200.7L644.8 200.5L646.8 200.3L648.8 200.2L650.8 200.1L652.8 200.1L654.8 200.2L656.8 200.3L658.8 200.5L660.8 200.6L662.8 200.9L664.8 201.1L666.8 201.4L668.8 201.7L670.3 201.9L670.8 202.0L672.8 202.3L674.8 202.6L676.8 202.9L678.8 203.2L680.8 203.5L682.8 203.7L684.7 203.9L684.8 203.9L686.8 204.1L688.8 204.2L690.8 204.3L692.8 204.4L694.8 204.4L696.8 204.4L698.8 204.4L700.8 204.5L702.8 204.6L704.8 204.8L706.8 205.0L708.8 205.2L710.8 205.4L712.8 205.6L714.8 205.9L715.4 205.9L716.8 206.0L718.8 206.2L720.8 206.4L722.8 206.6L724.8 206.8L726.8 207.0L728.8 207.2L730.8 207.4L732.8 207.6L734.8 207.7L736.8 207.7L738.8 207.8L739.5 207.9L740.8 208.0L742.8 208.1L744.8 208.2L744.8 209.9L744.8 211.9L744.8 213.9L744.8 215.9L744.8 217.9L744.8 219.9L744.8 221.9L744.8 223.9L744.8 225.9L744.8 227.9L744.8 229.9L744.8 231.9L744.8 233.9L744.8 235.9L744.8 237.9L744.8 239.9L744.8 241.9L744.8 243.9L744.8 245.9L744.8 247.9L744.8 249.9L744.8 251.9L744.8 253.9L744.8 255.9L744.8 257.9L744.8 259.9L744.8 261.9L744.8 263.9L744.8 265.9L744.8 267.9L744.8 269.9L744.8 271.9L744.8 273.9L744.8 275.9L744.8 277.9L744.8 279.9L744.8 281.9L744.8 283.9L744.8 285.9L744.8 287.9L744.8 289.9L744.8 291.9L744.8 293.9L744.8 295.9L744.8 297.9L744.8 299.9L744.8 301.9L744.8 303.9L744.8 305.9L744.8 307.9L744.8 309.9L744.8 311.9L744.8 313.9L744.8 315.9L744.8 317.9L744.8 319.9L744.8 321.9L744.8 323.9L744.8 325.9L744.8 327.9L744.8 329.9L744.8 331.9L744.8 333.9L744.8 335.9L744.8 337.9L744.8 339.9L744.8 341.9L744.8 343.9L744.8 345.9L744.8 347.9L744.8 349.9L744.8 351.8L742.9 351.9L742.8 351.9L740.8 351.9L740.6 351.9L738.8 351.9L736.8 351.8L734.8 351.8L732.8 351.7L730.8 351.7L728.8 351.6L726.8 351.6L724.8 351.5L722.8 351.5L720.8 351.5L718.8 351.4L716.8 351.4L714.8 351.4L712.8 351.4L710.8 351.3L708.8 351.3L706.8 351.3L704.8 351.3L702.8 351.3L700.8 351.2L698.8 351.2L696.8 351.2L694.8 351.2L692.8 351.1L690.8 351.1L688.8 351.1L686.8 351.1L684.8 351.0L682.8 351.0L680.8 351.0L678.8 351.0L676.8 351.0L674.8 350.9L672.8 350.9L670.8 350.9L668.8 350.9L666.8 350.8L664.8 350.8L662.8 350.7L660.8 350.6L658.8 350.6L656.8 350.5L654.8 350.5L652.8 350.4L650.8 350.3L648.8 350.2L646.8 350.2L644.8 350.1L642.8 350.0L640.8 350.0L639.6 349.9L638.8 349.9L636.8 349.6L634.8 349.3L632.8 349.0L630.8 348.8L628.8 348.5L626.8 348.3L624.8 348.1L623.6 347.9L622.8 347.8L620.8 347.3L618.8 346.6L616.8 346.2L614.8 346.5L612.8 346.5L610.8 346.1L610.1 345.9L608.8 345.5L606.8 344.8L604.8 344.1L604.0 343.9L602.8 343.6L600.8 343.1L598.8 342.8L596.8 342.4L594.8 342.1L592.8 341.9L592.8 341.9L590.8 341.7L588.8 341.6L586.8 341.5L584.8 341.3L582.8 341.2L580.8 341.0L578.8 340.8L576.8 340.6L574.8 340.5L572.8 340.3L570.8 340.1L569.2 339.9L568.8 339.9L566.8 339.7L564.8 339.6L562.8 339.6L560.8 339.7L558.8 339.7L556.8 339.7L554.8 339.7L552.8 339.7L550.8 339.7L548.8 339.7L546.8 339.8L544.8 339.8L542.8 339.9L542.6 339.9L540.8 340.0L538.8 340.0L536.8 340.1L534.8 340.2L532.8 340.3L530.8 340.4L528.8 340.5L526.8 340.5L524.8 340.6L522.8 340.7L520.8 340.7L518.8 340.8L516.8 340.8L514.8 340.9L512.8 340.9L510.8 340.9L508.8 340.9L506.8 340.9L504.8 340.9L502.8 340.9L500.8 340.8L498.8 340.8L496.8 340.7L494.8 340.7L492.8 340.7L490.8 340.6L488.8 340.6L486.8 340.6L484.8 340.6L482.8 340.5L480.8 340.5L478.8 340.5L476.8 340.5L474.8 340.5L472.8 340.4L470.8 340.4L468.8 340.3L466.8 340.3L464.8 340.2L462.8 340.2L460.8 340.1L458.8 340.0L456.8 340.0L455.2 339.9L454.8 339.9L452.8 339.8L450.8 339.7L448.8 339.6L446.8 339.5L444.8 339.5L442.8 339.4L440.8 339.3L438.8 339.2L436.8 339.1L434.8 339.1L432.8 339.0L430.8 338.9L428.8 338.9L426.8 338.8L424.8 338.8L422.8 338.7L420.8 338.7L418.8 338.7L416.8 338.7L414.8 338.7L412.8 338.7L410.8 338.7L408.8 338.8L406.8 338.8L404.8 338.9L402.8 339.0L400.8 339.1L398.8 339.2L396.8 339.4L394.8 339.5L392.8 339.7L390.8 339.9L390.5 339.9L388.8 340.1L386.8 340.3L384.8 340.5L382.8 340.8L380.8 341.1L378.8 341.4L376.8 341.6L375.2 341.9L374.8 342.0L372.8 342.3L370.8 342.6L368.8 342.9L366.8 343.3L364.8 343.6L363.4 343.9L362.8 344.0L360.8 344.4L358.8 344.7L356.8 345.1L354.8 345.4L352.8 345.8L352.2 345.9L350.8 346.1L348.8 346.5L346.8 346.8L344.8 347.0L342.8 347.1L340.8 347.3L338.8 347.4L336.8 347.6L334.8 347.7L332.8 347.8L332.0 347.9L330.8 348.0L328.8 348.1L326.8 348.2L324.8 348.3L322.8 348.4L320.8 348.6L318.8 348.7L316.8 348.8L314.8 348.9L312.8 349.1L310.8 349.3L308.8 349.4L306.8 349.6L304.8 349.9L304.4 349.9L302.8 350.0L300.8 350.3L298.8 350.4L296.8 350.5L294.8 350.6L292.8 350.7L290.8 350.9L288.8 351.0L286.8 351.1L284.8 351.2L282.8 351.4L280.8 351.5L278.8 351.6L276.8 351.7L274.8 351.9L274.4 351.9L272.8 352.0L270.8 352.2L268.8 352.3L266.8 352.4L264.8 352.6L262.8 352.7L260.8 352.9L258.8 353.0L256.8 353.1L254.8 353.3L252.8 353.5L250.8 353.8L250.2 353.9L248.8 354.2L246.8 354.7L244.8 355.1L242.8 355.3L240.8 355.4L238.8 355.5L236.8 355.5L234.8 355.4L232.8 355.4L230.8 355.3L228.8 355.3L226.8 355.2L224.8 355.1L222.8 355.1L220.8 355.0L218.8 354.9L216.8 354.9L214.8 354.8L212.8 354.8L210.8 354.7L208.8 354.7L206.8 354.6L204.8 354.5L202.8 354.5L200.8 354.4L198.8 354.3L196.8 354.3L194.8 354.2L192.8 354.1L190.8 354.0L188.8 354.0L187.0 353.9L186.8 353.9L184.8 353.8L182.8 353.8L180.8 353.7L178.8 353.6L176.8 353.5L174.8 353.5L172.8 353.4L170.8 353.3L168.8 353.2L166.8 353.2L164.8 353.1L162.8 353.0L160.8 353.0L158.8 352.9L156.8 352.8L154.8 352.7L152.8 352.7L150.8 352.6L148.8 352.5L146.8 352.5L144.8 352.4L142.8 352.3L140.8 352.2L138.8 352.2L136.8 352.1L134.8 352.0L132.8 351.9L131.9 351.9L130.8 351.9L128.8 351.8L126.8 351.7L124.8 351.6L122.8 351.6L120.8 351.5L118.8 351.4L116.8 351.4L114.8 351.3L112.8 351.2L110.8 351.1L108.8 351.1L106.8 351.0L104.8 350.9L102.8 350.9L100.8 350.8L98.8 350.7L96.8 350.6L94.8 350.5L92.8 350.6L90.8 350.7L88.8 350.8L86.8 350.9L84.8 351.1L82.8 351.3L80.8 351.4L80.8 349.9L80.8 347.9L80.8 345.9L80.8 343.9L80.8 341.9L80.8 339.9L80.8 337.9L80.8 335.9L80.8 333.9L80.8 331.9L80.8 329.9L80.8 327.9L80.8 325.9L80.8 323.9L80.8 321.9L80.8 319.9L80.8 317.9L80.8 315.9L80.8 313.9L80.8 311.9L80.8 309.9L80.8 307.9L80.8 305.9L80.8 303.9L80.8 301.9L80.8 299.9L80.8 297.9L80.8 295.9L80.8 293.9L80.8 291.9L80.8 289.9L80.8 287.9L80.8 285.9L80.8 283.9L80.8 281.9L80.8 279.9L80.8 277.9L80.8 275.9L80.8 273.9L80.8 271.9L80.8 269.9L80.8 267.9L80.8 265.9L80.8 263.9L80.8 261.9L80.8 259.9L80.8 257.9L80.8 255.9L80.8 253.9L80.8 251.9L80.8 249.9L80.8 247.9L80.8 245.9L80.8 243.9L80.8 241.9L80.8 239.9L80.8 237.9L80.8 235.9L80.8 233.9L80.8 231.9L80.8 229.9L80.8 227.9L80.8 225.9L80.8 223.9L80.8 221.9L80.8 219.9L80.8 217.9L80.8 215.9L80.8 213.9L80.8 211.9L80.8 210.5L82.8 210.5L84.8 210.4L86.8 210.4L88.8 210.5L90.8 210.5L92.8 210.4L94.8 210.5L96.8 210.5L98.8 210.4L100.8 210.4L102.8 210.5L104.8 210.5L106.8 210.4L108.8 210.4L110.8 210.4L112.8 210.3L114.8 210.3L116.8 210.3L118.8 210.2L120.8 210.2L122.8 210.2L124.8 210.2L126.8 210.1L128.8 210.2L130.8 210.1L132.8 210.0L134.8 210.1L136.8 210.0L138.8 209.9L140.8 210.0L142.8 209.9L143.6 209.9L144.8 209.9L146.8 209.9L148.8 209.8L150.8 209.7L152.8 209.8L154.8 209.8L156.8 209.8L158.6 209.9L158.8 209.9L160.8 210.0L162.8 210.0L164.8 210.1L166.8 210.2L168.8 210.3L170.8 210.3L172.8 210.4L174.8 210.5L176.8 210.5L178.8 210.6L180.8 210.7L182.8 210.7L184.8 210.8L186.8 210.9L188.8 211.0L190.8 211.0L192.8 211.1L194.8 211.2L196.8 211.2L198.8 211.3L200.8 211.4L202.8 211.5L204.8 211.5L206.8 211.4L208.8 211.4L210.8 211.3L212.8 211.3L214.8 211.2L216.8 211.2L218.8 211.1L220.8 211.1L222.8 211.0L224.8 211.0L226.8 210.9L228.8 210.9L230.8 210.8L232.8 210.8L234.8 210.7L236.8 210.7L238.8 210.6L240.8 210.6L242.8 210.8L244.8 211.1L246.8 211.6L248.8 211.8L249.5 211.9L250.8 212.1L252.8 211.9L254.8 212.0L256.8 212.3L258.8 212.5L260.8 212.5L262.8 212.8L264.8 213.1L266.8 212.8L268.8 213.3L270.8 213.6L272.8 213.5L274.8 213.3L276.7 213.9L276.8 213.9L278.8 214.0L280.8 214.6L282.1 215.9L282.8 216.0L284.8 216.6L286.8 217.1L288.8 217.6L290.8 217.6L291.1 217.9L292.8 218.3L294.8 219.2L295.6 219.9L296.8 220.5L298.8 221.5L299.4 221.9L300.8 222.6L302.8 223.7L303.2 223.9L304.8 224.5L306.8 225.1L308.2 225.9L308.8 226.3L310.7 227.9L310.8 228.0L312.8 228.9L314.8 229.6L316.3 229.9L316.8 230.0L318.8 230.2L320.8 230.2L322.8 230.0L323.8 229.9L324.8 229.7L326.8 229.2L328.8 228.6L330.7 227.9L330.8 227.9L332.8 226.9L334.8 225.9L334.9 225.9L336.8 224.8L338.3 223.9L338.8 223.6L340.8 222.3L341.4 221.9L342.8 221.0L344.4 219.9L344.8 219.6L346.8 218.3L347.3 217.9L348.8 216.9L350.4 215.9L350.8 215.6L352.8 214.4L353.6 213.9L354.8 213.2L356.8 212.1L357.1 211.9L358.8 211.0L360.8 210.0L361.1 209.9L362.8 209.1L364.8 208.2L365.6 207.9L366.8 207.4L368.8 206.7L370.8 206.0L371.0 205.9L372.8 205.3L374.8 204.7L376.8 204.2L377.8 203.9L378.8 203.6L380.8 203.2L382.8 202.8L384.8 202.4L386.8 202.0L387.7 201.9L388.8 201.7L390.8 201.5L392.8 201.3L394.8 201.1L396.8 200.9L398.8 200.8L400.8 200.7L402.8 200.7L404.8 200.6L406.8 200.6L408.8 200.5L410.8 200.4L412.8 200.3L414.8 200.2L416.8 200.0L417.8 199.9L418.8 199.8L420.8 199.5L422.8 199.2L424.8 198.9L426.8 198.4L428.8 198.0L429.1 197.9L430.8 197.5L432.8 196.9L434.8 196.3L436.3 195.9L436.8 195.7L438.8 195.1L440.8 194.5L442.5 193.9L442.8 193.8L444.8 193.2L446.8 192.6L448.8 192.0L449.0 191.9L450.8 191.4L452.8 190.8L454.8 190.3L456.6 189.9L456.8 189.9L458.8 189.4L460.8 189.0L462.8 188.7L464.8 188.4L466.8 188.1L468.8 187.9Z"/><path fill-rule="evenodd" fill="#00d8b0" d="M462.8 193.8L464.8 193.6L466.8 193.3L468.8 193.2L470.8 193.0L472.8 192.9L474.8 192.9L476.8 192.9L478.8 192.9L480.8 193.0L482.8 193.1L484.8 193.2L486.8 193.4L488.8 193.7L490.3 193.9L490.8 194.0L492.8 194.3L494.8 194.7L496.8 195.1L498.8 195.6L500.2 195.9L500.8 196.1L502.8 196.6L504.8 197.2L506.8 197.8L507.1 197.9L508.8 198.4L510.8 199.1L512.8 199.8L513.1 199.9L514.8 200.5L516.8 201.2L518.7 201.9L518.8 201.9L520.8 202.7L522.8 203.4L524.0 203.9L524.8 204.2L526.8 205.0L528.8 205.8L529.0 205.9L530.8 206.5L532.8 207.0L534.8 207.5L536.6 207.9L536.8 207.9L538.8 208.4L540.8 208.6L542.8 208.5L544.8 208.5L546.8 208.1L548.1 207.9L548.8 207.8L550.8 207.6L552.8 207.7L554.1 207.9L554.8 208.0L556.8 208.3L558.8 208.2L560.8 208.3L562.8 208.7L564.8 209.4L566.1 209.9L566.8 210.2L568.8 210.9L570.8 211.6L571.6 211.9L572.8 212.2L574.8 212.6L576.8 212.7L578.8 212.6L580.8 212.4L582.8 212.2L584.8 212.0L586.3 211.9L586.8 211.9L588.8 211.7L590.8 211.4L592.8 211.2L594.8 211.0L596.8 210.7L598.8 210.4L600.8 210.2L602.5 209.9L602.8 209.9L604.8 209.6L606.8 209.3L608.8 209.0L610.8 208.7L612.8 208.4L614.8 208.1L616.4 207.9L616.8 207.9L618.8 207.6L620.8 207.3L622.8 207.0L624.8 206.7L626.8 206.4L628.8 206.0L629.6 205.9L630.8 205.7L632.8 205.3L634.8 205.0L636.8 204.6L638.8 204.2L640.8 203.9L640.8 203.9L642.8 203.6L644.8 203.4L646.8 203.3L648.8 203.2L650.8 203.2L652.8 203.2L654.8 203.4L656.8 203.5L658.8 203.7L660.6 203.9L660.8 203.9L662.8 204.2L664.8 204.5L666.8 204.8L668.8 205.1L670.8 205.4L672.8 205.7L674.1 205.9L674.8 206.0L676.8 206.3L678.8 206.6L680.8 206.8L682.8 207.0L684.8 207.1L686.8 207.2L688.8 207.2L690.8 207.1L692.8 207.0L694.8 206.8L696.8 206.5L698.8 206.2L700.8 206.0L702.8 206.0L704.8 206.2L706.8 206.5L708.8 206.7L710.8 206.9L712.8 207.1L714.8 207.2L716.8 207.5L718.8 207.6L720.8 207.8L721.8 207.9L722.8 208.0L724.8 208.3L726.8 208.5L728.8 208.7L730.8 208.9L732.8 209.0L734.8 209.2L736.8 209.4L738.8 209.4L740.8 209.4L742.8 209.5L744.7 209.9L744.8 209.9L744.8 211.9L744.8 213.9L744.8 215.9L744.8 217.9L744.8 219.9L744.8 221.9L744.8 223.9L744.8 225.9L744.8 227.9L744.8 229.9L744.8 231.9L744.8 233.9L744.8 235.9L744.8 237.9L744.8 239.9L744.8 241.9L744.8 243.9L744.8 245.9L744.8 247.9L744.8 249.9L744.8 251.9L744.8 253.9L744.8 255.9L744.8 257.9L744.8 259.9L744.8 261.9L744.8 263.9L744.8 265.9L744.8 267.9L744.8 269.9L744.8 271.9L744.8 273.9L744.8 275.9L744.8 277.9L744.8 279.9L744.8 281.9L744.8 283.9L744.8 285.9L744.8 287.9L744.8 289.9L744.8 291.9L744.8 293.9L744.8 295.9L744.8 297.9L744.8 299.9L744.8 301.9L744.8 303.9L744.8 305.9L744.8 307.9L744.8 309.9L744.8 311.9L744.8 313.9L744.8 315.9L744.8 317.9L744.8 319.9L744.8 321.9L744.8 323.9L744.8 325.9L744.8 327.9L744.8 329.9L744.8 331.9L744.8 333.9L744.8 335.9L744.8 337.9L744.8 339.9L744.8 341.9L744.8 343.9L744.8 344.1L743.8 343.9L742.8 343.7L740.8 343.5L738.8 343.5L736.8 343.4L734.8 343.4L732.8 343.4L730.8 343.3L728.8 343.3L726.8 343.3L724.8 343.2L722.8 343.2L720.8 343.1L718.8 343.1L716.8 343.0L714.8 343.0L712.8 342.9L710.8 342.9L708.8 342.8L706.8 342.8L704.8 342.7L702.8 342.7L700.8 342.6L698.8 342.6L696.8 342.5L694.8 342.5L692.8 342.4L690.8 342.3L688.8 342.3L686.8 342.2L684.8 342.2L682.8 342.1L680.8 342.1L678.8 342.0L676.8 342.0L675.3 341.9L674.8 341.9L672.8 341.9L670.8 341.8L668.8 341.8L666.8 341.7L664.8 341.7L662.8 341.6L660.8 341.6L658.8 341.6L656.8 341.5L654.8 341.5L652.8 341.5L650.8 341.4L648.8 341.4L646.8 341.3L644.8 341.3L642.8 341.3L640.8 341.2L638.8 341.2L636.8 341.1L634.8 341.1L632.8 341.1L630.8 341.0L628.8 341.0L626.8 341.0L624.8 340.9L622.8 340.8L620.8 340.4L619.2 339.9L618.8 339.7L616.8 339.6L614.9 339.9L614.8 339.9L614.3 339.9L612.8 339.9L610.8 339.7L608.8 339.4L606.8 339.1L604.8 338.8L602.8 338.5L600.8 338.3L598.8 338.0L598.3 337.9L596.8 337.7L594.8 337.5L592.8 337.2L590.8 337.0L588.8 336.8L586.8 336.6L584.8 336.4L582.8 336.2L580.8 335.9L580.5 335.9L578.8 335.7L576.8 335.5L574.8 335.4L572.8 335.3L570.8 335.2L568.8 335.3L566.8 335.3L564.8 335.1L562.8 334.8L560.8 334.4L558.8 334.1L556.8 333.9L556.8 333.9L554.8 333.7L552.8 333.5L550.8 333.4L548.8 333.3L546.8 333.2L544.8 333.1L542.8 333.1L540.8 333.1L538.8 333.1L536.8 333.1L534.8 333.1L532.8 333.1L530.8 333.1L528.8 333.1L526.8 333.2L524.8 333.2L522.8 333.2L520.8 333.2L518.8 333.2L516.8 333.2L514.8 333.2L512.8 333.2L510.8 333.2L508.8 333.1L506.8 333.1L504.8 333.0L502.8 333.0L500.8 332.9L498.8 332.8L496.8 332.7L494.8 332.6L492.8 332.5L490.8 332.5L488.8 332.4L486.8 332.4L484.8 332.4L482.8 332.3L480.8 332.3L478.8 332.3L476.8 332.3L474.8 332.2L472.8 332.2L470.8 332.1L468.8 332.0L466.8 332.0L465.1 331.9L464.8 331.9L462.8 331.8L460.8 331.7L458.8 331.7L456.8 331.6L454.8 331.5L452.8 331.4L450.8 331.3L448.8 331.2L446.8 331.2L444.8 331.1L442.8 331.0L440.8 330.9L438.8 330.9L436.8 330.8L434.8 330.7L432.8 330.7L430.8 330.6L428.8 330.6L426.8 330.5L424.8 330.5L422.8 330.5L420.8 330.5L418.8 330.5L416.8 330.5L414.8 330.5L412.8 330.5L410.8 330.6L408.8 330.6L406.8 330.7L404.8 330.8L402.8 330.9L400.8 331.0L398.8 331.1L396.8 331.2L394.8 331.4L392.8 331.6L390.8 331.8L389.4 331.9L388.8 332.0L386.8 332.2L384.8 332.4L382.8 332.7L380.8 332.9L378.8 333.2L376.8 333.5L374.8 333.8L374.0 333.9L372.8 334.1L370.8 334.4L368.8 334.7L366.8 335.1L364.8 335.4L362.8 335.8L362.0 335.9L360.8 336.1L358.8 336.5L356.8 336.8L354.8 337.2L352.8 337.5L350.8 337.9L350.7 337.9L348.8 338.2L346.8 338.4L344.8 338.6L342.8 338.8L340.8 338.8L338.8 338.7L336.8 338.6L334.8 338.4L332.8 338.0L332.5 337.9L330.8 337.4L328.8 336.5L327.6 335.9L326.8 335.4L324.8 334.0L324.7 333.9L322.8 332.4L322.1 331.9L320.8 331.0L318.8 329.9L318.7 329.9L316.8 329.4L314.8 329.2L312.8 329.7L312.6 329.9L310.8 331.5L310.6 331.9L309.6 333.9L308.8 335.6L308.7 335.9L307.4 337.9L306.8 338.6L305.3 339.9L304.8 340.4L302.8 340.4L302.4 339.9L300.8 339.1L298.8 339.0L297.3 339.9L296.8 341.5L296.6 341.9L296.7 343.9L294.8 344.9L292.8 345.3L290.8 345.6L288.8 345.9L288.4 345.9L286.8 346.0L284.8 346.2L282.8 346.4L280.8 346.6L278.8 346.7L276.8 346.9L274.8 347.1L272.8 347.3L270.8 347.4L268.8 347.6L266.8 347.8L265.3 347.9L264.8 347.9L262.8 348.1L260.8 348.3L258.8 348.4L256.8 348.6L254.8 348.7L252.8 348.9L250.8 349.1L248.8 349.3L246.8 349.5L244.8 349.7L242.8 349.9L242.8 349.9L240.8 350.0L238.8 350.1L236.8 350.1L234.8 350.1L232.8 350.1L230.8 350.0L228.8 350.0L227.0 349.9L226.8 349.9L224.8 349.8L222.8 349.8L220.8 349.7L218.8 349.6L216.8 349.6L214.8 349.5L212.8 349.5L210.8 349.5L208.8 349.5L206.8 349.5L204.8 349.5L202.8 349.5L200.8 349.4L198.8 349.3L196.8 349.2L194.8 349.1L192.8 349.0L190.8 349.0L188.8 348.9L186.8 348.8L184.8 348.7L182.8 348.6L180.8 348.6L178.8 348.5L176.8 348.4L174.8 348.3L172.8 348.2L170.8 348.2L168.8 348.1L166.8 348.0L164.8 347.9L164.4 347.9L162.8 347.8L160.8 347.8L158.8 347.7L156.8 347.6L154.8 347.5L152.8 347.4L150.8 347.4L148.8 347.3L146.8 347.2L144.8 347.1L142.8 347.0L140.8 347.0L138.8 346.9L136.8 346.8L134.8 346.7L132.8 346.6L130.8 346.5L128.8 346.5L126.8 346.4L124.8 346.3L122.8 346.2L120.8 346.1L118.8 346.0L116.8 346.0L115.2 345.9L114.8 345.9L112.8 345.8L110.8 345.7L108.8 345.6L106.8 345.6L104.8 345.5L102.8 345.4L100.8 345.3L98.8 345.2L96.8 345.1L94.8 345.1L92.8 345.1L90.8 345.2L88.8 345.3L86.8 345.4L84.8 345.6L82.8 345.7L80.8 345.9L80.8 343.9L80.8 341.9L80.8 339.9L80.8 337.9L80.8 335.9L80.8 333.9L80.8 331.9L80.8 329.9L80.8 327.9L80.8 325.9L80.8 323.9L80.8 321.9L80.8 319.9L80.8 317.9L80.8 315.9L80.8 313.9L80.8 311.9L80.8 309.9L80.8 307.9L80.8 305.9L80.8 303.9L80.8 301.9L80.8 299.9L80.8 297.9L80.8 295.9L80.8 293.9L80.8 291.9L80.8 289.9L80.8 287.9L80.8 285.9L80.8 283.9L80.8 281.9L80.8 279.9L80.8 277.9L80.8 275.9L80.8 273.9L80.8 271.9L80.8 269.9L80.8 267.9L80.8 265.9L80.8 263.9L80.8 261.9L80.8 259.9L80.8 257.9L80.8 255.9L80.8 253.9L80.8 251.9L80.8 249.9L80.8 247.9L80.8 245.9L80.8 243.9L80.8 241.9L80.8 239.9L80.8 237.9L80.8 235.9L80.8 233.9L80.8 231.9L80.8 229.9L80.8 227.9L80.8 225.9L80.8 223.9L80.8 221.9L80.8 219.9L80.8 217.9L80.8 215.9L80.8 213.9L80.8 212.7L82.8 212.5L84.8 212.5L86.8 212.5L88.8 212.5L90.8 212.6L92.8 212.6L94.8 212.6L96.8 212.6L98.8 212.6L100.8 212.6L102.8 212.6L104.8 212.5L106.8 212.5L108.8 212.5L110.8 212.5L112.8 212.5L114.8 212.5L116.8 212.4L118.8 212.4L120.8 212.4L122.8 212.4L124.8 212.4L126.8 212.3L128.8 212.3L130.8 212.3L132.8 212.3L134.8 212.3L136.8 212.2L138.8 212.2L140.8 212.2L142.8 212.2L144.8 212.2L146.8 212.2L148.8 212.1L150.8 212.1L152.8 212.1L154.8 212.1L156.8 212.2L158.8 212.4L160.8 212.5L162.8 212.6L164.8 212.7L166.8 212.8L168.8 213.0L170.8 213.1L172.8 213.2L174.8 213.3L176.8 213.4L178.8 213.5L180.8 213.7L182.8 213.8L184.8 213.9L185.2 213.9L186.8 214.0L188.8 214.1L190.8 214.3L192.8 214.4L194.8 214.5L196.8 214.6L198.8 214.7L200.8 214.9L202.8 215.0L204.8 215.1L206.8 215.1L208.8 215.1L210.8 215.2L212.8 215.2L214.8 215.2L216.8 215.3L218.8 215.3L220.8 215.4L222.8 215.4L224.8 215.4L226.8 215.5L228.8 215.5L230.8 215.6L232.8 215.6L234.8 215.6L236.8 215.7L238.8 215.7L240.8 215.8L241.9 215.9L242.8 216.0L244.8 216.2L246.8 216.3L248.8 216.4L250.8 216.5L252.8 216.5L254.8 216.7L256.8 217.4L258.2 217.9L258.8 218.1L260.8 218.9L262.8 219.6L263.6 219.9L264.8 220.4L266.8 221.0L268.8 221.7L269.6 221.9L270.8 222.2L272.8 222.6L274.8 222.9L276.8 223.2L278.8 223.4L280.8 223.6L282.8 223.7L284.8 223.6L286.8 223.4L288.8 223.0L290.8 222.5L292.8 222.8L294.8 223.8L294.9 223.9L296.8 225.1L298.1 225.9L298.8 226.2L300.8 226.5L302.8 226.7L304.8 227.0L306.8 227.5L307.3 227.9L308.8 229.3L309.5 229.9L310.8 231.1L312.1 231.9L312.8 232.4L314.8 233.3L316.6 233.9L316.8 234.0L318.8 234.4L320.8 234.7L322.8 234.8L324.8 234.7L326.8 234.5L328.8 234.2L330.1 233.9L330.8 233.7L332.8 233.2L334.8 232.5L336.2 231.9L336.8 231.7L338.8 230.7L340.5 229.9L340.8 229.7L342.8 228.6L344.0 227.9L344.8 227.4L346.8 226.1L347.2 225.9L348.8 224.8L350.2 223.9L350.8 223.5L352.8 222.2L353.2 221.9L354.8 220.8L356.2 219.9L356.8 219.5L358.8 218.3L359.4 217.9L360.8 217.1L362.8 215.9L362.8 215.9L364.8 214.8L366.6 213.9L366.8 213.8L368.8 212.9L370.8 212.0L371.0 211.9L372.8 211.1L374.8 210.4L376.1 209.9L376.8 209.7L378.8 209.0L380.8 208.4L382.6 207.9L382.8 207.9L384.8 207.4L386.8 206.9L388.8 206.5L390.8 206.2L392.7 205.9L392.8 205.9L394.8 205.6L396.8 205.4L398.8 205.2L400.8 205.1L402.8 205.0L404.8 204.8L406.8 204.7L408.8 204.6L410.8 204.5L412.8 204.4L414.8 204.3L416.8 204.1L418.8 203.9L419.2 203.9L420.8 203.7L422.8 203.5L424.8 203.1L426.8 202.8L428.8 202.4L430.8 201.9L430.9 201.9L432.8 201.4L434.8 200.9L436.8 200.4L438.4 199.9L438.8 199.8L440.8 199.2L442.8 198.6L444.8 198.0L445.2 197.9L446.8 197.4L448.8 196.9L450.8 196.3L452.5 195.9L452.8 195.8L454.8 195.4L456.8 194.9L458.8 194.5L460.8 194.2L462.4 193.9Z"/><path fill-rule="evenodd" fill="#00d878" d="M458.8 199.8L460.8 199.4L462.8 199.2L464.8 198.9L466.8 198.8L468.8 198.6L470.8 198.5L472.8 198.5L474.8 198.4L476.8 198.5L478.8 198.5L480.8 198.6L482.8 198.7L484.8 198.9L486.8 199.1L488.8 199.4L490.8 199.6L492.5 199.9L492.8 200.0L494.8 200.3L496.8 200.7L498.8 201.1L500.8 201.6L501.9 201.9L502.8 202.1L504.8 202.7L506.8 203.2L508.8 203.8L509.1 203.9L510.8 204.4L512.8 205.0L514.8 205.5L516.1 205.9L516.8 206.1L518.8 206.6L520.8 207.1L522.8 207.6L523.8 207.9L524.8 208.2L526.8 208.8L528.8 209.4L530.8 209.8L531.3 209.9L532.8 210.0L534.8 210.3L536.8 210.5L538.8 210.8L540.8 211.0L542.8 211.4L543.8 211.9L544.8 212.2L546.8 211.9L548.8 212.1L550.8 212.3L552.8 212.2L554.8 212.4L556.8 212.7L558.8 212.4L560.8 212.3L562.8 212.7L564.8 213.4L566.2 213.9L566.8 214.1L568.8 214.7L570.8 215.3L572.6 215.9L572.8 216.0L574.8 216.4L576.8 216.5L578.8 216.4L580.8 216.3L582.8 216.3L584.8 216.2L586.8 216.2L588.8 216.1L590.8 216.0L592.3 215.9L592.8 215.9L594.8 215.7L596.8 215.5L598.8 215.3L600.8 215.0L602.8 214.7L604.8 214.4L606.8 214.0L607.6 213.9L608.8 213.7L610.8 213.3L612.8 213.0L614.8 212.6L616.8 212.2L618.5 211.9L618.8 211.8L620.8 211.5L622.8 211.0L624.8 210.6L626.8 210.2L628.0 209.9L628.8 209.7L630.8 209.3L632.8 208.8L634.8 208.3L636.6 207.9L636.8 207.8L638.8 207.4L640.8 207.0L642.8 206.7L644.8 206.5L646.8 206.4L648.8 206.3L650.8 206.4L652.8 206.5L654.8 206.7L656.8 207.0L658.8 207.2L660.8 207.5L662.8 207.8L663.5 207.9L664.8 208.1L666.8 208.5L668.8 208.8L670.8 209.1L672.8 209.5L674.8 209.8L675.6 209.9L676.8 210.1L678.8 210.4L680.8 210.6L682.8 210.7L684.8 210.8L686.8 210.8L688.8 210.7L690.8 210.5L692.8 210.1L693.6 209.9L694.8 209.7L696.8 209.2L698.8 208.5L700.5 207.9L700.8 207.8L702.8 207.7L704.7 207.9L704.8 207.9L706.8 208.1L708.8 208.3L710.8 208.7L712.8 208.8L714.8 209.0L716.8 209.3L718.8 209.4L720.8 209.5L722.8 209.8L724.8 209.8L725.6 209.9L726.8 210.0L728.8 210.5L730.8 210.6L732.8 210.8L734.8 211.2L736.8 211.4L738.8 211.4L740.8 211.3L742.8 211.5L744.1 211.9L744.8 212.3L744.8 213.9L744.8 215.9L744.8 217.9L744.8 219.9L744.8 221.9L744.8 223.9L744.8 225.9L744.8 227.9L744.8 229.9L744.8 231.9L744.8 233.9L744.8 235.9L744.8 237.9L744.8 239.9L744.8 241.9L744.8 243.9L744.8 245.9L744.8 247.9L744.8 249.9L744.8 251.9L744.8 253.9L744.8 255.9L744.8 257.9L744.8 259.9L744.8 261.9L744.8 263.9L744.8 265.9L744.8 267.9L744.8 269.9L744.8 271.9L744.8 273.9L744.8 275.9L744.8 277.9L744.8 279.9L744.8 281.9L744.8 283.9L744.8 285.9L744.8 287.9L744.8 289.9L744.8 291.9L744.8 293.9L744.8 295.9L744.8 297.9L744.8 299.9L744.8 301.9L744.8 303.9L744.8 305.9L744.8 307.9L744.8 309.9L744.8 311.9L744.8 313.9L744.8 315.9L744.8 317.9L744.8 319.9L744.8 321.9L744.8 323.9L744.8 325.9L744.8 327.9L744.8 329.9L744.8 331.9L744.8 333.9L744.8 335.9L744.8 337.9L744.8 338.8L742.8 338.7L740.8 338.7L738.8 338.6L736.8 338.5L734.8 338.4L732.8 338.4L730.8 338.3L728.8 338.2L726.8 338.1L724.8 338.1L722.8 338.0L720.8 337.9L720.1 337.9L718.8 337.8L716.8 337.8L714.8 337.7L712.8 337.6L710.8 337.5L708.8 337.5L706.8 337.4L704.8 337.3L702.8 337.2L700.8 337.2L698.8 337.1L696.8 337.0L694.8 336.9L692.8 336.9L690.8 336.8L688.8 336.7L686.8 336.7L684.8 336.6L682.8 336.5L680.8 336.4L678.8 336.4L676.8 336.3L674.8 336.2L672.8 336.1L670.8 336.1L668.8 336.0L666.8 336.0L664.8 335.9L662.8 335.9L660.8 335.9L658.8 335.9L656.8 335.9L654.8 335.9L652.8 335.9L650.8 335.9L648.8 335.9L646.8 335.9L644.8 335.9L642.8 335.9L640.9 335.9L640.8 335.9L640.7 335.9L638.8 335.9L637.4 335.9L636.8 335.9L636.1 335.9L634.8 335.9L633.6 335.9L632.8 335.9L632.2 335.9L630.8 335.9L628.8 335.9L626.8 335.9L624.8 335.9L624.7 335.9L622.8 335.7L620.8 335.0L618.8 334.4L616.8 334.3L614.8 335.2L612.8 335.7L610.8 335.7L608.8 335.4L606.8 335.1L604.8 334.8L602.8 334.5L600.8 334.2L598.8 333.9L598.6 333.9L596.8 333.6L594.8 333.3L592.8 332.9L590.8 332.5L588.8 332.1L588.0 331.9L586.8 331.6L584.8 331.1L582.8 330.7L580.8 330.3L578.8 330.0L578.4 329.9L576.8 329.7L574.8 329.4L572.8 329.1L570.8 328.9L568.8 328.6L566.8 328.3L564.8 328.0L563.8 327.9L562.8 327.8L560.8 327.5L558.8 327.2L556.8 326.9L554.8 326.7L552.8 326.5L550.8 326.3L548.8 326.2L546.8 326.0L544.8 325.9L544.5 325.9L542.8 325.8L540.8 325.7L538.8 325.7L536.8 325.6L534.8 325.6L532.8 325.6L530.8 325.5L528.8 325.5L526.8 325.5L524.8 325.5L522.8 325.4L520.8 325.4L518.8 325.4L516.8 325.4L514.8 325.3L512.8 325.3L510.8 325.2L508.8 325.2L506.8 325.2L504.8 325.1L502.8 325.1L500.8 325.0L498.8 324.9L496.8 324.8L494.8 324.7L492.8 324.6L490.8 324.5L488.8 324.4L486.8 324.4L484.8 324.3L482.8 324.3L480.8 324.2L478.8 324.0L476.8 323.9L476.2 323.9L474.8 323.8L472.8 323.7L470.8 323.6L468.8 323.5L466.8 323.3L464.8 323.2L462.8 323.1L460.8 323.0L458.8 322.9L456.8 322.9L454.8 322.8L452.8 322.7L450.8 322.6L448.8 322.5L446.8 322.4L444.8 322.4L442.8 322.3L440.8 322.2L438.8 322.2L436.8 322.1L434.8 322.0L432.8 322.0L430.8 321.9L428.8 321.9L428.7 321.9L426.8 321.9L424.8 321.8L422.8 321.8L420.8 321.8L418.8 321.8L416.8 321.8L414.8 321.8L412.8 321.9L410.8 321.9L410.6 321.9L408.8 321.9L406.8 322.0L404.8 322.1L402.8 322.2L400.8 322.3L398.8 322.4L396.8 322.5L394.8 322.7L392.8 322.8L390.8 323.0L388.8 323.2L386.8 323.4L384.8 323.6L382.8 323.8L382.0 323.9L380.8 324.0L378.8 324.3L376.8 324.5L374.8 324.7L372.8 325.0L370.8 325.3L368.8 325.5L366.8 325.8L365.7 325.9L364.8 326.0L362.8 326.3L360.8 326.5L358.8 326.7L356.8 326.9L354.8 327.0L352.8 327.1L350.8 327.2L348.8 327.2L346.8 327.0L344.8 326.8L342.8 326.5L340.8 326.0L340.3 325.9L338.8 325.4L336.8 324.7L334.9 323.9L334.8 323.9L332.8 323.0L330.8 322.0L330.6 321.9L328.8 321.1L326.8 320.2L325.9 319.9L324.8 319.5L322.8 318.9L320.8 318.4L318.8 318.1L316.8 318.1L314.8 318.3L312.8 318.5L310.8 318.7L308.8 319.0L306.8 319.3L304.8 319.6L303.3 319.9L302.8 320.1L300.8 321.3L300.3 321.9L300.8 322.3L301.4 323.9L302.3 325.9L302.8 327.0L303.0 327.9L303.4 329.9L303.6 331.9L303.2 333.9L302.8 334.3L300.8 334.3L299.3 333.9L298.8 333.7L296.8 333.0L294.8 332.4L292.9 331.9L292.8 331.8L290.8 330.9L288.8 330.4L288.1 331.9L286.8 333.8L286.8 333.9L285.4 335.9L284.8 336.5L283.5 337.9L282.8 338.3L280.8 339.6L280.2 339.9L278.8 340.5L276.8 341.2L274.8 341.8L274.2 341.9L272.8 342.2L270.8 342.5L268.8 342.7L266.8 342.9L264.8 343.1L262.8 343.3L260.8 343.5L258.8 343.7L257.3 343.9L256.8 343.9L254.8 344.1L252.8 344.3L250.8 344.4L248.8 344.5L246.8 344.6L244.8 344.7L242.8 344.7L240.8 344.7L238.8 344.7L236.8 344.7L234.8 344.6L232.8 344.5L230.8 344.4L228.8 344.4L226.8 344.3L224.8 344.2L222.8 344.1L220.8 344.1L218.8 344.0L217.4 343.9L216.8 343.9L214.8 343.8L212.8 343.7L210.8 343.7L208.8 343.7L206.8 343.8L204.8 343.9L202.8 343.9L200.8 343.8L198.8 343.7L196.8 343.6L194.8 343.5L192.8 343.5L190.8 343.4L188.8 343.4L186.8 343.3L184.8 343.3L182.8 343.2L180.8 343.1L178.8 343.1L176.8 343.0L174.8 343.0L172.8 342.9L170.8 342.9L168.8 342.8L166.8 342.7L164.8 342.6L162.8 342.5L160.8 342.5L158.8 342.4L156.8 342.3L154.8 342.3L152.8 342.2L150.8 342.2L148.8 342.1L146.8 342.0L144.8 342.0L142.8 342.0L141.3 341.9L140.8 341.9L138.8 341.8L136.8 341.8L134.8 341.7L132.8 341.6L130.8 341.6L128.8 341.5L126.8 341.5L124.8 341.4L122.8 341.3L120.8 341.3L118.8 341.2L116.8 341.2L114.8 341.1L112.8 341.1L110.8 341.0L108.8 340.9L106.8 340.9L104.8 340.8L102.8 340.8L100.8 340.7L98.8 340.7L96.8 340.6L94.8 340.5L92.8 340.5L90.8 340.4L88.8 340.4L86.8 340.4L84.8 340.5L82.8 340.6L80.8 340.7L80.8 339.9L80.8 337.9L80.8 335.9L80.8 333.9L80.8 331.9L80.8 329.9L80.8 327.9L80.8 325.9L80.8 323.9L80.8 321.9L80.8 319.9L80.8 317.9L80.8 315.9L80.8 313.9L80.8 311.9L80.8 309.9L80.8 307.9L80.8 305.9L80.8 303.9L80.8 301.9L80.8 299.9L80.8 297.9L80.8 295.9L80.8 293.9L80.8 291.9L80.8 289.9L80.8 287.9L80.8 285.9L80.8 283.9L80.8 281.9L80.8 279.9L80.8 277.9L80.8 275.9L80.8 273.9L80.8 271.9L80.8 269.9L80.8 267.9L80.8 265.9L80.8 263.9L80.8 261.9L80.8 259.9L80.8 257.9L80.8 255.9L80.8 253.9L80.8 251.9L80.8 249.9L80.8 247.9L80.8 245.9L80.8 243.9L80.8 241.9L80.8 239.9L80.8 237.9L80.8 235.9L80.8 233.9L80.8 231.9L80.8 229.9L80.8 227.9L80.8 225.9L80.8 223.9L80.8 221.9L80.8 219.9L80.8 217.9L80.8 215.9L80.8 215.3L82.8 214.9L84.8 215.0L86.8 215.0L88.8 214.9L90.8 215.0L92.8 215.0L94.8 215.0L96.8 214.9L98.8 215.0L100.8 215.0L102.8 214.9L104.8 214.9L106.8 214.9L108.8 214.9L110.8 214.9L112.8 214.9L114.8 214.9L116.8 214.8L118.8 214.9L120.8 214.9L122.8 214.8L124.8 214.9L126.8 214.9L128.8 214.8L130.8 214.9L132.8 214.9L134.8 214.8L136.8 214.8L138.8 214.9L140.8 214.8L142.8 214.8L144.8 214.9L146.8 214.8L148.8 214.8L150.8 214.8L152.8 214.8L154.8 214.9L156.8 215.1L158.8 215.2L160.8 215.4L162.8 215.6L164.8 215.7L166.8 215.8L167.3 215.9L168.8 216.1L170.8 216.3L172.8 216.5L174.8 216.7L176.8 216.9L178.8 217.0L180.8 217.2L182.8 217.4L184.8 217.5L186.8 217.7L188.8 217.9L189.2 217.9L190.8 218.0L192.8 218.2L194.8 218.4L196.8 218.6L198.8 218.8L200.8 219.0L202.8 219.1L204.8 219.3L206.8 219.4L208.8 219.5L210.8 219.6L212.8 219.7L214.8 219.8L215.9 219.9L216.8 220.0L218.8 220.1L220.8 220.2L222.8 220.3L224.8 220.4L226.8 220.6L228.8 220.7L230.8 220.8L232.8 221.0L234.8 221.0L236.8 221.2L238.8 221.3L240.8 221.4L242.8 221.5L244.8 221.6L246.8 221.6L248.8 221.6L250.8 221.5L252.8 221.5L254.8 221.7L255.4 221.9L256.8 222.4L258.8 223.3L260.1 223.9L260.8 224.3L262.8 225.3L264.1 225.9L264.8 226.3L266.8 227.3L268.2 227.9L268.8 228.2L270.8 228.6L272.8 228.9L274.8 229.0L276.8 229.1L278.8 229.3L280.8 229.4L282.8 229.5L284.8 229.6L286.8 229.7L288.8 229.7L290.8 229.7L292.8 229.7L294.8 229.6L296.8 229.6L298.8 229.7L300.8 229.5L302.8 229.4L304.8 229.7L305.3 229.9L306.8 231.0L307.6 231.9L308.8 233.3L309.5 233.9L310.8 235.2L311.9 235.9L312.8 236.6L314.8 237.6L315.7 237.9L316.8 238.3L318.8 238.8L320.8 239.2L322.8 239.4L324.8 239.6L326.8 239.6L328.8 239.4L330.8 239.2L332.8 238.9L334.8 238.5L336.8 237.9L336.9 237.9L338.8 237.3L340.8 236.5L342.2 235.9L342.8 235.6L344.8 234.7L346.3 233.9L346.8 233.6L348.8 232.4L349.7 231.9L350.8 231.2L352.8 229.9L352.8 229.9L354.8 228.6L355.8 227.9L356.8 227.2L358.7 225.9L358.8 225.8L360.8 224.5L361.6 223.9L362.8 223.1L364.7 221.9L364.8 221.8L366.8 220.6L368.0 219.9L368.8 219.4L370.8 218.3L371.6 217.9L372.8 217.3L374.8 216.3L375.7 215.9L376.8 215.4L378.8 214.6L380.7 213.9L380.8 213.8L382.8 213.2L384.8 212.5L386.8 212.0L387.1 211.9L388.8 211.5L390.8 211.0L392.8 210.6L394.8 210.3L396.8 210.0L397.6 209.9L398.8 209.7L400.8 209.5L402.8 209.4L404.8 209.2L406.8 209.1L408.8 208.9L410.8 208.8L412.8 208.7L414.8 208.6L416.8 208.5L418.8 208.3L420.8 208.1L422.8 207.9L422.8 207.9L424.8 207.6L426.8 207.4L428.8 207.0L430.8 206.6L432.8 206.2L434.1 205.9L434.8 205.7L436.8 205.2L438.8 204.7L440.8 204.1L441.6 203.9L442.8 203.6L444.8 203.0L446.8 202.5L448.8 201.9L448.9 201.9L450.8 201.4L452.8 201.0L454.8 200.5L456.8 200.1L458.0 199.9ZM249.6 285.9L248.8 286.0L246.8 286.1L244.8 286.2L242.8 286.3L240.8 286.4L238.8 286.6L236.8 286.8L234.8 287.0L232.8 287.2L230.8 287.4L228.8 287.7L226.8 287.8L224.9 287.9L226.8 288.1L228.8 288.4L230.8 289.0L232.7 289.9L232.8 289.9L234.8 290.3L236.8 290.7L238.8 291.4L240.1 291.9L240.8 292.0L242.8 292.6L244.8 293.4L246.1 293.9L246.8 294.2L248.8 294.9L250.8 295.6L251.7 295.9L252.8 296.4L254.8 297.5L255.7 297.9L256.8 298.7L258.8 299.8L259.2 299.9L260.8 301.0L262.8 301.9L262.9 301.9L264.8 303.2L266.6 303.9L266.8 304.2L268.8 305.1L270.8 304.9L272.8 304.6L274.8 304.4L276.8 305.6L276.9 305.9L277.0 307.9L277.0 309.9L277.7 311.9L278.8 313.1L279.9 313.9L280.8 315.1L281.9 315.9L282.8 317.3L284.8 317.9L284.9 317.9L284.8 317.9L282.8 318.4L280.8 318.3L278.8 318.3L277.9 319.9L278.8 320.7L279.7 321.9L280.8 322.8L281.9 323.9L282.8 324.7L284.2 325.9L284.8 326.5L286.8 327.9L286.8 327.9L286.9 327.9L288.8 326.4L288.9 325.9L289.5 323.9L290.2 321.9L290.8 320.4L291.8 319.9L291.5 317.9L291.4 315.9L291.6 313.9L291.5 311.9L291.3 309.9L290.9 307.9L290.8 307.7L290.2 305.9L289.3 303.9L288.8 302.6L288.3 301.9L287.7 299.9L288.1 297.9L287.8 295.9L286.8 294.6L286.3 293.9L284.8 292.6L284.1 291.9L282.8 291.0L280.8 289.9L280.8 289.9L278.8 289.5L276.8 289.2L274.8 288.7L272.8 288.2L271.6 287.9L270.8 287.7L268.8 287.1L266.8 286.7L264.8 286.3L262.8 286.0L261.7 285.9L260.8 285.8L258.8 285.6L256.8 285.6L254.8 285.6L252.8 285.8L250.8 285.9ZM253.5 307.9L252.8 308.3L251.0 309.9L250.8 310.1L249.7 311.9L249.5 313.9L250.7 315.9L250.8 316.0L252.8 317.1L254.5 317.9L254.8 318.0L256.8 318.3L258.8 318.4L260.8 318.4L262.8 318.2L264.7 317.9L264.8 317.9L266.8 317.2L268.8 316.6L270.8 316.1L271.7 315.9L271.7 313.9L270.8 312.2L270.7 311.9L269.8 309.9L268.8 308.1L268.6 307.9L266.8 306.5L264.8 306.2L262.8 306.0L260.8 305.9L258.8 306.0L256.8 306.4L254.8 307.1Z"/><path fill-rule="evenodd" fill="#34dc00" d="M456.8 205.7L458.8 205.4L460.8 205.1L462.8 204.9L464.8 204.7L466.8 204.6L468.8 204.5L470.8 204.5L472.8 204.5L474.8 204.5L476.8 204.6L478.8 204.7L480.8 204.8L482.8 205.0L484.8 205.1L486.8 205.3L488.8 205.6L490.8 205.8L491.5 205.9L492.8 206.1L494.8 206.4L496.8 206.8L498.8 207.2L500.8 207.6L502.0 207.9L502.8 208.1L504.8 208.6L506.8 209.2L508.8 209.7L509.4 209.9L510.8 210.3L512.8 210.7L514.8 211.1L516.8 211.4L518.8 211.6L520.8 211.8L522.4 211.9L522.8 211.9L524.8 212.1L526.8 212.4L528.8 212.6L530.8 212.9L532.8 213.0L534.8 213.1L536.8 213.2L538.8 213.3L540.8 213.6L542.4 213.9L542.8 214.0L544.8 214.4L546.8 214.3L548.8 214.5L550.8 214.7L552.8 215.0L554.8 215.3L556.8 215.7L558.8 215.9L559.0 215.9L560.8 216.2L562.8 216.7L564.8 217.2L566.8 217.6L568.1 217.9L568.8 218.1L570.8 218.7L572.8 219.2L574.8 219.5L576.8 219.8L577.8 219.9L578.8 220.0L580.8 220.2L582.8 220.5L584.8 220.7L586.8 220.9L588.8 221.0L590.8 221.0L592.8 221.0L594.8 220.9L596.8 220.8L598.8 220.6L600.8 220.3L602.8 220.0L603.6 219.9L604.8 219.7L606.8 219.3L608.8 218.9L610.8 218.5L612.8 218.0L613.4 217.9L614.8 217.6L616.8 217.1L618.8 216.6L620.8 216.1L621.6 215.9L622.8 215.6L624.8 215.1L626.8 214.5L628.8 213.9L628.9 213.9L630.8 213.4L632.8 212.8L634.8 212.2L635.7 211.9L636.8 211.6L638.8 211.1L640.8 210.6L642.8 210.2L644.5 209.9L644.8 209.9L646.8 209.8L648.8 209.8L649.9 209.9L650.8 210.0L652.8 210.3L654.8 210.6L656.8 210.9L658.8 211.3L660.8 211.6L662.5 211.9L662.8 212.0L664.8 212.3L666.8 212.7L668.8 213.1L670.8 213.5L672.8 213.9L673.0 213.9L674.8 214.3L676.8 214.7L678.8 215.0L680.8 215.3L682.8 215.5L684.8 215.6L686.8 215.6L688.8 215.5L690.8 215.3L692.8 214.9L694.8 214.4L696.6 213.9L696.8 213.9L698.8 213.4L700.8 213.0L702.8 212.6L704.8 212.3L706.8 212.6L708.8 213.1L710.8 213.2L712.8 213.5L714.8 213.7L716.8 213.7L718.8 213.9L718.9 213.9L720.8 214.2L722.8 214.2L724.8 214.6L726.8 215.0L728.8 215.1L730.8 215.4L732.8 215.6L734.8 215.4L736.8 215.3L738.8 215.4L740.8 215.8L741.0 215.9L742.8 216.9L744.8 217.8L744.8 217.9L744.8 219.9L744.8 221.9L744.8 223.9L744.8 225.9L744.8 227.9L744.8 229.9L744.8 231.9L744.8 233.9L744.8 235.9L744.8 237.9L744.8 239.9L744.8 241.9L744.8 243.9L744.8 245.9L744.8 247.9L744.8 249.9L744.8 251.9L744.8 253.9L744.8 255.9L744.8 257.9L744.8 259.9L744.8 261.9L744.8 263.9L744.8 265.9L744.8 267.9L744.8 269.9L744.8 271.9L744.8 273.9L744.8 275.9L744.8 277.9L744.8 279.9L744.8 281.9L744.8 283.9L744.8 285.9L744.8 287.9L744.8 289.9L744.8 291.9L744.8 293.9L744.8 295.9L744.8 297.9L744.8 299.9L744.8 301.9L744.8 303.9L744.8 305.9L744.8 307.9L744.8 309.9L744.8 311.9L744.8 313.9L744.8 315.9L744.8 317.9L744.8 319.9L744.8 321.9L744.8 323.9L744.8 325.9L744.8 327.9L744.8 329.9L744.8 331.9L744.8 333.8L743.0 333.9L742.8 333.9L740.8 333.9L740.7 333.9L738.8 333.8L736.8 333.7L734.8 333.5L732.8 333.4L730.8 333.3L728.8 333.1L726.8 333.0L724.8 332.9L722.8 332.8L720.8 332.7L718.8 332.5L716.8 332.4L714.8 332.3L712.8 332.2L710.8 332.1L708.8 332.0L707.9 331.9L706.8 331.8L704.8 331.7L702.8 331.6L700.8 331.5L698.8 331.3L696.8 331.2L694.8 331.1L692.8 331.0L690.8 330.8L688.8 330.7L686.8 330.6L684.8 330.5L682.8 330.4L680.8 330.2L678.8 330.1L676.8 330.0L675.1 329.9L674.8 329.9L672.8 329.8L670.8 329.6L668.8 329.5L666.8 329.4L664.8 329.3L662.8 329.2L660.8 329.1L658.8 329.0L656.8 328.9L654.8 328.8L652.8 328.7L650.8 328.6L648.8 328.5L646.8 328.4L644.8 328.3L642.8 328.2L640.8 328.1L638.8 328.0L636.8 327.9L636.5 327.9L634.8 327.8L632.8 327.7L630.8 327.7L628.8 327.6L626.8 327.5L624.8 327.2L622.8 326.8L620.8 326.1L619.9 325.9L618.8 325.1L616.8 325.4L615.1 325.9L614.8 325.9L612.8 326.4L610.8 326.7L608.8 326.7L606.8 326.6L604.8 326.4L602.8 326.3L600.8 326.1L598.8 326.0L596.8 325.9L596.3 325.9L594.8 325.8L592.8 325.7L590.8 325.3L588.8 324.8L586.8 324.4L584.9 323.9L584.8 323.9L582.8 323.4L580.8 322.9L578.8 322.4L576.8 322.0L576.4 321.9L574.8 321.5L572.8 321.1L570.8 320.7L568.8 320.2L566.9 319.9L566.8 319.9L564.8 319.5L562.8 319.2L560.8 318.9L558.8 318.7L556.8 318.5L554.8 318.4L552.8 318.2L550.8 318.1L548.8 318.0L547.3 317.9L546.8 317.9L544.8 317.8L542.8 317.7L540.8 317.6L538.8 317.5L536.8 317.5L534.8 317.4L532.8 317.3L530.8 317.3L528.8 317.2L526.8 317.2L524.8 317.1L522.8 317.0L520.8 317.0L518.8 316.9L516.8 316.8L514.8 316.8L512.8 316.7L510.8 316.7L508.8 316.6L506.8 316.6L504.8 316.6L502.8 316.5L500.8 316.6L498.8 316.6L496.8 316.6L494.8 316.7L492.8 316.8L490.8 316.7L488.8 316.5L486.8 316.2L484.9 315.9L484.8 315.9L482.8 315.6L480.8 315.3L478.8 315.0L476.8 314.8L474.8 314.6L472.8 314.4L470.8 314.2L468.8 314.1L466.8 313.9L466.2 313.9L464.8 313.8L462.8 313.7L460.8 313.6L458.8 313.5L456.8 313.4L454.8 313.3L452.8 313.3L450.8 313.2L448.8 313.1L446.8 313.1L444.8 313.0L442.8 312.9L440.8 312.9L438.8 312.8L436.8 312.7L434.8 312.7L432.8 312.6L430.8 312.6L428.8 312.5L426.8 312.5L424.8 312.4L422.8 312.4L420.8 312.4L418.8 312.4L416.8 312.3L414.8 312.3L412.8 312.4L410.8 312.4L408.8 312.4L406.8 312.5L404.8 312.5L402.8 312.6L400.8 312.7L398.8 312.8L396.8 312.9L394.8 313.0L392.8 313.1L390.8 313.3L388.8 313.4L386.8 313.6L384.8 313.7L382.8 313.9L382.6 313.9L380.8 314.0L378.8 314.2L376.8 314.4L374.8 314.5L372.8 314.7L370.8 314.9L368.8 315.0L366.8 315.1L364.8 315.2L362.8 315.3L360.8 315.3L358.8 315.3L356.8 315.3L354.8 315.2L352.8 315.1L350.8 314.8L348.8 314.6L346.8 314.2L345.5 313.9L344.8 313.8L342.8 313.3L340.8 312.7L338.8 312.1L338.3 311.9L336.8 311.4L334.8 310.7L332.8 310.1L332.4 309.9L330.8 309.4L328.8 308.7L326.8 308.1L326.1 307.9L324.8 307.5L322.8 307.0L320.8 306.5L318.8 306.1L317.9 305.9L316.8 305.6L314.8 305.1L312.8 304.5L310.8 304.0L309.9 303.9L308.8 303.5L306.8 302.9L304.8 302.2L304.4 301.9L302.8 300.7L301.8 299.9L300.8 299.4L298.9 297.9L298.8 297.9L296.8 296.5L296.3 295.9L294.8 294.8L294.0 293.9L292.8 292.8L291.9 291.9L290.8 291.0L288.8 289.9L288.8 289.9L286.8 289.1L284.8 287.9L284.8 287.9L282.8 286.6L281.4 285.9L280.8 285.5L278.8 284.5L277.8 283.9L276.8 283.2L275.2 281.9L274.8 281.6L272.8 280.4L270.8 280.2L268.8 280.0L266.8 280.1L264.8 280.1L262.8 280.2L260.8 280.3L258.8 280.4L256.8 280.4L254.8 280.5L252.8 280.6L250.8 280.7L248.8 280.8L246.8 280.9L244.8 280.9L242.8 281.0L240.8 281.1L238.8 281.2L236.8 281.3L234.8 281.4L232.8 281.5L230.8 281.6L228.8 281.7L226.8 281.8L225.4 281.9L224.8 281.9L222.8 282.1L220.8 282.2L218.8 282.4L216.8 282.7L214.8 282.9L212.8 283.2L210.8 283.4L208.8 283.6L206.8 283.7L204.9 283.9L204.8 283.9L202.8 284.2L200.8 284.4L198.8 284.7L196.8 284.8L194.8 285.1L192.8 285.2L190.8 285.4L188.8 285.6L186.8 285.8L184.8 285.9L184.7 285.9L182.8 286.9L180.8 287.9L180.8 287.9L180.8 287.9L182.8 288.1L184.8 288.4L186.8 288.7L188.8 289.2L190.8 289.6L191.6 289.9L192.8 290.1L194.8 290.3L196.8 290.6L198.8 291.0L200.8 291.4L202.8 291.8L203.1 291.9L204.8 292.1L206.8 292.4L208.8 292.7L210.8 293.0L212.8 293.3L214.8 293.6L216.6 293.9L216.8 293.9L218.8 294.2L220.8 294.5L222.8 294.7L224.8 295.0L226.8 295.2L228.8 295.5L230.8 295.9L230.8 295.9L232.8 296.5L234.8 297.1L236.8 297.6L238.8 297.8L239.0 297.9L240.8 299.8L240.8 299.9L241.0 301.9L240.8 302.8L240.5 303.9L239.3 305.9L238.8 306.5L237.0 307.9L236.8 308.1L234.8 308.9L232.8 309.0L230.8 308.5L229.8 307.9L228.8 307.5L226.8 306.8L224.8 307.0L223.5 307.9L222.9 309.9L224.8 311.4L225.7 311.9L226.8 312.5L228.8 313.7L229.1 313.9L230.8 314.4L232.8 315.3L233.9 315.9L234.8 316.2L236.8 317.0L238.8 317.9L238.8 317.9L240.8 318.7L242.8 319.6L243.4 319.9L244.8 320.4L246.8 321.2L248.5 321.9L248.8 322.0L250.8 322.6L252.8 323.3L254.6 323.9L254.8 323.9L256.8 324.7L258.8 325.9L258.8 326.0L260.8 327.9L260.8 327.9L262.8 329.4L263.9 329.9L264.8 330.7L266.8 331.7L267.6 331.9L268.8 333.0L269.9 333.9L268.8 334.3L266.8 334.9L264.8 335.8L264.7 335.9L262.8 336.5L260.8 337.3L259.1 337.9L258.8 338.0L256.8 338.4L254.8 338.8L252.8 339.0L250.8 339.1L248.8 339.2L246.8 339.2L244.8 339.2L242.8 339.2L240.8 339.1L238.8 339.1L236.8 339.0L234.8 338.8L232.8 338.6L230.8 338.5L228.8 338.3L227.1 337.9L226.8 337.8L224.8 337.7L222.8 337.7L220.8 337.7L218.8 337.7L216.8 337.6L214.8 337.6L212.8 337.6L210.8 337.6L208.8 337.6L206.8 337.6L204.8 337.5L202.8 337.5L200.8 337.5L198.8 337.5L196.8 337.5L194.8 337.4L192.8 337.4L190.8 337.4L188.8 337.4L186.8 337.4L184.8 337.4L182.8 337.3L180.8 337.3L178.8 337.3L176.8 337.3L174.8 337.3L172.8 337.3L170.8 337.3L168.8 337.2L166.8 337.1L164.8 336.9L162.8 336.9L160.8 336.9L158.8 336.8L156.8 336.7L154.8 336.8L152.8 336.7L150.8 336.8L148.8 336.7L146.8 336.7L144.8 336.6L142.8 336.7L140.8 336.6L138.8 336.6L136.8 336.6L134.8 336.5L132.8 336.5L130.8 336.5L128.8 336.5L126.8 336.4L124.8 336.5L122.8 336.3L120.8 336.3L118.8 336.4L116.8 336.3L114.8 336.3L112.8 336.4L110.8 336.2L108.8 336.2L106.8 336.2L104.8 336.2L102.8 336.1L100.8 336.2L98.8 336.1L96.8 336.0L94.8 336.1L92.8 336.1L90.8 335.9L90.8 335.9L88.8 335.8L86.8 335.8L84.8 335.8L82.8 335.8L80.8 335.7L80.8 333.9L80.8 331.9L80.8 329.9L80.8 327.9L80.8 325.9L80.8 323.9L80.8 321.9L80.8 319.9L80.8 317.9L80.8 315.9L80.8 313.9L80.8 311.9L80.8 309.9L80.8 307.9L80.8 305.9L80.8 303.9L80.8 301.9L80.8 299.9L80.8 297.9L80.8 295.9L80.8 293.9L80.8 291.9L80.8 289.9L80.8 287.9L80.8 285.9L80.8 283.9L80.8 281.9L80.8 279.9L80.8 277.9L80.8 275.9L80.8 273.9L80.8 271.9L80.8 269.9L80.8 267.9L80.8 265.9L80.8 263.9L80.8 261.9L80.8 259.9L80.8 257.9L80.8 255.9L80.8 253.9L80.8 251.9L80.8 249.9L80.8 247.9L80.8 245.9L80.8 243.9L80.8 241.9L80.8 239.9L80.8 237.9L80.8 235.9L80.8 233.9L80.8 231.9L80.8 229.9L80.8 227.9L80.8 225.9L80.8 223.9L80.8 222.2L82.1 221.9L82.8 221.7L84.8 221.6L86.7 221.9L86.8 221.9L88.8 222.0L90.8 222.3L92.8 222.8L94.8 222.7L96.8 223.0L98.8 223.4L100.8 223.8L102.8 223.3L104.8 223.1L106.8 223.3L108.8 223.2L110.8 223.4L112.8 223.5L114.8 223.9L116.8 223.5L118.1 223.9L118.8 224.0L120.1 223.9L120.8 223.8L121.9 223.9L122.8 223.9L124.8 223.9L126.8 224.0L128.8 223.9L130.8 224.0L132.8 224.1L134.8 224.0L136.8 224.1L138.8 224.1L140.8 224.0L142.8 224.0L144.8 224.1L146.8 223.9L148.8 224.0L150.8 224.0L152.8 224.0L154.8 223.9L156.8 224.1L158.8 224.0L160.8 224.1L162.8 224.2L164.8 224.2L166.8 224.1L168.8 224.3L170.8 224.3L172.8 224.3L174.8 224.4L176.8 224.5L178.8 224.5L180.8 224.5L182.8 224.7L184.8 224.8L186.8 225.0L188.8 225.2L190.8 225.3L192.8 225.4L194.8 225.6L196.8 225.6L198.8 225.8L199.9 225.9L200.8 226.0L202.8 226.1L204.8 226.2L206.8 226.6L208.8 227.1L210.8 227.6L212.2 227.9L212.8 228.1L214.8 228.7L216.8 229.2L218.8 229.7L219.9 229.9L220.8 230.4L222.8 231.6L223.2 231.9L222.8 232.7L221.9 233.9L220.8 234.3L218.8 234.9L216.8 235.8L216.6 235.9L214.8 236.5L212.8 237.3L211.2 237.9L210.8 238.0L208.8 238.7L206.8 239.3L205.2 239.9L204.8 240.0L202.8 240.7L200.8 241.3L199.0 241.9L198.8 242.0L196.8 242.6L194.8 243.4L193.7 243.9L192.8 244.4L190.8 245.6L190.2 245.9L188.8 246.8L186.8 247.8L186.6 247.9L184.8 249.5L184.5 249.9L184.8 250.1L186.8 251.4L187.5 251.9L188.8 252.3L190.8 253.1L192.6 253.9L192.8 254.0L194.8 254.4L196.8 254.7L198.8 254.9L200.8 255.0L202.8 255.1L204.8 255.3L206.8 255.4L208.8 255.6L210.8 255.7L212.8 255.8L214.8 255.7L216.8 255.5L218.8 255.2L220.8 255.0L222.8 254.8L224.8 254.6L226.8 254.4L228.8 254.3L230.8 254.1L232.8 253.9L232.8 253.9L234.8 253.7L236.8 253.4L238.8 253.2L240.8 253.0L242.8 252.8L244.8 252.5L246.8 252.2L247.5 251.9L248.8 251.1L250.7 249.9L250.8 249.8L252.8 248.3L253.5 247.9L254.8 246.8L256.2 245.9L256.8 245.4L258.8 244.0L258.9 243.9L260.8 242.5L261.6 241.9L262.8 240.9L264.3 239.9L264.8 239.5L266.8 238.2L267.6 237.9L268.8 237.6L270.8 237.5L272.8 237.5L274.8 237.4L276.8 237.4L278.8 237.3L280.8 237.2L282.8 237.0L284.8 236.9L286.8 236.8L288.8 236.8L290.8 236.7L292.8 236.5L294.8 236.2L296.0 235.9L296.8 235.7L298.8 235.3L300.8 235.1L302.8 235.4L303.7 235.9L304.8 236.6L306.1 237.9L306.8 238.5L308.6 239.9L308.8 240.0L310.8 241.2L312.3 241.9L312.8 242.1L314.8 242.8L316.8 243.4L318.8 243.8L319.2 243.9L320.8 244.2L322.8 244.5L324.8 244.8L326.8 244.9L328.8 245.0L330.8 245.0L332.8 244.8L334.8 244.6L336.8 244.3L338.8 243.9L338.8 243.9L340.8 243.4L342.8 242.8L344.8 242.0L345.1 241.9L346.8 241.2L348.8 240.2L349.4 239.9L350.8 239.2L352.8 238.0L353.0 237.9L354.8 236.7L356.1 235.9L356.8 235.4L358.8 234.0L358.9 233.9L360.8 232.6L361.7 231.9L362.8 231.1L364.4 229.9L364.8 229.6L366.8 228.2L367.1 227.9L368.8 226.7L370.0 225.9L370.8 225.4L372.8 224.1L373.1 223.9L374.8 222.9L376.5 221.9L376.8 221.7L378.8 220.7L380.4 219.9L380.8 219.7L382.8 218.9L384.8 218.1L385.2 217.9L386.8 217.3L388.8 216.7L390.8 216.1L391.7 215.9L392.8 215.6L394.8 215.2L396.8 214.8L398.8 214.5L400.8 214.2L402.8 214.0L403.5 213.9L404.8 213.8L406.8 213.6L408.8 213.5L410.8 213.4L412.8 213.3L414.8 213.2L416.8 213.1L418.8 213.0L420.8 212.9L422.8 212.8L424.8 212.6L426.8 212.4L428.8 212.1L430.1 211.9L430.8 211.8L432.8 211.4L434.8 211.0L436.8 210.6L438.8 210.1L439.4 209.9L440.8 209.5L442.8 209.0L444.8 208.4L446.8 207.9L446.8 207.9L448.8 207.4L450.8 206.9L452.8 206.4L454.8 206.0L455.5 205.9Z"/><path fill-rule="evenodd" fill="#88dc00" d="M458.8 211.8L460.8 211.7L462.8 211.6L464.8 211.5L466.8 211.5L468.8 211.6L470.8 211.7L472.8 211.7L474.8 211.9L475.4 211.9L476.8 212.0L478.8 212.2L480.8 212.3L482.8 212.5L484.8 212.7L486.8 212.8L488.8 213.0L490.8 213.2L492.8 213.5L494.8 213.7L496.1 213.9L496.8 214.0L498.8 214.4L500.8 214.8L502.8 215.4L504.4 215.9L504.8 216.1L506.8 216.8L508.8 217.5L510.2 217.9L510.8 218.1L512.8 218.3L514.8 218.5L516.8 218.7L518.8 218.9L520.8 219.1L522.8 219.2L524.8 219.4L526.8 219.6L528.8 219.7L530.8 219.9L531.9 219.9L532.8 219.9L534.8 220.0L536.8 220.1L538.8 220.2L540.8 220.3L542.8 220.5L544.8 220.5L546.8 220.7L548.8 220.8L550.8 221.0L552.8 221.2L554.8 221.3L556.8 221.4L558.8 221.6L560.8 221.9L561.0 221.9L562.8 222.2L564.8 222.7L566.8 223.2L568.8 223.7L569.5 223.9L570.8 224.2L572.8 224.6L574.8 225.1L576.8 225.6L578.3 225.9L578.8 226.0L580.8 226.3L582.8 226.6L584.8 226.9L586.8 227.1L588.8 227.3L590.8 227.4L592.8 227.5L594.8 227.4L596.8 227.3L598.8 227.1L600.8 226.8L602.8 226.5L604.8 226.1L605.5 225.9L606.8 225.6L608.8 225.1L610.8 224.6L612.8 224.1L613.3 223.9L614.8 223.5L616.8 222.9L618.8 222.3L620.2 221.9L620.8 221.7L622.8 221.1L624.8 220.5L626.6 219.9L626.8 219.9L628.8 219.2L630.8 218.5L632.5 217.9L632.8 217.8L634.8 217.1L636.8 216.4L638.1 215.9L638.8 215.7L640.8 215.1L642.8 214.5L644.8 214.1L646.8 213.9L648.8 214.3L650.8 214.8L652.8 215.3L654.8 215.7L655.6 215.9L656.8 216.2L658.8 216.7L660.8 217.2L662.8 217.6L664.2 217.9L664.8 218.1L666.8 218.5L668.8 219.0L670.8 219.5L672.4 219.9L672.8 220.0L674.8 220.7L676.8 221.3L678.8 221.8L679.1 221.9L680.8 222.5L682.8 223.1L684.8 223.6L685.8 223.9L686.8 224.2L688.8 224.8L690.8 225.1L692.8 225.3L694.8 225.4L696.8 225.5L698.8 225.3L700.8 224.5L701.7 223.9L702.8 223.6L704.8 223.8L706.8 223.9L707.4 223.9L708.8 224.5L710.8 225.3L712.8 225.3L714.8 225.5L716.8 225.8L718.8 225.8L720.8 225.9L720.8 225.9L722.8 226.8L724.8 226.8L726.8 227.1L728.8 227.5L730.8 227.5L732.8 227.8L733.1 227.9L734.8 228.6L736.8 228.9L738.8 228.7L740.8 228.3L742.8 228.8L744.8 229.7L744.8 229.9L744.8 231.9L744.8 233.9L744.8 235.9L744.8 237.9L744.8 239.9L744.8 241.9L744.8 243.9L744.8 245.9L744.8 247.9L744.8 249.9L744.8 251.9L744.8 253.9L744.8 255.9L744.8 257.9L744.8 259.9L744.8 261.9L744.8 263.9L744.8 265.9L744.8 267.9L744.8 269.9L744.8 271.9L744.8 273.9L744.8 275.9L744.8 277.9L744.8 279.9L744.8 281.9L744.8 283.9L744.8 285.9L744.8 287.9L744.8 289.9L744.8 291.9L744.8 293.9L744.8 295.9L744.8 297.9L744.8 299.9L744.8 301.9L744.8 303.9L744.8 305.9L744.8 307.9L744.8 309.9L744.8 311.9L744.8 313.9L744.8 315.9L744.8 317.9L744.8 319.9L744.8 321.9L744.8 323.9L744.8 325.9L744.8 327.3L742.8 327.4L740.8 327.4L738.8 327.3L736.8 327.1L734.8 326.9L732.8 326.7L730.8 326.5L728.8 326.4L726.8 326.2L724.8 326.0L723.3 325.9L722.8 325.9L720.8 325.7L718.8 325.5L716.8 325.3L714.8 325.1L712.8 325.0L710.8 324.8L708.8 324.6L706.8 324.5L704.8 324.3L702.8 324.1L700.8 323.9L700.4 323.9L698.8 323.8L696.8 323.6L694.8 323.4L692.8 323.2L690.8 323.1L688.8 322.9L686.8 322.7L684.8 322.5L682.8 322.4L680.8 322.2L678.8 322.0L677.4 321.9L676.8 321.8L674.8 321.7L672.8 321.5L670.8 321.3L668.8 321.1L666.8 321.0L664.8 320.8L662.8 320.6L660.8 320.4L658.8 320.3L656.8 320.1L654.8 319.9L654.6 319.9L652.8 319.7L650.8 319.6L648.8 319.4L646.8 319.2L644.8 319.0L642.8 318.8L640.8 318.7L638.8 318.5L636.8 318.3L634.8 318.2L632.8 318.0L631.7 317.9L630.8 317.8L628.8 317.7L626.8 317.5L624.8 317.2L622.8 316.8L620.8 316.1L620.0 315.9L618.8 315.2L616.8 315.3L614.8 315.7L613.7 315.9L612.8 316.0L610.8 316.0L608.8 315.9L608.7 315.9L606.8 315.7L604.8 315.6L602.8 315.4L600.8 315.2L598.8 315.0L596.8 314.9L594.8 314.7L592.8 314.5L590.8 314.4L588.8 314.3L586.8 314.2L584.8 313.9L584.7 313.9L582.8 313.6L580.8 313.2L578.8 312.7L576.8 312.2L575.5 311.9L574.8 311.7L572.8 311.2L570.8 310.6L568.8 310.1L568.0 309.9L566.8 309.6L564.8 309.3L562.8 309.1L560.8 309.0L558.8 308.8L556.8 308.7L554.8 308.7L552.8 308.6L550.8 308.5L548.8 308.5L546.8 308.4L544.8 308.4L542.8 308.3L540.8 308.2L538.8 308.2L536.8 308.1L534.8 308.0L532.8 307.9L532.3 307.9L530.8 307.8L528.8 307.7L526.8 307.6L524.8 307.5L522.8 307.3L520.8 307.2L518.8 307.0L516.8 306.9L514.8 306.7L512.8 306.5L510.8 306.3L508.8 306.1L506.8 306.0L506.2 305.9L504.8 305.7L502.8 305.5L500.8 305.3L498.8 305.0L496.8 304.7L494.8 304.4L492.8 304.1L491.4 303.9L490.8 303.8L488.8 303.7L486.8 303.6L484.8 303.6L482.8 303.5L480.8 303.4L478.8 303.3L476.8 303.2L474.8 303.1L472.8 303.1L470.8 303.0L468.8 302.9L466.8 302.9L464.8 302.8L462.8 302.8L460.8 302.8L458.8 302.8L456.8 302.7L454.8 302.7L452.8 302.7L450.8 302.7L448.8 302.6L446.8 302.6L444.8 302.5L442.8 302.4L440.8 302.4L438.8 302.3L436.8 302.2L434.8 302.1L432.8 302.1L430.8 302.0L428.9 301.9L428.8 301.9L426.8 301.8L424.8 301.7L422.8 301.7L420.8 301.6L418.8 301.5L416.8 301.5L414.8 301.5L412.8 301.4L410.8 301.4L408.8 301.4L406.8 301.4L404.8 301.4L402.8 301.5L400.8 301.5L398.8 301.6L396.8 301.6L394.8 301.7L392.8 301.8L390.8 301.8L389.6 301.9L388.8 301.9L386.8 302.0L384.8 302.1L382.8 302.2L380.8 302.3L378.8 302.4L376.8 302.5L374.8 302.5L372.8 302.6L370.8 302.6L368.8 302.6L366.8 302.6L364.8 302.6L362.8 302.6L360.8 302.5L358.8 302.4L356.8 302.2L354.8 302.0L353.7 301.9L352.8 301.8L350.8 301.5L348.8 301.2L346.8 300.8L344.8 300.4L342.8 300.0L342.3 299.9L340.8 299.6L338.8 299.1L336.8 298.6L334.8 298.0L334.3 297.9L332.8 297.5L330.8 296.9L328.8 296.3L327.7 295.9L326.8 295.6L324.8 294.9L322.8 294.2L322.2 293.9L320.8 293.4L318.8 292.7L316.8 291.9L316.8 291.9L314.8 291.3L312.8 290.9L310.8 290.8L308.8 290.6L306.8 290.5L304.8 290.4L302.8 290.4L300.8 290.4L298.8 290.4L296.8 290.3L295.5 289.9L294.8 289.7L292.8 288.4L291.7 287.9L290.8 287.5L288.8 287.1L286.9 285.9L286.8 285.7L285.4 283.9L284.8 282.0L284.7 281.9L284.8 281.8L286.0 279.9L286.8 278.7L288.8 279.3L290.8 278.8L291.7 277.9L291.4 275.9L290.8 275.4L288.8 275.8L288.7 275.9L286.8 277.6L284.8 277.5L282.8 277.6L280.8 277.4L278.8 277.5L276.8 277.4L274.8 277.5L272.8 277.2L270.8 277.3L268.8 277.4L266.8 277.5L264.8 277.5L262.8 277.5L260.8 277.5L258.8 277.5L256.8 277.5L254.8 277.5L252.8 277.4L250.8 277.4L248.8 277.4L246.8 277.4L244.8 277.3L242.8 277.3L240.8 277.2L238.8 277.2L236.8 277.1L234.8 277.1L232.8 277.0L230.8 276.9L228.8 276.9L226.8 276.9L224.8 276.9L222.8 277.1L220.8 277.3L218.8 277.5L216.8 277.7L215.1 277.9L214.8 277.9L212.8 278.1L210.8 278.3L208.8 278.5L206.8 278.8L204.8 279.0L202.8 279.2L200.8 279.3L198.8 279.3L196.8 279.3L194.8 279.3L192.8 279.3L190.8 279.3L188.8 279.3L186.8 279.3L184.8 279.3L182.8 279.3L180.8 279.3L178.8 279.2L176.8 279.2L174.8 279.3L172.8 279.4L170.8 279.5L168.8 279.7L166.8 279.9L166.2 279.9L164.8 280.0L162.8 280.2L160.8 280.3L158.8 280.4L156.8 280.6L154.8 280.6L152.8 280.8L150.8 280.8L148.8 281.0L146.8 281.0L144.8 281.1L142.8 281.3L140.8 281.5L138.8 281.8L137.7 281.9L136.8 282.1L134.8 282.6L132.8 283.0L130.8 283.3L128.8 283.6L126.8 283.9L126.7 283.9L124.8 284.4L122.8 285.0L120.8 285.3L118.8 285.7L116.8 285.8L116.0 285.9L116.8 286.0L118.8 286.3L120.8 286.8L122.8 287.3L124.5 287.9L124.8 287.9L126.8 288.1L128.8 288.4L130.8 288.7L132.8 289.0L134.8 289.3L136.8 289.6L138.6 289.9L138.8 289.9L140.8 290.2L142.8 290.4L144.8 290.7L146.8 291.0L148.8 291.3L150.8 291.6L152.8 291.8L153.8 291.9L154.8 292.0L156.8 292.2L158.8 292.3L160.8 292.5L162.8 292.7L164.8 292.9L166.8 293.2L168.8 293.4L170.8 293.6L172.8 293.8L174.1 293.9L174.8 294.0L176.8 294.2L178.8 294.4L180.8 294.6L182.8 294.8L184.8 295.0L186.8 295.2L188.8 295.4L190.8 295.5L192.8 295.7L194.8 295.8L195.2 295.9L196.8 296.2L198.8 296.6L200.8 297.0L202.8 297.2L204.8 297.5L206.8 297.8L207.8 297.9L208.8 298.1L210.8 298.5L212.8 298.9L214.8 299.1L216.8 299.3L218.8 299.5L220.8 299.7L222.2 299.9L222.8 300.4L223.4 301.9L222.8 302.2L220.8 303.3L220.1 303.9L218.8 304.6L216.8 305.2L214.8 305.6L212.8 305.9L212.8 305.9L210.8 306.1L208.8 306.3L206.8 306.5L204.8 306.7L202.8 306.9L200.8 307.2L198.8 307.3L196.8 307.5L194.8 307.7L192.8 307.9L192.2 307.9L190.8 308.4L188.8 309.5L188.4 309.9L188.8 310.0L190.8 310.3L192.8 310.9L194.8 311.7L195.1 311.9L196.8 312.3L198.8 312.9L200.8 313.6L201.4 313.9L202.8 314.3L204.8 314.9L206.8 315.5L207.8 315.9L208.8 316.1L210.8 316.6L212.8 317.1L214.8 317.5L216.1 317.9L216.8 318.0L218.8 318.5L220.8 319.0L222.8 319.4L224.8 319.8L225.1 319.9L226.8 320.3L228.8 320.8L230.8 321.2L232.8 321.6L234.2 321.9L234.8 322.1L236.8 322.5L238.8 323.0L240.8 323.5L242.8 323.9L242.9 323.9L244.8 324.5L246.8 325.1L248.8 325.5L250.6 325.9L250.8 326.0L252.8 326.9L254.8 327.9L254.8 327.9L255.1 329.9L254.8 330.4L252.9 331.9L252.8 331.9L250.8 332.2L248.8 332.3L246.8 332.2L244.8 332.2L242.8 332.2L240.8 332.2L238.8 332.3L236.8 332.3L234.8 332.3L232.8 332.3L230.8 332.3L228.8 332.3L226.8 332.3L224.8 332.3L222.8 332.3L220.8 332.4L218.8 332.4L216.8 332.4L214.8 332.5L212.8 332.5L210.8 332.6L208.8 332.6L206.8 332.6L204.8 332.7L202.8 332.7L200.8 332.8L198.8 332.8L196.8 332.8L194.8 332.9L192.8 332.9L190.8 332.9L188.8 332.9L186.8 332.9L184.8 332.9L182.8 332.9L180.8 332.9L178.8 332.9L176.8 332.9L174.8 332.9L172.8 332.8L170.8 332.8L168.8 332.8L166.8 332.8L164.8 332.8L162.8 332.8L160.8 332.8L158.8 332.8L156.8 332.8L154.8 332.8L152.8 332.8L150.8 332.8L148.8 332.8L146.8 332.7L144.8 332.7L142.8 332.6L140.8 332.6L138.8 332.5L136.8 332.5L134.8 332.4L132.8 332.4L130.8 332.3L128.8 332.3L126.8 332.2L124.8 332.2L122.8 332.1L120.8 332.0L118.8 332.0L116.8 331.9L115.0 331.9L114.8 331.9L112.8 331.8L110.8 331.8L108.8 331.7L106.8 331.6L104.8 331.6L102.8 331.5L100.8 331.4L98.8 331.4L96.8 331.3L94.8 331.3L92.8 331.2L90.8 331.1L88.8 331.1L86.8 331.0L84.8 331.0L82.8 330.9L80.8 330.6L80.8 329.9L80.8 327.9L80.8 325.9L80.8 323.9L80.8 321.9L80.8 319.9L80.8 317.9L80.8 315.9L80.8 313.9L80.8 311.9L80.8 309.9L80.8 307.9L80.8 305.9L80.8 303.9L80.8 301.9L80.8 299.9L80.8 297.9L80.8 295.9L80.8 293.9L80.8 291.9L80.8 289.9L80.8 287.9L80.8 285.9L80.8 283.9L80.8 281.9L80.8 279.9L80.8 277.9L80.8 275.9L80.8 273.9L80.8 271.9L80.8 269.9L80.8 267.9L80.8 265.9L80.8 263.9L80.8 261.9L80.8 259.9L80.8 257.9L80.8 255.9L80.8 253.9L80.8 251.9L80.8 249.9L80.8 247.9L80.8 245.9L80.8 243.9L80.8 241.9L80.8 239.9L80.8 237.9L80.8 235.9L80.8 235.3L82.8 235.2L84.8 235.2L86.8 235.2L88.8 235.2L90.8 235.2L92.8 235.1L94.8 235.1L96.8 235.1L98.8 235.1L100.8 235.0L102.8 235.0L104.8 235.0L106.8 234.9L108.8 234.9L110.8 234.9L112.8 234.8L114.8 234.8L116.8 234.8L118.8 234.7L120.8 234.7L122.8 234.6L124.8 234.6L126.8 234.6L128.8 234.6L130.8 234.7L132.8 234.7L134.8 234.8L136.8 234.8L138.8 234.8L140.8 234.9L142.8 234.9L144.8 235.0L146.8 235.0L148.8 235.1L150.8 235.1L152.8 235.2L154.8 235.2L156.8 235.3L158.8 235.3L160.8 235.4L162.8 235.5L164.8 235.5L166.8 235.6L168.8 235.6L170.8 235.6L172.8 235.7L173.7 235.9L174.3 237.9L172.8 238.8L170.8 239.7L170.3 239.9L168.8 240.4L166.8 241.5L166.1 241.9L164.8 242.5L162.8 243.6L162.3 243.9L160.8 244.7L158.8 245.7L158.3 245.9L156.8 246.9L155.8 247.9L155.3 249.9L156.8 251.7L157.0 251.9L158.8 252.9L160.8 253.8L161.0 253.9L162.8 254.4L164.8 255.0L166.8 255.6L167.5 255.9L168.8 256.3L170.8 256.9L172.8 257.6L173.8 257.9L174.8 258.2L176.8 258.7L178.8 259.0L180.8 259.3L182.8 259.6L184.7 259.9L184.8 259.9L186.8 260.2L188.8 260.6L190.8 260.9L192.8 261.2L194.8 261.5L196.8 261.7L197.9 261.9L198.8 262.0L200.8 262.2L202.8 262.2L204.8 262.0L206.8 261.9L207.0 261.9L208.8 261.8L210.8 261.7L212.8 261.6L214.8 261.5L216.8 261.3L218.8 261.2L220.8 261.0L222.8 260.8L224.8 260.7L226.8 260.5L228.8 260.4L230.8 260.2L232.6 259.9L232.8 259.9L234.8 259.5L236.8 259.1L238.8 258.7L240.8 258.3L242.8 257.9L243.0 257.9L244.8 257.6L246.8 257.2L248.8 256.8L250.8 256.4L252.8 255.9L252.8 255.9L254.8 255.5L256.8 255.1L258.8 254.7L260.8 254.2L261.8 253.9L262.8 253.5L264.8 252.5L265.8 251.9L266.8 251.3L268.8 250.2L269.2 249.9L270.8 249.0L272.6 247.9L272.8 247.8L274.8 246.6L275.9 245.9L276.8 245.4L278.8 244.3L280.5 243.9L280.8 243.9L281.3 243.9L282.8 244.1L284.8 244.5L286.8 244.9L288.8 245.3L290.8 245.7L291.3 245.9L292.8 246.5L294.8 247.6L295.2 247.9L296.8 248.9L298.5 249.9L298.8 250.0L300.8 250.2L302.1 249.9L302.8 249.7L304.8 249.0L306.8 248.5L308.8 248.3L310.8 248.4L312.8 248.5L314.8 248.8L316.8 249.2L318.8 249.6L320.2 249.9L320.8 250.0L322.8 250.4L324.8 250.8L326.8 251.1L328.8 251.4L330.8 251.6L332.8 251.7L334.8 251.7L336.8 251.7L338.8 251.5L340.8 251.3L342.8 250.9L344.8 250.4L346.6 249.9L346.8 249.8L348.8 249.1L350.8 248.3L351.6 247.9L352.8 247.3L354.8 246.2L355.3 245.9L356.8 245.0L358.4 243.9L358.8 243.6L360.8 242.1L361.1 241.9L362.8 240.6L363.7 239.9L364.8 239.0L366.1 237.9L366.8 237.3L368.5 235.9L368.8 235.6L370.8 233.9L370.8 233.9L372.8 232.3L373.3 231.9L374.8 230.7L375.9 229.9L376.8 229.2L378.7 227.9L378.8 227.8L380.8 226.5L381.9 225.9L382.8 225.4L384.8 224.3L385.6 223.9L386.8 223.4L388.8 222.5L390.4 221.9L390.8 221.8L392.8 221.1L394.8 220.6L396.8 220.1L397.6 219.9L398.8 219.7L400.8 219.3L402.8 219.0L404.8 218.8L406.8 218.6L408.8 218.5L410.8 218.4L412.8 218.3L414.8 218.3L416.8 218.3L418.8 218.3L420.8 218.3L422.8 218.3L424.8 218.3L426.8 218.2L428.8 218.1L430.8 218.0L431.2 217.9L432.8 217.7L434.8 217.4L436.8 217.1L438.8 216.6L440.8 216.1L441.4 215.9L442.8 215.5L444.8 214.9L446.8 214.3L448.2 213.9L448.8 213.7L450.8 213.2L452.8 212.8L454.8 212.4L456.8 212.1L458.3 211.9Z"/><path fill-rule="evenodd" fill="#b8dc00" d="M452.8 223.4L454.8 222.5L456.8 222.5L458.8 222.8L460.8 223.3L462.8 223.7L463.8 223.9L464.8 224.3L466.8 225.2L468.8 225.6L470.8 225.6L472.8 225.7L474.8 225.6L476.8 225.4L478.8 225.2L480.8 225.1L482.8 224.9L484.8 224.8L486.8 224.8L488.8 224.8L490.8 224.8L492.8 225.0L494.8 225.2L496.8 225.5L498.4 225.9L498.8 226.0L500.8 226.6L502.8 227.3L504.7 227.9L504.8 227.9L506.8 228.7L508.8 229.4L510.3 229.9L510.8 230.1L512.8 230.8L514.8 231.3L516.8 231.8L517.2 231.9L518.8 232.3L520.8 232.7L522.8 233.0L524.8 233.3L526.8 233.5L528.8 233.6L530.8 233.7L532.8 233.8L534.8 233.8L536.8 233.7L538.8 233.6L540.8 233.3L542.8 232.9L544.8 232.4L546.1 231.9L546.8 231.7L548.8 230.9L550.8 230.0L550.9 229.9L552.8 229.1L554.8 228.1L555.2 227.9L556.8 227.3L558.8 226.7L560.8 226.7L562.8 227.3L564.6 227.9L564.8 228.0L566.8 228.9L568.8 229.6L569.6 229.9L570.8 230.4L572.8 231.3L574.5 231.9L574.8 232.1L576.8 233.2L578.2 233.9L578.8 234.3L580.8 235.4L582.2 235.9L582.8 236.2L584.8 236.8L586.8 237.3L588.8 237.6L590.8 237.8L592.8 237.8L594.8 237.7L596.8 237.5L598.8 237.2L600.8 236.7L602.8 236.1L603.3 235.9L604.8 235.4L606.8 234.7L608.7 233.9L608.8 233.9L610.8 233.1L612.8 232.3L613.7 231.9L614.8 231.5L616.8 230.7L618.8 230.0L619.0 229.9L620.8 229.3L622.8 228.7L624.8 228.0L625.2 227.9L626.8 227.4L628.8 226.8L630.8 226.2L631.7 225.9L632.8 225.6L634.8 225.0L636.8 224.4L638.5 223.9L638.8 223.8L640.8 223.4L642.8 223.2L644.8 223.4L645.7 223.9L646.8 225.0L647.6 225.9L648.8 227.7L648.9 227.9L650.5 229.9L650.8 230.4L652.0 231.9L652.8 232.8L654.0 233.9L654.8 234.4L656.8 235.1L658.8 235.6L660.0 235.9L660.8 236.1L662.8 236.5L664.8 237.0L666.8 237.5L668.2 237.9L668.8 238.0L670.8 238.5L672.8 239.1L674.8 239.6L676.2 239.9L676.8 240.0L678.8 240.3L680.8 240.7L682.8 241.0L684.8 241.3L686.8 241.6L688.8 241.9L689.1 241.9L690.8 242.2L692.8 242.5L694.8 242.8L696.8 243.1L698.8 243.4L700.8 243.7L702.3 243.9L702.8 244.0L704.8 244.3L706.8 244.6L708.8 244.9L710.8 245.2L712.8 245.4L714.8 245.7L716.1 245.9L716.8 246.0L718.8 246.3L720.8 246.6L722.8 246.8L724.8 247.1L726.8 247.4L728.8 247.6L730.8 247.9L730.9 247.9L732.8 248.2L734.8 248.4L736.8 248.7L738.8 248.9L740.8 249.2L742.8 249.5L744.4 249.9L744.8 250.0L744.8 251.9L744.8 253.9L744.8 255.9L744.8 257.9L744.8 259.9L744.8 261.9L744.8 263.9L744.8 265.9L744.8 267.9L744.8 269.9L744.8 271.9L744.8 273.9L744.8 275.9L744.8 277.9L744.8 279.9L744.8 280.9L742.8 279.9L742.8 279.9L740.8 279.7L738.8 279.8L737.6 279.9L736.8 280.0L734.8 280.3L732.8 280.5L730.8 280.7L728.8 280.8L726.8 280.9L724.8 281.1L722.8 281.7L722.5 281.9L720.8 283.7L720.7 283.9L720.8 284.4L721.5 285.9L722.8 286.8L724.8 287.4L726.8 287.6L728.8 287.6L730.8 287.8L731.5 287.9L732.8 288.0L734.8 288.2L736.8 288.4L738.8 288.6L740.8 288.8L742.8 288.6L744.8 288.2L744.8 289.9L744.8 291.9L744.8 293.9L744.8 295.9L744.8 297.9L744.8 299.9L744.8 301.9L744.8 303.9L744.8 305.9L744.8 307.9L744.8 309.9L744.8 311.9L744.8 313.9L744.8 315.9L744.8 317.0L742.8 317.7L740.8 317.9L738.8 317.7L736.8 317.5L734.8 317.2L732.8 317.0L730.8 316.8L728.8 316.6L726.8 316.4L724.8 316.2L722.8 316.1L720.9 315.9L720.8 315.9L718.8 315.7L716.8 315.5L714.8 315.2L712.8 315.1L710.8 314.9L708.8 314.7L706.8 314.5L704.8 314.3L702.8 314.1L700.8 313.9L700.5 313.9L698.8 313.7L696.8 313.5L694.8 313.3L692.8 313.1L690.8 312.9L688.8 312.7L686.8 312.5L684.8 312.4L682.8 312.2L680.8 312.0L680.1 311.9L678.8 311.8L676.8 311.6L674.8 311.4L672.8 311.2L670.8 311.0L668.8 310.8L666.8 310.6L664.8 310.5L662.8 310.3L660.8 310.2L658.8 310.0L657.2 309.9L656.8 309.9L654.8 309.7L652.8 309.6L650.8 309.4L648.8 309.3L646.8 309.1L644.8 309.0L642.8 308.8L640.8 308.7L638.8 308.5L636.8 308.4L634.8 308.2L632.8 308.1L630.8 307.9L630.3 307.9L628.8 307.8L626.8 307.7L624.8 307.5L622.8 307.2L620.8 306.8L618.8 306.3L616.8 306.3L614.8 306.4L612.8 306.5L610.8 306.4L608.8 306.3L606.8 306.1L604.8 306.0L604.0 305.9L602.8 305.8L600.8 305.6L598.8 305.5L596.8 305.3L594.8 305.2L592.8 305.0L590.8 304.7L588.8 304.3L587.4 303.9L586.8 303.7L584.8 303.1L582.8 302.5L580.8 301.9L580.8 301.9L578.8 301.2L576.8 300.6L574.8 300.0L574.6 299.9L572.8 299.4L570.8 298.9L568.8 298.5L566.8 298.2L565.2 297.9L564.8 297.8L562.8 297.5L560.8 297.2L558.8 296.9L556.8 296.7L554.8 296.6L552.8 296.5L550.8 296.4L548.8 296.4L546.8 296.3L544.8 296.3L542.8 296.3L540.8 296.2L538.8 296.1L536.8 296.0L534.8 295.9L534.8 295.9L532.8 295.7L530.8 295.6L528.8 295.3L526.8 295.1L524.8 294.8L522.8 294.5L520.8 294.1L519.7 293.9L518.8 293.7L516.8 293.2L514.8 292.7L512.8 292.2L511.7 291.9L510.8 291.6L508.8 291.0L506.8 290.5L504.8 290.0L504.2 289.9L502.8 289.6L500.8 289.2L498.8 289.0L496.8 288.8L494.8 288.7L492.8 288.7L490.8 288.7L488.8 288.7L486.8 288.6L484.8 288.6L482.8 288.6L480.8 288.6L478.8 288.6L476.8 288.6L474.8 288.6L472.8 288.7L470.8 288.8L468.8 288.9L466.8 289.1L464.8 289.3L462.8 289.5L460.8 289.6L458.8 289.8L457.4 289.9L456.8 289.9L454.8 290.0L452.8 290.1L450.8 290.1L448.8 290.1L446.8 290.1L444.8 290.0L443.2 289.9L442.8 289.9L440.8 289.8L438.8 289.6L436.8 289.4L434.8 289.3L432.8 289.1L430.8 288.9L428.8 288.7L426.8 288.5L424.8 288.3L422.8 288.1L420.8 288.0L420.0 287.9L418.8 287.8L416.8 287.6L414.8 287.5L412.8 287.4L410.8 287.2L408.8 287.1L406.8 287.1L404.8 287.0L402.8 286.9L400.8 286.9L398.8 286.9L396.8 286.9L394.8 286.8L392.8 286.8L390.8 286.8L388.8 286.8L386.8 286.8L384.8 286.7L382.8 286.7L380.8 286.6L378.8 286.6L376.8 286.5L374.8 286.4L372.8 286.2L370.8 286.1L368.8 285.9L368.4 285.9L366.8 285.7L364.8 285.5L362.8 285.3L360.8 285.1L358.8 284.9L356.8 284.7L354.8 284.5L352.8 284.3L350.8 284.2L348.8 284.1L346.8 284.0L344.8 284.0L342.8 284.0L340.8 284.1L338.8 284.2L336.8 284.3L334.8 284.5L332.8 284.7L330.8 284.9L328.8 285.1L326.8 285.3L324.8 285.6L322.8 285.9L322.7 285.9L320.8 286.2L318.8 286.5L316.8 286.9L314.8 287.3L312.8 287.7L310.8 287.5L308.8 287.5L306.8 287.2L304.8 287.1L302.8 286.9L300.8 286.7L298.8 286.6L296.8 286.4L294.8 286.0L294.6 285.9L292.8 284.8L291.8 283.9L291.8 281.9L292.8 281.1L294.3 279.9L294.8 279.3L295.9 277.9L296.5 275.9L296.5 273.9L295.8 271.9L294.8 270.6L293.6 269.9L292.8 269.5L290.8 269.5L290.2 269.9L288.8 270.5L287.5 271.9L286.8 272.6L285.5 273.9L284.8 274.3L282.8 274.6L280.8 274.4L278.8 274.1L277.1 273.9L276.8 273.8L274.8 273.3L272.8 272.8L270.8 272.3L268.8 272.0L268.1 271.9L266.8 271.5L264.8 271.0L262.8 270.6L260.8 270.3L258.8 270.3L256.8 270.7L254.8 271.3L252.8 271.6L250.8 271.6L248.8 271.4L246.8 271.0L244.8 270.5L243.0 269.9L242.8 269.6L242.0 267.9L242.8 267.2L244.6 265.9L244.8 265.8L246.8 265.3L248.8 265.1L250.8 265.1L252.8 265.3L254.8 265.8L255.1 265.9L256.8 267.0L258.8 267.7L260.8 267.7L262.8 267.3L264.8 266.4L265.7 265.9L266.8 265.6L268.8 264.8L270.7 263.9L270.8 263.9L272.8 263.1L274.8 262.2L275.6 261.9L276.8 261.4L278.8 260.6L280.7 259.9L280.8 259.9L282.8 259.0L284.8 258.3L285.7 257.9L286.8 257.5L288.8 256.7L290.8 255.9L290.8 255.9L292.8 255.6L294.8 255.6L296.8 255.7L298.8 255.8L300.8 255.8L302.8 255.7L304.8 255.6L306.8 255.6L308.8 255.5L310.8 255.5L312.8 255.6L314.5 255.9L314.8 256.0L316.8 256.6L318.8 257.2L320.8 257.9L320.8 257.9L322.8 258.6L324.8 259.3L326.6 259.9L326.8 260.0L328.8 260.7L330.8 261.3L332.8 261.8L333.2 261.9L334.8 262.3L336.8 262.8L338.8 263.1L340.8 263.3L342.8 263.4L344.8 263.4L346.8 263.2L348.8 262.8L350.8 262.2L351.6 261.9L352.8 261.5L354.8 260.5L355.9 259.9L356.8 259.4L358.8 258.1L359.1 257.9L360.8 256.7L361.7 255.9L362.8 255.1L364.1 253.9L364.8 253.3L366.2 251.9L366.8 251.3L368.1 249.9L368.8 249.2L370.0 247.9L370.8 247.0L371.8 245.9L372.8 244.8L373.5 243.9L374.8 242.5L375.3 241.9L376.8 240.2L377.0 239.9L378.8 238.0L378.9 237.9L380.8 235.9L380.8 235.9L382.8 234.1L383.0 233.9L384.8 232.4L385.5 231.9L386.8 231.0L388.4 229.9L388.8 229.7L390.8 228.6L392.4 227.9L392.8 227.7L394.8 227.0L396.8 226.3L398.3 225.9L398.8 225.8L400.8 225.3L402.8 225.0L404.8 224.7L406.8 224.4L408.8 224.3L410.8 224.3L412.8 224.4L414.8 224.5L416.8 224.7L418.8 225.0L420.8 225.3L422.8 225.6L424.8 225.8L425.2 225.9L426.8 226.2L428.8 226.5L430.8 226.8L432.8 227.0L434.8 227.3L436.8 227.5L438.8 227.8L440.6 227.9L440.8 227.9L442.8 228.1L444.8 228.1L445.4 227.9L446.8 227.6L448.7 225.9L448.8 225.8L450.8 224.7L451.7 223.9ZM466.7 229.9L464.8 230.7L462.8 231.5L461.7 231.9L460.8 232.2L458.8 232.8L456.8 233.1L454.8 233.2L452.8 232.9L450.8 232.3L450.1 233.9L450.8 234.5L452.8 235.3L453.8 235.9L454.8 236.1L456.8 236.5L458.8 236.9L460.8 236.6L462.8 235.9L462.8 235.9L464.8 234.5L465.9 233.9L466.8 233.0L467.5 231.9L466.9 229.9L466.8 229.9ZM528.1 251.9L526.8 252.0L524.8 252.2L522.8 252.5L520.8 253.1L518.8 253.6L517.2 253.9L516.8 254.0L514.8 254.3L512.8 254.5L510.8 254.8L509.3 255.9L508.8 257.5L508.7 257.9L508.8 258.2L509.5 259.9L510.8 260.9L512.8 261.2L514.8 261.1L516.8 261.1L518.8 261.3L520.8 261.6L522.8 261.7L524.4 261.9L524.8 261.9L526.8 262.0L528.8 262.1L530.8 262.1L532.8 262.2L534.8 262.3L536.8 262.4L538.8 262.5L540.8 262.6L542.8 262.7L544.8 262.6L546.8 262.2L547.5 261.9L548.8 261.2L550.8 260.1L551.2 259.9L552.8 258.8L554.8 258.1L555.7 257.9L556.8 257.1L558.8 256.8L560.8 256.2L561.0 255.9L560.8 255.8L558.8 255.4L556.8 255.3L554.8 254.9L552.8 254.5L550.8 254.0L550.5 253.9L548.8 253.6L546.8 253.2L544.8 252.9L542.8 252.8L540.8 252.7L538.8 252.5L536.8 252.3L534.8 252.2L532.8 252.0L531.6 251.9L530.8 251.8L528.8 251.8ZM82.8 250.4L84.8 250.4L86.8 250.6L88.8 250.7L90.8 250.9L92.8 251.0L94.8 251.2L96.8 251.3L98.8 251.4L100.8 251.6L102.8 251.7L104.8 251.9L105.0 251.9L106.8 252.0L108.8 252.2L110.8 252.3L112.8 252.6L114.8 253.0L116.8 253.6L118.1 253.9L118.8 254.1L120.8 254.6L122.8 255.0L124.8 255.6L126.0 255.9L126.8 256.1L128.8 256.6L130.8 257.0L132.8 257.6L134.0 257.9L134.8 258.1L136.8 258.5L138.8 259.0L140.8 259.6L141.5 259.9L142.8 260.4L144.8 261.4L145.6 261.9L146.8 262.5L148.8 263.6L149.4 263.9L150.8 264.7L152.8 265.7L153.2 265.9L154.8 266.8L156.8 267.7L157.4 267.9L158.8 268.6L160.8 269.3L162.8 269.6L163.7 269.9L162.8 270.8L160.9 271.9L160.8 271.9L158.8 272.1L156.8 272.4L154.8 272.8L152.8 273.1L150.8 273.6L148.8 273.9L148.8 273.9L146.8 274.2L144.8 274.4L142.8 274.6L140.8 274.8L138.8 275.0L136.8 275.2L134.8 275.3L132.8 275.5L130.8 275.7L128.8 275.9L128.7 275.9L126.8 276.0L124.8 276.2L122.8 276.3L120.8 276.4L118.8 276.6L116.8 276.7L114.8 276.8L112.8 277.0L110.8 277.1L108.8 277.3L106.8 277.4L104.8 277.6L102.8 277.7L100.8 277.8L99.7 277.9L98.8 278.0L96.8 278.1L94.8 278.2L92.8 278.3L90.8 278.4L88.8 278.5L86.8 278.6L84.8 278.7L82.8 278.9L80.8 279.1L80.8 277.9L80.8 275.9L80.8 273.9L80.8 271.9L80.8 269.9L80.8 267.9L80.8 265.9L80.8 263.9L80.8 261.9L80.8 259.9L80.8 257.9L80.8 255.9L80.8 253.9L80.8 251.9L80.8 250.8ZM82.8 291.4L84.8 291.7L86.3 291.9L86.8 291.9L88.8 292.1L90.8 292.3L92.8 292.5L94.8 292.7L96.8 292.9L98.8 293.1L100.8 293.3L102.8 293.6L104.8 293.8L105.5 293.9L106.8 294.1L108.8 294.3L110.8 294.6L112.8 294.9L114.8 295.3L116.8 295.6L118.2 295.9L118.8 296.0L120.8 296.5L122.8 296.9L124.8 297.3L126.8 297.7L127.8 297.9L128.8 298.2L130.8 298.6L132.8 299.0L134.8 299.4L136.8 299.8L137.3 299.9L138.8 300.5L140.7 301.9L140.8 303.9L140.2 305.9L139.7 307.9L139.1 309.9L138.8 310.8L138.2 311.9L136.8 313.9L136.7 313.9L135.3 315.9L134.8 317.2L134.0 317.9L132.8 319.4L130.8 319.2L128.8 318.9L126.8 318.8L124.8 318.8L122.8 318.9L120.8 318.9L118.8 319.0L116.8 319.1L114.8 319.1L112.8 319.2L110.8 319.3L108.8 319.4L106.8 319.5L104.8 319.6L102.8 319.7L100.8 319.8L98.8 319.9L98.4 319.9L96.8 320.0L94.8 320.1L92.8 320.2L90.8 320.3L88.8 320.4L86.8 320.6L84.8 320.7L82.8 320.6L80.8 320.1L80.8 319.9L80.8 317.9L80.8 315.9L80.8 313.9L80.8 311.9L80.8 309.9L80.8 307.9L80.8 305.9L80.8 303.9L80.8 301.9L80.8 299.9L80.8 297.9L80.8 295.9L80.8 293.9L80.8 291.9L80.8 291.0Z"/><path fill-rule="evenodd" fill="#dcd800" d="M408.8 233.5L410.8 233.7L411.4 233.9L412.8 234.9L414.4 235.9L414.8 236.3L416.8 237.7L417.1 237.9L418.8 239.2L419.7 239.9L420.8 241.1L421.6 241.9L422.8 243.5L423.2 243.9L424.7 245.9L424.8 246.0L426.2 247.9L426.8 248.8L427.6 249.9L428.7 251.9L428.8 252.1L429.5 253.9L430.8 255.6L431.0 255.9L431.1 257.9L430.8 258.1L430.0 257.9L428.8 257.4L426.8 256.7L424.8 256.4L422.8 256.2L420.8 256.0L420.4 255.9L418.8 255.4L416.8 254.4L416.0 253.9L414.8 253.3L412.8 252.2L412.3 251.9L410.8 251.1L408.8 250.0L408.6 249.9L406.8 249.0L404.8 247.9L404.8 247.9L402.8 246.9L400.9 245.9L400.8 245.8L398.8 244.6L397.6 243.9L396.8 243.3L395.4 241.9L394.8 240.9L394.7 239.9L394.8 239.6L396.0 237.9L396.8 237.6L398.8 237.0L400.8 236.1L401.3 235.9L402.8 235.5L404.8 234.8L406.8 233.9L406.8 233.9ZM622.8 243.6L624.8 243.4L626.4 243.9L626.8 244.2L627.9 245.9L628.0 247.9L626.8 249.8L626.7 249.9L624.8 250.5L622.8 250.3L622.2 249.9L620.9 247.9L620.8 246.0L620.8 245.9L620.8 245.9L622.3 243.9ZM460.8 261.9L462.8 261.8L464.1 261.9L464.8 262.0L466.8 262.5L468.8 262.8L470.8 263.1L472.8 263.6L473.3 263.9L474.4 265.9L473.8 267.9L472.8 268.9L471.0 269.9L470.8 270.0L468.8 270.1L466.8 270.2L464.8 270.3L462.8 270.4L460.8 270.6L458.8 270.7L456.8 270.8L454.8 270.7L452.8 270.1L452.1 269.9L450.8 268.9L449.4 267.9L449.0 265.9L450.8 264.7L452.4 263.9L452.8 263.8L454.8 263.4L456.8 262.9L458.8 262.3L460.5 261.9ZM650.8 265.6L652.8 265.3L654.8 265.1L656.8 265.2L658.8 265.3L660.8 265.5L662.8 265.7L664.8 265.9L665.1 265.9L666.8 266.1L668.8 266.3L670.8 266.4L672.8 266.6L674.8 266.6L676.8 266.6L678.8 266.7L680.8 266.8L682.8 267.1L684.8 267.4L686.8 267.7L688.2 267.9L688.8 268.0L690.8 268.3L692.8 268.7L694.8 268.9L696.8 269.1L698.8 269.2L700.8 269.2L702.8 269.2L704.8 269.5L705.0 269.9L704.8 270.1L702.8 270.7L700.8 271.9L700.8 271.9L698.8 272.5L696.8 273.2L695.0 273.9L694.8 274.0L692.8 274.6L690.8 275.3L689.3 275.9L688.8 276.1L686.8 277.0L684.8 277.8L684.5 277.9L682.8 278.9L680.8 279.5L679.2 279.9L678.8 280.4L677.9 281.9L678.8 282.8L680.3 283.9L680.8 284.2L682.8 285.4L683.7 285.9L684.8 286.6L686.8 287.9L686.8 287.9L688.8 288.9L690.8 289.8L691.0 289.9L692.8 291.2L693.1 291.9L692.8 292.5L691.0 293.9L690.8 293.9L688.8 294.2L686.8 294.6L684.8 295.1L682.8 295.6L681.9 295.9L680.8 296.1L678.8 296.5L676.8 296.9L674.8 297.4L672.8 297.9L672.8 297.9L670.8 298.3L668.8 298.7L666.8 299.2L664.8 299.6L662.8 299.9L660.8 299.9L658.8 299.8L656.8 299.6L654.8 299.5L652.8 299.4L650.8 299.3L648.8 299.2L646.8 299.1L644.8 299.0L642.8 298.9L640.8 298.8L638.8 298.7L636.8 298.6L634.8 298.5L632.8 298.4L630.8 298.3L628.8 298.2L626.8 298.2L624.8 298.1L622.8 298.0L621.8 297.9L620.8 297.8L618.8 297.4L616.8 296.7L614.8 296.0L614.7 295.9L612.8 295.1L610.8 294.3L609.7 293.9L608.8 293.5L606.8 292.6L604.8 291.9L604.8 291.9L602.8 291.0L600.8 290.3L599.6 289.9L598.8 289.4L597.2 287.9L596.9 285.9L597.0 283.9L597.3 281.9L598.7 279.9L598.8 279.9L600.8 279.0L602.8 278.2L603.4 277.9L604.8 277.4L606.8 276.6L608.6 275.9L608.8 275.8L610.8 275.0L612.8 274.2L613.6 273.9L614.8 273.5L616.8 272.7L618.8 271.9L618.9 271.9L620.8 271.4L622.8 271.0L624.8 270.6L626.8 270.2L628.5 269.9L628.8 269.8L630.8 269.4L632.8 269.0L634.8 268.6L636.8 268.3L638.8 267.9L638.8 267.9L640.8 267.5L642.8 267.1L644.8 266.7L646.8 266.4L648.8 266.0L649.4 265.9Z"/><path d="M82.80 121.90H738.17V124.19H82.80ZM738.17 121.90H741.60V124.19H738.17ZM82.80 124.19H738.17V128.76H82.80ZM738.17 124.19H741.60V128.76H738.17ZM82.80 128.76H216.62V133.34H82.80ZM230.34 128.76H738.17V133.34H230.34ZM738.17 128.76H741.60V133.34H738.17ZM82.80 133.34H216.62V137.92H82.80ZM353.87 133.34H738.17V137.92H353.87ZM738.17 133.34H741.60V137.92H738.17ZM99.96 137.92H182.31V142.49H99.96ZM367.59 137.92H738.17V142.49H367.59ZM134.27 142.49H182.31V147.07H134.27ZM374.46 142.49H724.44V147.07H374.46ZM141.13 147.07H182.31V151.65H141.13ZM381.32 147.07H662.68V151.65H381.32ZM401.91 151.65H408.77V156.22H401.91ZM415.63 151.65H642.09V156.22H415.63ZM388.18 156.22H395.04V160.80H388.18ZM415.63 156.22H628.37V160.80H415.63ZM237.21 160.80H250.93V165.38H237.21ZM388.18 160.80H395.04V165.38H388.18ZM415.63 160.80H614.64V165.38H415.63ZM237.21 165.38H250.93V169.95H237.21ZM347.01 165.38H381.32V169.95H347.01ZM422.49 165.38H607.78V169.95H422.49ZM326.42 169.95H340.14V174.53H326.42ZM347.01 169.95H381.32V174.53H347.01ZM422.49 169.95H594.06V174.53H422.49ZM264.66 174.53H271.52V179.10H264.66ZM319.56 174.53H340.14V179.10H319.56ZM347.01 174.53H395.04V179.10H347.01ZM422.49 174.53H600.92V179.10H422.49ZM628.37 174.53H669.54V179.10H628.37ZM264.66 179.10H278.38V183.68H264.66ZM319.56 179.10H401.91V183.68H319.56ZM415.63 179.10H703.86V183.68H415.63ZM319.56 183.68H696.99V188.26H319.56ZM312.69 188.26H696.99V192.83H312.69ZM264.66 192.83H271.52V197.41H264.66ZM305.83 192.83H690.13V197.41H305.83ZM264.66 197.41H271.52V201.99H264.66ZM298.97 197.41H683.27V201.99H298.97ZM257.79 201.99H271.52V206.56H257.79ZM298.97 201.99H669.54V206.56H298.97ZM257.79 206.56H264.66V211.14H257.79ZM305.83 206.56H539.16V211.14H305.83ZM559.74 206.56H655.82V211.14H559.74ZM257.79 211.14H264.66V215.72H257.79ZM305.83 211.14H525.43V215.72H305.83ZM566.61 211.14H648.96V215.72H566.61ZM305.83 215.72H477.39V220.29H305.83ZM491.12 215.72H504.84V220.29H491.12ZM573.47 215.72H642.09V220.29H573.47ZM312.69 220.29H449.94V224.87H312.69ZM580.33 220.29H642.09V224.87H580.33ZM312.69 224.87H443.08V229.45H312.69ZM463.67 224.87H470.53V229.45H463.67ZM484.26 224.87H518.57V229.45H484.26ZM532.29 224.87H559.74V229.45H532.29ZM580.33 224.87H635.23V229.45H580.33ZM305.83 229.45H429.36V234.02H305.83ZM463.67 229.45H566.61V234.02H463.67ZM580.33 229.45H635.23V234.02H580.33ZM271.52 234.02H278.38V238.60H271.52ZM305.83 234.02H312.69V238.60H305.83ZM319.56 234.02H401.91V238.60H319.56ZM408.77 234.02H422.49V238.60H408.77ZM470.53 234.02H628.37V238.60H470.53ZM278.38 238.60H285.24V243.17H278.38ZM312.69 238.60H395.04V243.17H312.69ZM415.63 238.60H422.49V243.17H415.63ZM484.26 238.60H532.29V243.17H484.26ZM559.74 238.60H628.37V243.17H559.74ZM285.24 243.17H292.11V247.75H285.24ZM305.83 243.17H401.91V247.75H305.83ZM497.98 243.17H532.29V247.75H497.98ZM566.61 243.17H621.51V247.75H566.61ZM292.11 247.75H415.63V252.33H292.11ZM511.71 247.75H532.29V252.33H511.71ZM566.61 247.75H621.51V252.33H566.61ZM298.97 252.33H422.49V256.90H298.97ZM573.47 252.33H628.37V256.90H573.47ZM305.83 256.90H429.36V261.48H305.83ZM580.33 256.90H628.37V261.48H580.33ZM305.83 261.48H436.22V266.06H305.83ZM580.33 261.48H635.23V266.06H580.33ZM305.83 266.06H449.94V270.63H305.83ZM587.19 266.06H635.23V270.63H587.19ZM312.69 270.63H470.53V275.21H312.69ZM594.06 270.63H628.37V275.21H594.06ZM312.69 275.21H477.39V279.79H312.69ZM600.92 275.21H621.51V279.79H600.92ZM312.69 279.79H477.39V284.36H312.69ZM312.69 284.36H477.39V288.94H312.69ZM285.24 288.94H292.11V293.51H285.24ZM312.69 288.94H477.39V293.51H312.69ZM312.69 293.51H484.26V298.09H312.69ZM312.69 298.09H484.26V302.67H312.69ZM319.56 302.67H491.12V307.24H319.56ZM319.56 307.24H497.98V311.82H319.56ZM319.56 311.82H504.84V316.40H319.56ZM326.42 316.40H504.84V320.97H326.42ZM326.42 320.97H511.71V325.55H326.42ZM333.28 325.55H518.57V330.13H333.28ZM333.28 330.13H525.43V334.70H333.28ZM340.14 334.70H559.74V339.28H340.14ZM340.14 339.28H580.33V343.85H340.14ZM587.19 339.28H600.92V343.85H587.19ZM347.01 343.85H600.92V348.43H347.01ZM347.01 348.43H607.78V353.01H347.01ZM347.01 353.01H607.78V357.58H347.01ZM347.01 357.58H607.78V362.16H347.01ZM347.01 362.16H607.78V366.74H347.01ZM347.01 366.74H607.78V371.31H347.01ZM353.87 371.31H607.78V375.89H353.87ZM353.87 375.89H607.78V380.47H353.87ZM353.87 380.47H607.78V385.04H353.87ZM353.87 385.04H614.64V389.62H353.87ZM360.73 389.62H607.78V394.20H360.73ZM367.59 394.20H381.32V398.77H367.59ZM388.18 394.20H600.92V398.77H388.18ZM401.91 398.77H594.06V403.35H401.91ZM401.91 403.35H408.77V407.92H401.91ZM415.63 403.35H580.33V407.92H415.63ZM374.46 407.92H408.77V412.50H374.46ZM415.63 407.92H580.33V412.50H415.63ZM422.49 412.50H573.47V417.08H422.49ZM443.08 417.08H456.81V421.65H443.08ZM470.53 417.08H566.61V421.65H470.53ZM532.29 421.65H552.88V426.23H532.29ZM82.80 449.11H738.17V451.40H82.80ZM738.17 449.11H741.60V451.40H738.17Z" fill="#9c9c9c"/><path d="M99.96 137.92V142.49M134.27 142.49V147.07M141.13 147.07V151.65M182.31 137.92V151.65M216.62 128.76V137.92M230.34 128.76V133.34M237.21 160.80V169.95M250.93 160.80V169.95M257.79 201.99V215.72M264.66 174.53V183.68M264.66 192.83V201.99M264.66 206.56V215.72M271.52 174.53V179.10M271.52 192.83V206.56M271.52 234.02V238.60M278.38 179.10V183.68M278.38 234.02V243.17M285.24 238.60V247.75M285.24 288.94V293.51M292.11 243.17V252.33M292.11 288.94V293.51M298.97 197.41V206.56M298.97 252.33V256.90M305.83 192.83V197.41M305.83 206.56V220.29M305.83 229.45V238.60M305.83 243.17V247.75M305.83 256.90V270.63M312.69 188.26V192.83M312.69 220.29V229.45M312.69 234.02V243.17M312.69 270.63V302.67M319.56 174.53V188.26M319.56 234.02V238.60M319.56 302.67V316.40M326.42 169.95V174.53M326.42 316.40V325.55M333.28 325.55V334.70M340.14 169.95V179.10M340.14 334.70V343.85M347.01 165.38V179.10M347.01 343.85V371.31M353.87 133.34V137.92M353.87 371.31V389.62M360.73 389.62V394.20M367.59 137.92V142.49M367.59 394.20V398.77M374.46 142.49V147.07M374.46 407.92V412.50M381.32 147.07V151.65M381.32 165.38V174.53M381.32 394.20V398.77M388.18 156.22V165.38M388.18 394.20V398.77M395.04 156.22V165.38M395.04 174.53V179.10M395.04 238.60V243.17M401.91 151.65V156.22M401.91 179.10V183.68M401.91 234.02V238.60M401.91 243.17V247.75M401.91 398.77V407.92M408.77 151.65V156.22M408.77 234.02V238.60M408.77 403.35V412.50M415.63 151.65V165.38M415.63 179.10V183.68M415.63 238.60V243.17M415.63 247.75V252.33M415.63 403.35V412.50M422.49 165.38V179.10M422.49 234.02V243.17M422.49 252.33V256.90M422.49 412.50V417.08M429.36 229.45V234.02M429.36 256.90V261.48M436.22 261.48V266.06M443.08 224.87V229.45M443.08 417.08V421.65M449.94 220.29V224.87M449.94 266.06V270.63M456.81 417.08V421.65M463.67 224.87V234.02M470.53 224.87V229.45M470.53 234.02V238.60M470.53 270.63V275.21M470.53 417.08V421.65M477.39 215.72V220.29M477.39 275.21V293.51M484.26 224.87V229.45M484.26 238.60V243.17M484.26 293.51V302.67M491.12 215.72V220.29M491.12 302.67V307.24M497.98 243.17V247.75M497.98 307.24V311.82M504.84 215.72V220.29M504.84 311.82V320.97M511.71 247.75V252.33M511.71 320.97V325.55M518.57 224.87V229.45M518.57 325.55V330.13M525.43 211.14V215.72M525.43 330.13V334.70M532.29 224.87V229.45M532.29 238.60V252.33M532.29 421.65V426.23M539.16 206.56V211.14M552.88 421.65V426.23M559.74 206.56V211.14M559.74 224.87V229.45M559.74 238.60V243.17M559.74 334.70V339.28M566.61 211.14V215.72M566.61 229.45V234.02M566.61 243.17V252.33M566.61 417.08V421.65M573.47 215.72V220.29M573.47 252.33V256.90M573.47 412.50V417.08M580.33 220.29V234.02M580.33 256.90V266.06M580.33 339.28V343.85M580.33 403.35V412.50M587.19 266.06V270.63M587.19 339.28V343.85M594.06 169.95V174.53M594.06 270.63V275.21M594.06 398.77V403.35M600.92 174.53V179.10M600.92 275.21V279.79M600.92 339.28V348.43M600.92 394.20V398.77M607.78 165.38V169.95M607.78 348.43V385.04M607.78 389.62V394.20M614.64 160.80V165.38M614.64 385.04V389.62M621.51 243.17V252.33M621.51 275.21V279.79M628.37 156.22V160.80M628.37 174.53V179.10M628.37 234.02V243.17M628.37 252.33V261.48M628.37 270.63V275.21M635.23 224.87V234.02M635.23 261.48V270.63M642.09 151.65V156.22M642.09 215.72V224.87M648.96 211.14V215.72M655.82 206.56V211.14M662.68 147.07V151.65M669.54 174.53V179.10M669.54 201.99V206.56M683.27 197.41V201.99M690.13 192.83V197.41M696.99 183.68V192.83M703.86 179.10V183.68M724.44 142.49V147.07M738.17 137.92V142.49M216.62 128.76H230.34M230.34 133.34H353.87M82.80 137.92H99.96M182.31 137.92H216.62M353.87 137.92H367.59M738.17 137.92H741.60M99.96 142.49H134.27M367.59 142.49H374.46M724.44 142.49H738.17M134.27 147.07H141.13M374.46 147.07H381.32M662.68 147.07H724.44M141.13 151.65H182.31M381.32 151.65H401.91M408.77 151.65H415.63M642.09 151.65H662.68M388.18 156.22H395.04M401.91 156.22H408.77M628.37 156.22H642.09M237.21 160.80H250.93M614.64 160.80H628.37M347.01 165.38H381.32M388.18 165.38H395.04M415.63 165.38H422.49M607.78 165.38H614.64M237.21 169.95H250.93M326.42 169.95H340.14M594.06 169.95H607.78M264.66 174.53H271.52M319.56 174.53H326.42M381.32 174.53H395.04M594.06 174.53H600.92M628.37 174.53H669.54M271.52 179.10H278.38M340.14 179.10H347.01M395.04 179.10H401.91M415.63 179.10H422.49M600.92 179.10H628.37M669.54 179.10H703.86M264.66 183.68H278.38M401.91 183.68H415.63M696.99 183.68H703.86M312.69 188.26H319.56M264.66 192.83H271.52M305.83 192.83H312.69M690.13 192.83H696.99M298.97 197.41H305.83M683.27 197.41H690.13M257.79 201.99H264.66M669.54 201.99H683.27M264.66 206.56H271.52M298.97 206.56H305.83M539.16 206.56H559.74M655.82 206.56H669.54M525.43 211.14H539.16M559.74 211.14H566.61M648.96 211.14H655.82M257.79 215.72H264.66M477.39 215.72H491.12M504.84 215.72H525.43M566.61 215.72H573.47M642.09 215.72H648.96M305.83 220.29H312.69M449.94 220.29H477.39M491.12 220.29H504.84M573.47 220.29H580.33M443.08 224.87H449.94M463.67 224.87H470.53M484.26 224.87H518.57M532.29 224.87H559.74M635.23 224.87H642.09M305.83 229.45H312.69M429.36 229.45H443.08M470.53 229.45H484.26M518.57 229.45H532.29M559.74 229.45H566.61M271.52 234.02H278.38M312.69 234.02H319.56M401.91 234.02H408.77M422.49 234.02H429.36M463.67 234.02H470.53M566.61 234.02H580.33M628.37 234.02H635.23M271.52 238.60H285.24M305.83 238.60H319.56M395.04 238.60H401.91M408.77 238.60H415.63M470.53 238.60H484.26M532.29 238.60H559.74M278.38 243.17H292.11M305.83 243.17H312.69M395.04 243.17H401.91M415.63 243.17H422.49M484.26 243.17H497.98M559.74 243.17H566.61M621.51 243.17H628.37M285.24 247.75H305.83M401.91 247.75H415.63M497.98 247.75H511.71M292.11 252.33H298.97M415.63 252.33H422.49M511.71 252.33H532.29M566.61 252.33H573.47M621.51 252.33H628.37M298.97 256.90H305.83M422.49 256.90H429.36M573.47 256.90H580.33M429.36 261.48H436.22M628.37 261.48H635.23M436.22 266.06H449.94M580.33 266.06H587.19M305.83 270.63H312.69M449.94 270.63H470.53M587.19 270.63H594.06M628.37 270.63H635.23M470.53 275.21H477.39M594.06 275.21H600.92M621.51 275.21H628.37M600.92 279.79H621.51M285.24 288.94H292.11M285.24 293.51H292.11M477.39 293.51H484.26M312.69 302.67H319.56M484.26 302.67H491.12M491.12 307.24H497.98M497.98 311.82H504.84M319.56 316.40H326.42M504.84 320.97H511.71M326.42 325.55H333.28M511.71 325.55H518.57M518.57 330.13H525.43M333.28 334.70H340.14M525.43 334.70H559.74M559.74 339.28H580.33M587.19 339.28H600.92M340.14 343.85H347.01M580.33 343.85H587.19M600.92 348.43H607.78M347.01 371.31H353.87M607.78 385.04H614.64M353.87 389.62H360.73M607.78 389.62H614.64M360.73 394.20H367.59M381.32 394.20H388.18M600.92 394.20H607.78M367.59 398.77H381.32M388.18 398.77H401.91M594.06 398.77H600.92M408.77 403.35H415.63M580.33 403.35H594.06M374.46 407.92H401.91M374.46 412.50H408.77M415.63 412.50H422.49M573.47 412.50H580.33M422.49 417.08H443.08M456.81 417.08H470.53M566.61 417.08H573.47M443.08 421.65H456.81M470.53 421.65H532.29M552.88 421.65H566.61M532.29 426.23H552.88M82.80 449.11H738.17M738.17 449.11H741.60" fill="none" stroke="#1a1a1a" stroke-width="1.1"/></g><rect x="82.80" y="121.90" width="658.80" height="329.50" fill="none" stroke="#222" stroke-width="1.3"/><path d="M82.80 121.90V129.40M82.80 451.40V443.90M101.10 121.90V125.60M101.10 451.40V447.70M119.40 121.90V125.60M119.40 451.40V447.70M137.70 121.90V125.60M137.70 451.40V447.70M156.00 121.90V125.60M156.00 451.40V447.70M174.30 121.90V125.60M174.30 451.40V447.70M192.60 121.90V129.40M192.60 451.40V443.90M210.90 121.90V125.60M210.90 451.40V447.70M229.20 121.90V125.60M229.20 451.40V447.70M247.50 121.90V125.60M247.50 451.40V447.70M265.80 121.90V125.60M265.80 451.40V447.70M284.10 121.90V125.60M284.10 451.40V447.70M302.40 121.90V129.40M302.40 451.40V443.90M320.70 121.90V125.60M320.70 451.40V447.70M339.00 121.90V125.60M339.00 451.40V447.70M357.30 121.90V125.60M357.30 451.40V447.70M375.60 121.90V125.60M375.60 451.40V447.70M393.90 121.90V125.60M393.90 451.40V447.70M412.20 121.90V129.40M412.20 451.40V443.90M430.50 121.90V125.60M430.50 451.40V447.70M448.80 121.90V125.60M448.80 451.40V447.70M467.10 121.90V125.60M467.10 451.40V447.70M485.40 121.90V125.60M485.40 451.40V447.70M503.70 121.90V125.60M503.70 451.40V447.70M522.00 121.90V129.40M522.00 451.40V443.90M540.30 121.90V125.60M540.30 451.40V447.70M558.60 121.90V125.60M558.60 451.40V447.70M576.90 121.90V125.60M576.90 451.40V447.70M595.20 121.90V125.60M595.20 451.40V447.70M613.50 121.90V125.60M613.50 451.40V447.70M631.80 121.90V129.40M631.80 451.40V443.90M650.10 121.90V125.60M650.10 451.40V447.70M668.40 121.90V125.60M668.40 451.40V447.70M686.70 121.90V125.60M686.70 451.40V447.70M705.00 121.90V125.60M705.00 451.40V447.70M723.30 121.90V125.60M723.30 451.40V447.70M741.60 121.90V129.40M741.60 451.40V443.90M82.80 451.40H86.50M741.60 451.40H737.90M82.80 433.09H90.30M741.60 433.09H734.10M82.80 414.79H86.50M741.60 414.79H737.90M82.80 396.48H86.50M741.60 396.48H737.90M82.80 378.18H86.50M741.60 378.18H737.90M82.80 359.87H90.30M741.60 359.87H734.10M82.80 341.57H86.50M741.60 341.57H737.90M82.80 323.26H86.50M741.60 323.26H737.90M82.80 304.96H86.50M741.60 304.96H737.90M82.80 286.65H90.30M741.60 286.65H734.10M82.80 268.34H86.50M741.60 268.34H737.90M82.80 250.04H86.50M741.60 250.04H737.90M82.80 231.73H86.50M741.60 231.73H737.90M82.80 213.43H90.30M741.60 213.43H734.10M82.80 195.12H86.50M741.60 195.12H737.90M82.80 176.82H86.50M741.60 176.82H737.90M82.80 158.51H86.50M741.60 158.51H737.90M82.80 140.21H90.30M741.60 140.21H734.10M82.80 121.90H86.50M741.60 121.90H737.90" stroke="#222" stroke-width="1.1" fill="none"/><text x="150.5" y="92" font-family="Liberation Serif, serif" font-size="33.5" textLength="525" lengthAdjust="spacingAndGlyphs" fill="#000" stroke="#000" stroke-width="0.7">Ocean Potential Temperature at 5m (in C)</text><text x="82.2" y="117.6" font-family="Liberation Serif, serif" font-size="17.2" textLength="88.5" lengthAdjust="spacingAndGlyphs" fill="#000" stroke="#000" stroke-width="0.45">Expt = texlq</text><text x="362.6" y="112.6" font-family="Liberation Serif, serif" font-size="18" font-weight="bold" textLength="97.5" lengthAdjust="spacingAndGlyphs" fill="#000">213_2_MaBP</text><text x="714.6" y="115.4" font-family="Liberation Serif, serif" font-size="18" font-weight="bold" textLength="28.2" lengthAdjust="spacingAndGlyphs" fill="#000">JJA</text><text x="74.7" y="145.61" font-family="Liberation Serif, serif" font-size="16" text-anchor="end" fill="#000" stroke="#000" stroke-width="0.35">80N</text><text x="74.7" y="218.83" font-family="Liberation Serif, serif" font-size="16" text-anchor="end" fill="#000" stroke="#000" stroke-width="0.35">40N</text><text x="74.7" y="292.05" font-family="Liberation Serif, serif" font-size="16" text-anchor="end" fill="#000" stroke="#000" stroke-width="0.35">0</text><text x="74.7" y="365.27" font-family="Liberation Serif, serif" font-size="16" text-anchor="end" fill="#000" stroke="#000" stroke-width="0.35">40S</text><text x="74.7" y="438.49" font-family="Liberation Serif, serif" font-size="16" text-anchor="end" fill="#000" stroke="#000" stroke-width="0.35">80S</text><text x="82.80" y="471.9" font-family="Liberation Serif, serif" font-size="16.5" text-anchor="middle" fill="#000" stroke="#000" stroke-width="0.35">180</text><text x="192.60" y="471.9" font-family="Liberation Serif, serif" font-size="16.5" text-anchor="middle" fill="#000" stroke="#000" stroke-width="0.35">120W</text><text x="302.40" y="471.9" font-family="Liberation Serif, serif" font-size="16.5" text-anchor="middle" fill="#000" stroke="#000" stroke-width="0.35">60W</text><text x="412.20" y="471.9" font-family="Liberation Serif, serif" font-size="16.5" text-anchor="middle" fill="#000" stroke="#000" stroke-width="0.35">0</text><text x="522.00" y="471.9" font-family="Liberation Serif, serif" font-size="16.5" text-anchor="middle" fill="#000" stroke="#000" stroke-width="0.35">60E</text><text x="631.80" y="471.9" font-family="Liberation Serif, serif" font-size="16.5" text-anchor="middle" fill="#000" stroke="#000" stroke-width="0.35">120E</text><text x="741.60" y="471.9" font-family="Liberation Serif, serif" font-size="16.5" text-anchor="middle" fill="#000" stroke="#000" stroke-width="0.35">180</text><rect x="84.50" y="493.50" width="27.30" height="13.00" fill="#7800d8"/><rect x="111.80" y="493.50" width="27.30" height="13.00" fill="#7000d8"/><rect x="139.09" y="493.50" width="27.30" height="13.00" fill="#6400d8"/><rect x="166.39" y="493.50" width="27.30" height="13.00" fill="#5400d8"/><rect x="193.68" y="493.50" width="27.30" height="13.00" fill="#2000d8"/><rect x="220.98" y="493.50" width="27.30" height="13.00" fill="#0048d8"/><rect x="248.28" y="493.50" width="27.30" height="13.00" fill="#0070d8"/><rect x="275.57" y="493.50" width="27.30" height="13.00" fill="#0088d8"/><rect x="302.87" y="493.50" width="27.30" height="13.00" fill="#0098d8"/><rect x="330.16" y="493.50" width="27.30" height="13.00" fill="#00a8d8"/><rect x="357.46" y="493.50" width="27.30" height="13.00" fill="#00b8d8"/><rect x="384.75" y="493.50" width="27.30" height="13.00" fill="#00c8d8"/><rect x="412.05" y="493.50" width="27.30" height="13.00" fill="#00d8b0"/><rect x="439.35" y="493.50" width="27.30" height="13.00" fill="#00d878"/><rect x="466.64" y="493.50" width="27.30" height="13.00" fill="#34dc00"/><rect x="493.94" y="493.50" width="27.30" height="13.00" fill="#88dc00"/><rect x="521.23" y="493.50" width="27.30" height="13.00" fill="#b8dc00"/><rect x="548.53" y="493.50" width="27.30" height="13.00" fill="#dcd800"/><rect x="575.83" y="493.50" width="27.30" height="13.00" fill="#dcb800"/><rect x="603.12" y="493.50" width="27.30" height="13.00" fill="#dc9000"/><rect x="630.42" y="493.50" width="27.30" height="13.00" fill="#dc6800"/><rect x="657.71" y="493.50" width="27.30" height="13.00" fill="#dc4800"/><rect x="685.01" y="493.50" width="27.30" height="13.00" fill="#dc2800"/><rect x="712.30" y="493.50" width="27.30" height="13.00" fill="#dc1000"/><path d="M111.80 493.50V506.50M139.09 493.50V506.50M166.39 493.50V506.50M193.68 493.50V506.50M220.98 493.50V506.50M248.28 493.50V506.50M275.57 493.50V506.50M302.87 493.50V506.50M330.16 493.50V506.50M357.46 493.50V506.50M384.75 493.50V506.50M412.05 493.50V506.50M439.35 493.50V506.50M466.64 493.50V506.50M493.94 493.50V506.50M521.23 493.50V506.50M548.53 493.50V506.50M575.83 493.50V506.50M603.12 493.50V506.50M630.42 493.50V506.50M657.71 493.50V506.50M685.01 493.50V506.50M712.30 493.50V506.50" stroke="#222" stroke-width="1" fill="none"/><rect x="84.50" y="493.50" width="655.10" height="13.00" fill="none" stroke="#222" stroke-width="1.1"/><text x="111.80" y="522.5" font-family="Liberation Serif, serif" font-size="18" text-anchor="middle" fill="#000" stroke="#000" stroke-width="0.3">-2</text><text x="166.39" y="522.5" font-family="Liberation Serif, serif" font-size="18" text-anchor="middle" fill="#000" stroke="#000" stroke-width="0.3">2</text><text x="220.98" y="522.5" font-family="Liberation Serif, serif" font-size="18" text-anchor="middle" fill="#000" stroke="#000" stroke-width="0.3">6</text><text x="275.57" y="522.5" font-family="Liberation Serif, serif" font-size="18" text-anchor="middle" fill="#000" stroke="#000" stroke-width="0.3">10</text><text x="330.16" y="522.5" font-family="Liberation Serif, serif" font-size="18" text-anchor="middle" fill="#000" stroke="#000" stroke-width="0.3">14</text><text x="384.75" y="522.5" font-family="Liberation Serif, serif" font-size="18" text-anchor="middle" fill="#000" stroke="#000" stroke-width="0.3">18</text><text x="439.35" y="522.5" font-family="Liberation Serif, serif" font-size="18" text-anchor="middle" fill="#000" stroke="#000" stroke-width="0.3">22</text><text x="493.94" y="522.5" font-family="Liberation Serif, serif" font-size="18" text-anchor="middle" fill="#000" stroke="#000" stroke-width="0.3">26</text><text x="548.53" y="522.5" font-family="Liberation Serif, serif" font-size="18" text-anchor="middle" fill="#000" stroke="#000" stroke-width="0.3">30</text><text x="603.12" y="522.5" font-family="Liberation Serif, serif" font-size="18" text-anchor="middle" fill="#000" stroke="#000" stroke-width="0.3">34</text><text x="657.71" y="522.5" font-family="Liberation Serif, serif" font-size="18" text-anchor="middle" fill="#000" stroke="#000" stroke-width="0.3">38</text><text x="712.30" y="522.5" font-family="Liberation Serif, serif" font-size="18" text-anchor="middle" fill="#000" stroke="#000" stroke-width="0.3">42</text></svg></body></html>
